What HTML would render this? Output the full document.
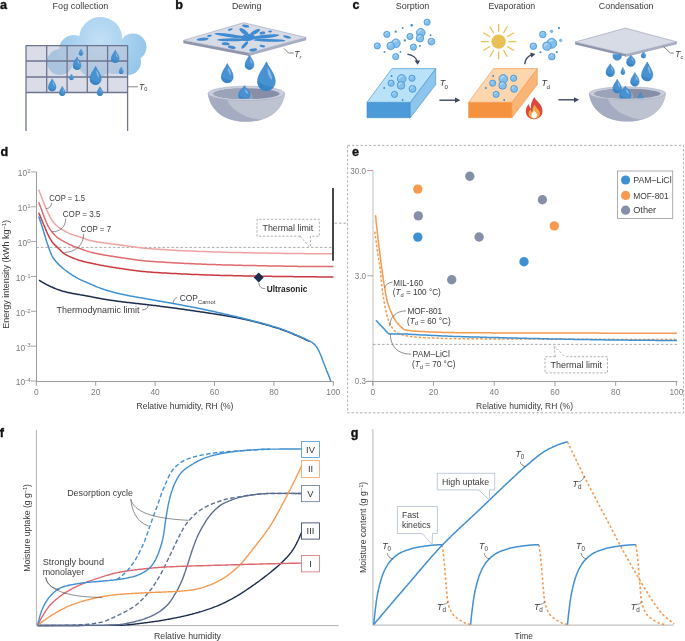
<!DOCTYPE html><html><head><meta charset="utf-8"><style>html,body{margin:0;padding:0;background:#fff;width:685px;height:641px;overflow:hidden}svg{display:block;will-change:transform}text{font-family:"Liberation Sans", sans-serif}</style></head><body>
<svg width="685" height="641" viewBox="0 0 685 641">
<defs><radialGradient id="cloudg" gradientUnits="userSpaceOnUse" cx="100" cy="40" r="50"><stop offset="0" stop-color="#c3e0f5"/><stop offset="1" stop-color="#92c5ea"/></radialGradient></defs>
<rect width="685" height="641" fill="#fff"/>
<text x="0" y="9.3" font-size="12.6" fill="#111" text-anchor="start" font-weight="bold" stroke="#111" stroke-width="0.35">a</text>
<text x="52.6" y="9.2" font-size="8.8" fill="#3a3a3a" text-anchor="start" font-weight="normal" textLength="55.7" lengthAdjust="spacingAndGlyphs">Fog collection</text>
<text x="175.3" y="9.3" font-size="12.6" fill="#111" text-anchor="start" font-weight="bold" stroke="#111" stroke-width="0.35">b</text>
<text x="232" y="9.2" font-size="8.8" fill="#3a3a3a" text-anchor="start" font-weight="normal" textLength="29.4" lengthAdjust="spacingAndGlyphs">Dewing</text>
<text x="352.4" y="8.9" font-size="12.6" fill="#111" text-anchor="start" font-weight="bold" stroke="#111" stroke-width="0.35">c</text>
<text x="395.7" y="9.2" font-size="8.8" fill="#3a3a3a" text-anchor="start" font-weight="normal" textLength="33.6" lengthAdjust="spacingAndGlyphs">Sorption</text>
<text x="488.4" y="9.2" font-size="8.8" fill="#3a3a3a" text-anchor="start" font-weight="normal" textLength="46.8" lengthAdjust="spacingAndGlyphs">Evaporation</text>
<text x="598.8" y="9.2" font-size="8.8" fill="#3a3a3a" text-anchor="start" font-weight="normal" textLength="54.7" lengthAdjust="spacingAndGlyphs">Condensation</text>
<clipPath id="cloudclip"><circle cx="100.7" cy="38.5" r="21.5"/><circle cx="74" cy="50" r="15"/><circle cx="60" cy="62" r="13"/><circle cx="133" cy="47" r="13.5"/><circle cx="128" cy="62" r="13"/><circle cx="95" cy="60" r="18"/><circle cx="115" cy="58" r="16"/></clipPath><rect x="40" y="10" width="115" height="75" fill="url(#cloudg)" clip-path="url(#cloudclip)"/>
<rect x="26" y="45.6" width="101.6" height="46.9" fill="rgb(189,195,213)" opacity="0.56"/>
<g stroke="#6d7591" stroke-width="1.3" fill="none"><line x1="26" y1="45.6" x2="26" y2="131"/><line x1="46.7" y1="45.6" x2="46.7" y2="92.5"/><line x1="67.1" y1="45.6" x2="67.1" y2="92.5"/><line x1="87.3" y1="45.6" x2="87.3" y2="92.5"/><line x1="107.6" y1="45.6" x2="107.6" y2="92.5"/><line x1="127.6" y1="45.6" x2="127.6" y2="131"/><line x1="26" y1="45.6" x2="127.6" y2="45.6"/><line x1="26" y1="61" x2="127.6" y2="61"/><line x1="26" y1="77" x2="127.6" y2="77"/><line x1="26" y1="92.5" x2="127.6" y2="92.5"/></g>
<path d="M81.00,48.90 C81.63,50.35 83.10,51.51 83.10,53.40 A2.10,2.10 0 0 1 78.90,53.40 C78.90,51.51 80.37,50.35 81.00,48.90Z" fill="#4892d2" stroke="#3a80c3" stroke-width="0.25"/><path d="M78.94,53.19 A2.06,2.06 0 0 0 82.72,54.60 Q80.47,54.55 78.94,53.19Z" fill="#3a85c8"/><path d="M81.25,50.22 C81.94,51.08 82.47,52.24 82.26,52.98 C81.63,52.35 81.21,51.54 81.25,50.22Z" fill="#9cc6ea" opacity="0.8"/>
<path d="M115.20,50.20 C116.39,52.93 119.15,55.09 119.15,58.65 A3.95,3.95 0 0 1 111.25,58.65 C111.25,55.09 114.02,52.93 115.20,50.20Z" fill="#4892d2" stroke="#3a80c3" stroke-width="0.47"/><path d="M111.33,58.25 A3.87,3.87 0 0 0 118.44,60.92 Q114.21,60.82 111.33,58.25Z" fill="#3a85c8"/><path d="M115.67,52.68 C116.98,54.29 117.97,56.48 117.57,57.86 C116.39,56.67 115.59,55.16 115.67,52.68Z" fill="#9cc6ea" opacity="0.8"/>
<path d="M77.00,57.00 C78.19,59.77 80.95,62.09 80.95,65.65 A3.95,3.95 0 0 1 73.05,65.65 C73.05,62.09 75.81,59.77 77.00,57.00Z" fill="#4892d2" stroke="#3a80c3" stroke-width="0.47"/><path d="M73.13,65.25 A3.87,3.87 0 0 0 80.24,67.92 Q76.01,67.82 73.13,65.25Z" fill="#3a85c8"/><path d="M77.47,59.52 C78.78,61.16 79.77,63.48 79.37,64.86 C78.19,63.67 77.39,62.04 77.47,59.52Z" fill="#9cc6ea" opacity="0.8"/>
<path d="M121.20,67.00 C121.86,68.52 123.40,69.72 123.40,71.70 A2.20,2.20 0 0 1 119.00,71.70 C119.00,69.72 120.54,68.52 121.20,67.00Z" fill="#4892d2" stroke="#3a80c3" stroke-width="0.26"/><path d="M119.04,71.48 A2.16,2.16 0 0 0 123.00,72.96 Q120.65,72.91 119.04,71.48Z" fill="#3a85c8"/><path d="M121.46,68.38 C122.19,69.28 122.74,70.49 122.52,71.26 C121.86,70.60 121.42,69.76 121.46,68.38Z" fill="#9cc6ea" opacity="0.8"/>
<path d="M95.60,66.30 C97.28,70.35 101.20,74.06 101.20,79.10 A5.60,5.60 0 0 1 90.00,79.10 C90.00,74.06 93.92,70.35 95.60,66.30Z" fill="#4892d2" stroke="#3a80c3" stroke-width="0.60"/><path d="M90.11,78.54 A5.49,5.49 0 0 0 100.19,82.31 Q94.20,82.18 90.11,78.54Z" fill="#3a85c8"/><path d="M96.27,69.98 C98.12,72.37 99.52,76.02 98.96,77.98 C97.28,76.30 96.16,73.66 96.27,69.98Z" fill="#9cc6ea" opacity="0.8"/>
<path d="M71.50,74.00 C72.13,75.32 73.60,76.01 73.60,77.90 A2.10,2.10 0 0 1 69.40,77.90 C69.40,76.01 70.87,75.32 71.50,74.00Z" fill="#4892d2" stroke="#3a80c3" stroke-width="0.25"/><path d="M69.44,77.69 A2.06,2.06 0 0 0 73.22,79.10 Q70.97,79.06 69.44,77.69Z" fill="#3a85c8"/><path d="M71.75,75.20 C72.44,75.98 72.97,76.75 72.76,77.48 C72.13,76.85 71.71,76.40 71.75,75.20Z" fill="#9cc6ea" opacity="0.8"/>
<path d="M52.20,78.80 C53.34,81.48 56.00,83.78 56.00,87.20 A3.80,3.80 0 0 1 48.40,87.20 C48.40,83.78 51.06,81.48 52.20,78.80Z" fill="#4892d2" stroke="#3a80c3" stroke-width="0.46"/><path d="M48.48,86.82 A3.72,3.72 0 0 0 55.31,89.38 Q51.25,89.29 48.48,86.82Z" fill="#3a85c8"/><path d="M52.66,81.24 C53.91,82.83 54.86,85.11 54.48,86.44 C53.34,85.30 52.58,83.68 52.66,81.24Z" fill="#9cc6ea" opacity="0.8"/>
<path d="M62.30,86.20 C63.18,88.31 65.25,90.19 65.25,92.85 A2.95,2.95 0 0 1 59.35,92.85 C59.35,90.19 61.41,88.31 62.30,86.20Z" fill="#4892d2" stroke="#3a80c3" stroke-width="0.35"/><path d="M59.41,92.55 A2.89,2.89 0 0 0 64.72,94.54 Q61.56,94.47 59.41,92.55Z" fill="#3a85c8"/><path d="M62.65,88.12 C63.63,89.37 64.36,91.23 64.07,92.26 C63.18,91.38 62.59,90.04 62.65,88.12Z" fill="#9cc6ea" opacity="0.8"/>
<path d="M100.00,86.60 C100.89,88.62 102.95,90.19 102.95,92.85 A2.95,2.95 0 0 1 97.05,92.85 C97.05,90.19 99.11,88.62 100.00,86.60Z" fill="#4892d2" stroke="#3a80c3" stroke-width="0.35"/><path d="M97.11,92.55 A2.89,2.89 0 0 0 102.42,94.54 Q99.26,94.47 97.11,92.55Z" fill="#3a85c8"/><path d="M100.35,88.44 C101.33,89.64 102.06,91.23 101.77,92.26 C100.89,91.38 100.30,90.28 100.35,88.44Z" fill="#9cc6ea" opacity="0.8"/>
<line x1="127.6" y1="86.8" x2="138" y2="86.8" stroke="#555" stroke-width="0.7"/>
<text x="139" y="89.6" font-size="8.4" fill="#3a3a3a" text-anchor="start" font-weight="normal" font-style="italic">T</text>
<text x="144.2" y="91.3" font-size="5.6" fill="#3a3a3a" text-anchor="start" font-weight="normal">0</text>
<polygon points="183.4,40.4 249.3,53.1 249.3,55.9 183.4,43.199999999999996" fill="#8e95ac"/><polygon points="249.3,53.1 306.2,37.5 306.2,40.3 249.3,55.9" fill="#a9afc3"/><polygon points="183.4,40.4 243.6,22.7 306.2,37.5 249.3,53.1" fill="#d7dbe6" stroke="#979eb4" stroke-width="0.6" stroke-linejoin="round"/>
<g fill="#3f8ad0"><ellipse cx="229.90" cy="35.55" rx="15.83" ry="1.60" transform="rotate(7.4 229.90 35.55)"/><ellipse cx="244.05" cy="31.85" rx="5.71" ry="2.10" transform="rotate(37.2 244.05 31.85)"/><ellipse cx="255.15" cy="32.05" rx="5.57" ry="1.80" transform="rotate(-27.3 255.15 32.05)"/><ellipse cx="264.75" cy="36.55" rx="14.63" ry="1.80" transform="rotate(-6.1 264.75 36.55)"/><ellipse cx="269.30" cy="40.30" rx="16.10" ry="1.40" transform="rotate(1.4 269.30 40.30)"/><ellipse cx="232.15" cy="39.75" rx="14.95" ry="1.60" transform="rotate(-0.6 232.15 39.75)"/><ellipse cx="244.80" cy="44.95" rx="4.64" ry="1.60" transform="rotate(131.9 244.80 44.95)"/></g>
<g fill="#3f8ad0"><ellipse cx="245.6" cy="26.1" rx="3.5" ry="1.3" transform="rotate(10 245.6 26.1)"/><ellipse cx="230.3" cy="29.5" rx="2.5" ry="1.0" transform="rotate(-15 230.3 29.5)"/><ellipse cx="231.8" cy="47.3" rx="4" ry="1.5" transform="rotate(10 231.8 47.3)"/><ellipse cx="202.7" cy="39.2" rx="6" ry="1.5" transform="rotate(-5 202.7 39.2)"/><ellipse cx="209.6" cy="35.8" rx="2.5" ry="1" transform="rotate(-10 209.6 35.8)"/><ellipse cx="262.4" cy="33" rx="3" ry="1.5" transform="rotate(-10 262.4 33)"/><ellipse cx="270.1" cy="31.5" rx="2" ry="1" transform="rotate(0 270.1 31.5)"/><ellipse cx="287" cy="36.9" rx="4" ry="1.3" transform="rotate(15 287 36.9)"/><ellipse cx="253.2" cy="49.9" rx="4" ry="1.5" transform="rotate(-10 253.2 49.9)"/><ellipse cx="262.4" cy="46.1" rx="3" ry="1.2" transform="rotate(10 262.4 46.1)"/><ellipse cx="225.7" cy="43.8" rx="4" ry="1.5" transform="rotate(5 225.7 43.8)"/><ellipse cx="248" cy="37.5" rx="7" ry="3.5" transform="rotate(-5 248 37.5)"/></g>
<polyline points="284,48.4 288.5,53 293.6,53" fill="none" stroke="#555" stroke-width="0.7"/>
<text x="294.3" y="56.8" font-size="8.4" fill="#3a3a3a" text-anchor="start" font-weight="normal" font-style="italic">T</text>
<text x="299.6" y="58.6" font-size="5.6" fill="#3a3a3a" text-anchor="start" font-weight="normal" font-style="italic">r</text>
<clipPath id="bowlclip1"><path d="M208.10000000000002,93.4 C210.10000000000002,110.884 225.335,121.6 246.4,121.6 C267.46500000000003,121.6 282.7,110.884 284.7,93.4 Z"/></clipPath><path d="M208.10000000000002,93.4 C210.10000000000002,110.884 225.335,121.6 246.4,121.6 C267.46500000000003,121.6 282.7,110.884 284.7,93.4 Z" fill="#bec3d2" stroke="#a9afc2" stroke-width="0.5"/><path d="M205.10000000000002,91.4 L225.335,93.4 C227.25,108.91 244.485,119.1 267.46500000000003,120.6 L267.46500000000003,124.6 L205.10000000000002,124.6 Z" fill="#a5acc1" clip-path="url(#bowlclip1)"/><ellipse cx="246.4" cy="93.4" rx="38.3" ry="7.2" fill="#c9cedb" stroke="#a0a7bb" stroke-width="0.5"/><ellipse cx="246.4" cy="93.7" rx="33.2" ry="5.4" fill="#878ea7"/><path d="M213.2,93.7 A33.2,5.4 0 0 1 244.74,88.3 C250.38400000000001,91.24000000000001 253.04000000000002,95.02000000000001 252.376,98.992 A33.2,5.4 0 0 1 213.2,93.7 Z" fill="#9ca3b9"/>
<path d="M227.30,63.50 C229.07,67.75 233.20,71.59 233.20,76.90 A5.90,5.90 0 0 1 221.40,76.90 C221.40,71.59 225.53,67.75 227.30,63.50Z" fill="#4892d2" stroke="#3a80c3" stroke-width="0.60"/><path d="M221.52,76.31 A5.78,5.78 0 0 0 232.13,80.28 Q225.83,80.14 221.52,76.31Z" fill="#3a85c8"/><path d="M228.01,67.36 C229.96,69.87 231.43,73.65 230.84,75.72 C229.07,73.95 227.89,71.22 228.01,67.36Z" fill="#9cc6ea" opacity="0.8"/>
<path d="M249.50,55.00 C250.84,58.17 253.95,60.95 253.95,64.95 A4.45,4.45 0 0 1 245.05,64.95 C245.05,60.95 248.16,58.17 249.50,55.00Z" fill="#4892d2" stroke="#3a80c3" stroke-width="0.53"/><path d="M245.14,64.51 A4.36,4.36 0 0 0 253.15,67.50 Q248.39,67.40 245.14,64.51Z" fill="#3a85c8"/><path d="M250.03,57.88 C251.50,59.75 252.62,62.50 252.17,64.06 C250.84,62.73 249.94,60.76 250.03,57.88Z" fill="#9cc6ea" opacity="0.8"/>
<path d="M266.40,61.80 C269.05,68.16 275.25,73.89 275.25,81.85 A8.85,8.85 0 0 1 257.55,81.85 C257.55,73.89 263.75,68.16 266.40,61.80Z" fill="#4892d2" stroke="#3a80c3" stroke-width="0.60"/><path d="M257.73,80.97 A8.67,8.67 0 0 0 273.65,86.93 Q264.19,86.72 257.73,80.97Z" fill="#3a85c8"/><path d="M267.46,67.58 C270.38,71.34 272.59,76.98 271.71,80.08 C269.05,77.43 267.28,73.36 267.46,67.58Z" fill="#9cc6ea" opacity="0.8"/>
<clipPath id="bclip1"><rect x="200" y="80" width="90" height="18.6"/></clipPath>
<g clip-path="url(#bclip1)"><path d="M244.40,85.70 C246.12,89.07 250.15,90.08 250.15,95.25 A5.75,5.75 0 0 1 238.65,95.25 C238.65,90.08 242.68,89.07 244.40,85.70Z" fill="#4892d2" stroke="#3a80c3" stroke-width="0.60"/><path d="M238.77,94.67 A5.63,5.63 0 0 0 249.11,98.55 Q242.96,98.41 238.77,94.67Z" fill="#3a85c8"/><path d="M245.09,88.76 C246.99,90.75 248.43,92.09 247.85,94.10 C246.12,92.38 244.97,91.82 245.09,88.76Z" fill="#9cc6ea" opacity="0.8"/></g>
<circle cx="427.1" cy="22.2" r="3.1" fill="#84c0ec" stroke="#3d8dd0" stroke-width="0.75"/><path d="M425.39500000000004,21.89 A1.8599999999999999,1.8599999999999999 0 0 1 427.41,20.34" stroke="#b9dcf5" stroke-width="0.93" fill="none" stroke-linecap="round"/><circle cx="386.8" cy="34.4" r="3.1" fill="#84c0ec" stroke="#3d8dd0" stroke-width="0.75"/><path d="M385.095,34.089999999999996 A1.8599999999999999,1.8599999999999999 0 0 1 387.11,32.54" stroke="#b9dcf5" stroke-width="0.93" fill="none" stroke-linecap="round"/><circle cx="395.7" cy="31.7" r="1.15" fill="#3d8dd0"/><circle cx="402.7" cy="27.9" r="0.9500000000000001" fill="#3d8dd0"/><circle cx="411.7" cy="25.3" r="1.25" fill="#3d8dd0"/><circle cx="420.8" cy="32.7" r="4.3" fill="#84c0ec" stroke="#3d8dd0" stroke-width="0.75"/><path d="M418.435,32.27 A2.5799999999999996,2.5799999999999996 0 0 1 421.23,30.120000000000005" stroke="#b9dcf5" stroke-width="1.29" fill="none" stroke-linecap="round"/><circle cx="419.9" cy="38.2" r="3.8" fill="#84c0ec" stroke="#3d8dd0" stroke-width="0.75"/><path d="M417.81,37.82 A2.28,2.28 0 0 1 420.28,35.92" stroke="#b9dcf5" stroke-width="1.14" fill="none" stroke-linecap="round"/><circle cx="410" cy="36.5" r="3.1" fill="#84c0ec" stroke="#3d8dd0" stroke-width="0.75"/><path d="M408.295,36.19 A1.8599999999999999,1.8599999999999999 0 0 1 410.31,34.64" stroke="#b9dcf5" stroke-width="0.93" fill="none" stroke-linecap="round"/><circle cx="404.8" cy="40.4" r="1.15" fill="#3d8dd0"/><circle cx="430.6" cy="35.3" r="0.9500000000000001" fill="#3d8dd0"/><circle cx="431.4" cy="41.6" r="3.4" fill="#84c0ec" stroke="#3d8dd0" stroke-width="0.75"/><path d="M429.53,41.26 A2.04,2.04 0 0 1 431.73999999999995,39.56" stroke="#b9dcf5" stroke-width="1.02" fill="none" stroke-linecap="round"/><circle cx="395.9" cy="43.3" r="4.3" fill="#84c0ec" stroke="#3d8dd0" stroke-width="0.75"/><path d="M393.53499999999997,42.87 A2.5799999999999996,2.5799999999999996 0 0 1 396.33,40.72" stroke="#b9dcf5" stroke-width="1.29" fill="none" stroke-linecap="round"/><circle cx="390.7" cy="45.9" r="3.8" fill="#84c0ec" stroke="#3d8dd0" stroke-width="0.75"/><path d="M388.61,45.519999999999996 A2.28,2.28 0 0 1 391.08,43.62" stroke="#b9dcf5" stroke-width="1.14" fill="none" stroke-linecap="round"/><circle cx="377.3" cy="45.9" r="3.1" fill="#84c0ec" stroke="#3d8dd0" stroke-width="0.75"/><path d="M375.595,45.589999999999996 A1.8599999999999999,1.8599999999999999 0 0 1 377.61,44.04" stroke="#b9dcf5" stroke-width="0.93" fill="none" stroke-linecap="round"/><circle cx="413.4" cy="47.1" r="3.1" fill="#84c0ec" stroke="#3d8dd0" stroke-width="0.75"/><path d="M411.695,46.79 A1.8599999999999999,1.8599999999999999 0 0 1 413.71,45.24" stroke="#b9dcf5" stroke-width="0.93" fill="none" stroke-linecap="round"/><circle cx="419.8" cy="45.9" r="0.9500000000000001" fill="#3d8dd0"/><circle cx="384.5" cy="51.9" r="0.9500000000000001" fill="#3d8dd0"/><circle cx="400.5" cy="51.9" r="0.9500000000000001" fill="#3d8dd0"/><circle cx="395.7" cy="56.6" r="3.1" fill="#84c0ec" stroke="#3d8dd0" stroke-width="0.75"/><path d="M393.995,56.29 A1.8599999999999999,1.8599999999999999 0 0 1 396.01,54.74" stroke="#b9dcf5" stroke-width="0.93" fill="none" stroke-linecap="round"/>
<polygon points="367,102.3 410.3,102.3 410.3,117.7 367,117.7" fill="#4c9ad7" stroke="#3d8dd0" stroke-width="0.6"/><polygon points="410.3,102.3 435.7,68.6 435.7,84.6 410.3,117.7" fill="#8dc5ec" stroke="#3d8dd0" stroke-width="0.6" stroke-linejoin="round"/><polygon points="391.9,68.6 435.7,68.6 410.3,102.3 367,102.3" fill="#b9e1f8" stroke="#3d8dd0" stroke-width="0.6" stroke-linejoin="round"/>
<circle cx="391.6" cy="76" r="0.9500000000000001" fill="#3d8dd0"/><circle cx="401.7" cy="78.9" r="4.3" fill="#84c0ec" stroke="#3d8dd0" stroke-width="0.75"/><path d="M399.335,78.47 A2.5799999999999996,2.5799999999999996 0 0 1 402.13,76.32000000000001" stroke="#b9dcf5" stroke-width="1.29" fill="none" stroke-linecap="round"/><circle cx="412" cy="78.2" r="3.1" fill="#84c0ec" stroke="#3d8dd0" stroke-width="0.75"/><path d="M410.295,77.89 A1.8599999999999999,1.8599999999999999 0 0 1 412.31,76.34" stroke="#b9dcf5" stroke-width="0.93" fill="none" stroke-linecap="round"/><circle cx="391.1" cy="83.2" r="3.1" fill="#84c0ec" stroke="#3d8dd0" stroke-width="0.75"/><path d="M389.39500000000004,82.89 A1.8599999999999999,1.8599999999999999 0 0 1 391.41,81.34" stroke="#b9dcf5" stroke-width="0.93" fill="none" stroke-linecap="round"/><circle cx="401" cy="85.4" r="3.8" fill="#84c0ec" stroke="#3d8dd0" stroke-width="0.75"/><path d="M398.91,85.02000000000001 A2.28,2.28 0 0 1 401.38,83.12" stroke="#b9dcf5" stroke-width="1.14" fill="none" stroke-linecap="round"/><circle cx="384.2" cy="88" r="0.9500000000000001" fill="#3d8dd0"/><circle cx="412.5" cy="88.9" r="3.4" fill="#84c0ec" stroke="#3d8dd0" stroke-width="0.75"/><path d="M410.63,88.56 A2.04,2.04 0 0 1 412.84,86.86" stroke="#b9dcf5" stroke-width="1.02" fill="none" stroke-linecap="round"/><circle cx="394.5" cy="94.4" r="3.1" fill="#84c0ec" stroke="#3d8dd0" stroke-width="0.75"/><path d="M392.795,94.09 A1.8599999999999999,1.8599999999999999 0 0 1 394.81,92.54" stroke="#b9dcf5" stroke-width="0.93" fill="none" stroke-linecap="round"/><circle cx="402.6" cy="100" r="0.9500000000000001" fill="#3d8dd0"/>
<polygon points="468.6,102.3 511.9,102.3 511.9,117.7 468.6,117.7" fill="#f5923f" stroke="#f39341" stroke-width="0.6"/><polygon points="511.9,102.3 537.3,68.6 537.3,84.6 511.9,117.7" fill="#f9b577" stroke="#f39341" stroke-width="0.6" stroke-linejoin="round"/><polygon points="493.5,68.6 537.3,68.6 511.9,102.3 468.6,102.3" fill="#fdd6ad" stroke="#f39341" stroke-width="0.6" stroke-linejoin="round"/>
<circle cx="493.20000000000005" cy="76" r="0.9500000000000001" fill="#3d8dd0"/><circle cx="503.29999999999995" cy="78.9" r="4.3" fill="#84c0ec" stroke="#3d8dd0" stroke-width="0.75"/><path d="M500.93499999999995,78.47 A2.5799999999999996,2.5799999999999996 0 0 1 503.72999999999996,76.32000000000001" stroke="#b9dcf5" stroke-width="1.29" fill="none" stroke-linecap="round"/><circle cx="513.6" cy="78.2" r="3.1" fill="#84c0ec" stroke="#3d8dd0" stroke-width="0.75"/><path d="M511.89500000000004,77.89 A1.8599999999999999,1.8599999999999999 0 0 1 513.91,76.34" stroke="#b9dcf5" stroke-width="0.93" fill="none" stroke-linecap="round"/><circle cx="492.70000000000005" cy="83.2" r="3.1" fill="#84c0ec" stroke="#3d8dd0" stroke-width="0.75"/><path d="M490.99500000000006,82.89 A1.8599999999999999,1.8599999999999999 0 0 1 493.01000000000005,81.34" stroke="#b9dcf5" stroke-width="0.93" fill="none" stroke-linecap="round"/><circle cx="502.6" cy="85.4" r="3.8" fill="#84c0ec" stroke="#3d8dd0" stroke-width="0.75"/><path d="M500.51000000000005,85.02000000000001 A2.28,2.28 0 0 1 502.98,83.12" stroke="#b9dcf5" stroke-width="1.14" fill="none" stroke-linecap="round"/><circle cx="485.79999999999995" cy="88" r="0.9500000000000001" fill="#3d8dd0"/><circle cx="514.1" cy="88.9" r="3.4" fill="#84c0ec" stroke="#3d8dd0" stroke-width="0.75"/><path d="M512.23,88.56 A2.04,2.04 0 0 1 514.44,86.86" stroke="#b9dcf5" stroke-width="1.02" fill="none" stroke-linecap="round"/><circle cx="496.1" cy="94.4" r="3.1" fill="#84c0ec" stroke="#3d8dd0" stroke-width="0.75"/><path d="M494.39500000000004,94.09 A1.8599999999999999,1.8599999999999999 0 0 1 496.41,92.54" stroke="#b9dcf5" stroke-width="0.93" fill="none" stroke-linecap="round"/><circle cx="504.20000000000005" cy="100" r="0.9500000000000001" fill="#3d8dd0"/>
<path d="M407.4,54.2 Q415.5,55.5 417.2,61.5" fill="none" stroke="#3b4763" stroke-width="1.3"/>
<polygon points="414.5,60.6 420.2,60.4 417.6,64.8" fill="#3b4763"/>
<path d="M524.7,64.3 Q525.5,57 531.5,54.9" fill="none" stroke="#3b4763" stroke-width="1.3"/>
<polygon points="530.2,52.4 535.5,53.9 531.4,57.6" fill="#3b4763"/>
<line x1="439.4" y1="100.2" x2="456" y2="100.2" stroke="#3b4763" stroke-width="1.4"/><polygon points="455,97.6 460.4,100.2 455,102.8" fill="#3b4763"/>
<line x1="558.4" y1="99.8" x2="575" y2="99.8" stroke="#3b4763" stroke-width="1.4"/><polygon points="574,97.2 579.2,99.8 574,102.4" fill="#3b4763"/>
<text x="439.8" y="86.4" font-size="9" fill="#3a3a3a" text-anchor="start" font-weight="normal" font-style="italic">T</text>
<text x="444.6" y="89.4" font-size="6.2" fill="#3a3a3a" text-anchor="start" font-weight="normal">0</text>
<text x="541.6" y="86.4" font-size="9" fill="#3a3a3a" text-anchor="start" font-weight="normal" font-style="italic">T</text>
<text x="546.5" y="89.4" font-size="6.2" fill="#3a3a3a" text-anchor="start" font-weight="normal">d</text>
<g stroke="#e8c056" stroke-width="1.3" stroke-linecap="round"><line x1="508.90" y1="41.60" x2="515.80" y2="41.60"/><line x1="507.52" y1="46.75" x2="513.50" y2="50.20"/><line x1="503.75" y1="50.52" x2="507.20" y2="56.50"/><line x1="498.60" y1="51.90" x2="498.60" y2="58.80"/><line x1="493.45" y1="50.52" x2="490.00" y2="56.50"/><line x1="489.68" y1="46.75" x2="483.70" y2="50.20"/><line x1="488.30" y1="41.60" x2="481.40" y2="41.60"/><line x1="489.68" y1="36.45" x2="483.70" y2="33.00"/><line x1="493.45" y1="32.68" x2="490.00" y2="26.70"/><line x1="498.60" y1="31.30" x2="498.60" y2="24.40"/><line x1="503.75" y1="32.68" x2="507.20" y2="26.70"/><line x1="507.52" y1="36.45" x2="513.50" y2="33.00"/></g><circle cx="498.6" cy="41.6" r="7.2" fill="#e8c056"/>
<circle cx="542.8" cy="34.5" r="3.3" fill="#84c0ec" stroke="#3d8dd0" stroke-width="0.75"/><path d="M540.9849999999999,34.17 A1.9799999999999998,1.9799999999999998 0 0 1 543.13,32.52" stroke="#b9dcf5" stroke-width="0.99" fill="none" stroke-linecap="round"/><circle cx="551.5" cy="31.4" r="1.2" fill="#84c0ec" stroke="#3d8dd0" stroke-width="0.6"/><circle cx="558.9" cy="28.1" r="1.05" fill="#3d8dd0"/><circle cx="560.6" cy="40.4" r="1.2" fill="#84c0ec" stroke="#3d8dd0" stroke-width="0.6"/><circle cx="551.8" cy="43.3" r="4.9" fill="#84c0ec" stroke="#3d8dd0" stroke-width="0.75"/><path d="M549.1049999999999,42.809999999999995 A2.94,2.94 0 0 1 552.29,40.36" stroke="#b9dcf5" stroke-width="1.47" fill="none" stroke-linecap="round"/><circle cx="546.9" cy="46.2" r="4.1" fill="#84c0ec" stroke="#3d8dd0" stroke-width="0.75"/><path d="M544.645,45.790000000000006 A2.4599999999999995,2.4599999999999995 0 0 1 547.31,43.74" stroke="#b9dcf5" stroke-width="1.23" fill="none" stroke-linecap="round"/><circle cx="533.4" cy="46.2" r="3.3" fill="#84c0ec" stroke="#3d8dd0" stroke-width="0.75"/><path d="M531.5849999999999,45.870000000000005 A1.9799999999999998,1.9799999999999998 0 0 1 533.73,44.220000000000006" stroke="#b9dcf5" stroke-width="0.99" fill="none" stroke-linecap="round"/><circle cx="540.4" cy="52.3" r="1.05" fill="#3d8dd0"/><circle cx="556.8" cy="52" r="1.05" fill="#3d8dd0"/><circle cx="551.8" cy="56.7" r="3.3" fill="#84c0ec" stroke="#3d8dd0" stroke-width="0.75"/><path d="M549.9849999999999,56.370000000000005 A1.9799999999999998,1.9799999999999998 0 0 1 552.13,54.720000000000006" stroke="#b9dcf5" stroke-width="0.99" fill="none" stroke-linecap="round"/>
<path d="M534.2,97 C536,101 542.5,104 542.5,111 C542.5,116 538.5,119.2 534.2,119.2 C529.5,119.2 525.8,116 525.8,111.5 C525.8,107.5 527.5,105.5 529,104 C529.2,106.5 530,108 531,108.5 C530.5,103.5 532.5,100 534.2,97 Z" fill="#d9493c"/>
<path d="M534.5,104.5 C536,108 540,110 540,113.5 C540,116.5 537.5,118.5 534.2,118.5 C531,118.5 528.5,116.5 528.5,113.5 C528.5,111.5 529.5,110.5 530.5,109.5 C531,111 531.5,112 532.5,112 C532,109 533.5,106.5 534.5,104.5 Z" fill="#f6a748"/>
<path d="M534.2,110.5 C535.5,112 537,113.5 537,115.5 C537,117.2 535.8,118.3 534.2,118.3 C532.6,118.3 531.4,117.2 531.4,115.5 C531.4,113.5 533,112 534.2,110.5 Z" fill="#fff"/>
<polygon points="575.1,42 626.6,54.3 626.6,56.8 575.1,44.5" fill="#8e95ac"/><polygon points="626.6,54.3 676.8,41.8 676.8,44.3 626.6,56.8" fill="#a9afc3"/><polygon points="575.1,42 625.3,28.1 676.8,41.8 626.6,54.3" fill="#d7dbe6" stroke="#979eb4" stroke-width="0.6" stroke-linejoin="round"/>
<polyline points="663.5,46.6 670.4,53.1 673.8,53.1" fill="none" stroke="#555" stroke-width="0.7"/>
<text x="675.3" y="57.2" font-size="8.4" fill="#3a3a3a" text-anchor="start" font-weight="normal" font-style="italic">T</text>
<text x="680.4" y="59" font-size="5.6" fill="#3a3a3a" text-anchor="start" font-weight="normal">c</text>
<clipPath id="bowlclip2"><path d="M589.1999999999999,93.4 C591.1999999999999,110.69800000000001 606.39,121.3 627.4,121.3 C648.41,121.3 663.6,110.69800000000001 665.6,93.4 Z"/></clipPath><path d="M589.1999999999999,93.4 C591.1999999999999,110.69800000000001 606.39,121.3 627.4,121.3 C648.41,121.3 663.6,110.69800000000001 665.6,93.4 Z" fill="#bec3d2" stroke="#a9afc2" stroke-width="0.5"/><path d="M586.1999999999999,91.4 L606.39,93.4 C608.3,108.745 625.49,118.8 648.41,120.3 L648.41,124.3 L586.1999999999999,124.3 Z" fill="#a5acc1" clip-path="url(#bowlclip2)"/><ellipse cx="627.4" cy="93.4" rx="38.2" ry="6.6" fill="#c9cedb" stroke="#a0a7bb" stroke-width="0.5"/><ellipse cx="627.4" cy="93.7" rx="33.2" ry="5.0" fill="#878ea7"/><path d="M594.1999999999999,93.7 A33.2,5.0 0 0 1 625.74,88.7 C631.384,91.4 634.04,94.9 633.376,98.60000000000001 A33.2,5.0 0 0 1 594.1999999999999,93.7 Z" fill="#9ca3b9"/>
<clipPath id="cclip0"><rect x="600" y="54.3" width="60" height="20"/></clipPath>
<g clip-path="url(#cclip0)"><path d="M617.20,48.00 C618.49,50.71 621.50,52.13 621.50,56.00 A4.30,4.30 0 0 1 612.90,56.00 C612.90,52.13 615.91,50.71 617.20,48.00Z" fill="#4892d2" stroke="#3a80c3" stroke-width="0.52"/></g>
<path d="M630.90,55.20 C632.19,57.64 635.20,58.13 635.20,62.00 A4.30,4.30 0 0 1 626.60,62.00 C626.60,58.13 629.61,57.64 630.90,55.20Z" fill="#4892d2" stroke="#3a80c3" stroke-width="0.52"/><path d="M626.69,61.57 A4.21,4.21 0 0 0 634.42,64.47 Q629.82,64.36 626.69,61.57Z" fill="#3a85c8"/><path d="M631.42,57.42 C632.83,58.86 633.91,59.63 633.48,61.14 C632.19,59.85 631.33,59.64 631.42,57.42Z" fill="#9cc6ea" opacity="0.8"/>
<path d="M643.50,51.80 C644.22,53.19 645.90,53.54 645.90,55.70 A2.40,2.40 0 0 1 641.10,55.70 C641.10,53.54 642.78,53.19 643.50,51.80Z" fill="#4892d2" stroke="#3a80c3" stroke-width="0.29"/><path d="M641.15,55.46 A2.35,2.35 0 0 0 645.47,57.08 Q642.90,57.02 641.15,55.46Z" fill="#3a85c8"/><path d="M643.79,53.06 C644.58,53.88 645.18,54.38 644.94,55.22 C644.22,54.50 643.74,54.32 643.79,53.06Z" fill="#9cc6ea" opacity="0.8"/>
<path d="M610.30,63.80 C611.59,66.62 614.60,68.43 614.60,72.30 A4.30,4.30 0 0 1 606.00,72.30 C606.00,68.43 609.01,66.62 610.30,63.80Z" fill="#4892d2" stroke="#3a80c3" stroke-width="0.52"/><path d="M606.09,71.87 A4.21,4.21 0 0 0 613.82,74.77 Q609.22,74.66 606.09,71.87Z" fill="#3a85c8"/><path d="M610.82,66.36 C612.23,68.02 613.31,69.94 612.88,71.44 C611.59,70.15 610.73,68.92 610.82,66.36Z" fill="#9cc6ea" opacity="0.8"/>
<path d="M622.90,67.20 C623.54,68.83 625.05,70.51 625.05,72.45 A2.15,2.15 0 0 1 620.75,72.45 C620.75,70.51 622.25,68.83 622.90,67.20Z" fill="#4892d2" stroke="#3a80c3" stroke-width="0.26"/><path d="M620.79,72.23 A2.11,2.11 0 0 0 624.66,73.68 Q622.36,73.63 620.79,72.23Z" fill="#3a85c8"/><path d="M623.16,68.68 C623.87,69.64 624.40,71.27 624.19,72.02 C623.54,71.37 623.12,70.16 623.16,68.68Z" fill="#9cc6ea" opacity="0.8"/>
<path d="M647.20,62.00 C648.88,66.16 652.80,70.26 652.80,75.30 A5.60,5.60 0 0 1 641.60,75.30 C641.60,70.26 645.52,66.16 647.20,62.00Z" fill="#4892d2" stroke="#3a80c3" stroke-width="0.60"/><path d="M641.71,74.74 A5.49,5.49 0 0 0 651.79,78.51 Q645.80,78.38 641.71,74.74Z" fill="#3a85c8"/><path d="M647.87,65.78 C649.72,68.24 651.12,72.22 650.56,74.18 C648.88,72.50 647.76,69.56 647.87,65.78Z" fill="#9cc6ea" opacity="0.8"/>
<path d="M634.90,72.40 C636.19,75.41 639.20,77.93 639.20,81.80 A4.30,4.30 0 0 1 630.60,81.80 C630.60,77.93 633.61,75.41 634.90,72.40Z" fill="#4892d2" stroke="#3a80c3" stroke-width="0.52"/><path d="M630.69,81.37 A4.21,4.21 0 0 0 638.42,84.27 Q633.82,84.16 630.69,81.37Z" fill="#3a85c8"/><path d="M635.42,75.14 C636.83,76.92 637.91,79.44 637.48,80.94 C636.19,79.65 635.33,77.88 635.42,75.14Z" fill="#9cc6ea" opacity="0.8"/>
<path d="M617.20,79.20 C618.49,82.24 621.50,84.83 621.50,88.70 A4.30,4.30 0 0 1 612.90,88.70 C612.90,84.83 615.91,82.24 617.20,79.20Z" fill="#4892d2" stroke="#3a80c3" stroke-width="0.52"/><path d="M612.99,88.27 A4.21,4.21 0 0 0 620.72,91.17 Q616.12,91.06 612.99,88.27Z" fill="#3a85c8"/><path d="M617.72,81.96 C619.13,83.75 620.21,86.34 619.78,87.84 C618.49,86.55 617.63,84.72 617.72,81.96Z" fill="#9cc6ea" opacity="0.8"/>
<clipPath id="cclip1"><rect x="600" y="80" width="60" height="18.3"/></clipPath>
<g clip-path="url(#cclip1)"><path d="M625.30,86.10 C626.98,89.38 630.90,90.36 630.90,95.40 A5.60,5.60 0 0 1 619.70,95.40 C619.70,90.36 623.62,89.38 625.30,86.10Z" fill="#4892d2" stroke="#3a80c3" stroke-width="0.60"/><path d="M619.81,94.84 A5.49,5.49 0 0 0 629.89,98.61 Q623.90,98.48 619.81,94.84Z" fill="#3a85c8"/><path d="M625.97,89.08 C627.82,91.02 629.22,92.32 628.66,94.28 C626.98,92.60 625.86,92.06 625.97,89.08Z" fill="#9cc6ea" opacity="0.8"/><path d="M640.40,92.50 C641.24,94.48 643.20,96.18 643.20,98.70 A2.80,2.80 0 0 1 637.60,98.70 C637.60,96.18 639.56,94.48 640.40,92.50Z" fill="#4892d2" stroke="#3a80c3" stroke-width="0.34"/></g>
<text x="0.6" y="156.2" font-size="12.6" fill="#111" text-anchor="start" font-weight="bold" stroke="#111" stroke-width="0.35">d</text>
<line x1="36.5" y1="171.9" x2="36.5" y2="381.5" stroke="#9c9c9c" stroke-width="1"/>
<line x1="36.5" y1="381.5" x2="333.5" y2="381.5" stroke="#9c9c9c" stroke-width="1"/>
<line x1="31" y1="171.90" x2="36.4" y2="171.90" stroke="#9c9c9c" stroke-width="0.9"/>
<text x="30.6" y="176.30" font-size="8.4" fill="#7c7c7c" text-anchor="end">10<tspan font-size="6.2" dy="-3.2">2</tspan></text>
<line x1="31" y1="206.75" x2="36.4" y2="206.75" stroke="#9c9c9c" stroke-width="0.9"/>
<text x="30.6" y="211.15" font-size="8.4" fill="#7c7c7c" text-anchor="end">10<tspan font-size="6.2" dy="-3.2">1</tspan></text>
<line x1="31" y1="241.60" x2="36.4" y2="241.60" stroke="#9c9c9c" stroke-width="0.9"/>
<text x="30.6" y="246.00" font-size="8.4" fill="#7c7c7c" text-anchor="end">10<tspan font-size="6.2" dy="-3.2">0</tspan></text>
<line x1="31" y1="276.45" x2="36.4" y2="276.45" stroke="#9c9c9c" stroke-width="0.9"/>
<text x="30.6" y="280.85" font-size="8.4" fill="#7c7c7c" text-anchor="end">10<tspan font-size="6.2" dy="-3.2">-1</tspan></text>
<line x1="31" y1="311.30" x2="36.4" y2="311.30" stroke="#9c9c9c" stroke-width="0.9"/>
<text x="30.6" y="315.70" font-size="8.4" fill="#7c7c7c" text-anchor="end">10<tspan font-size="6.2" dy="-3.2">-2</tspan></text>
<line x1="31" y1="346.15" x2="36.4" y2="346.15" stroke="#9c9c9c" stroke-width="0.9"/>
<text x="30.6" y="350.55" font-size="8.4" fill="#7c7c7c" text-anchor="end">10<tspan font-size="6.2" dy="-3.2">-3</tspan></text>
<line x1="31" y1="381.00" x2="36.4" y2="381.00" stroke="#9c9c9c" stroke-width="0.9"/>
<text x="30.6" y="385.40" font-size="8.4" fill="#7c7c7c" text-anchor="end">10<tspan font-size="6.2" dy="-3.2">-4</tspan></text>
<line x1="36.30" y1="381.5" x2="36.30" y2="385.8" stroke="#9c9c9c" stroke-width="1"/>
<text x="36.30" y="394.6" font-size="8.4" fill="#7c7c7c" text-anchor="middle" font-weight="normal">0</text>
<line x1="95.70" y1="381.5" x2="95.70" y2="385.8" stroke="#9c9c9c" stroke-width="1"/>
<text x="95.70" y="394.6" font-size="8.4" fill="#7c7c7c" text-anchor="middle" font-weight="normal">20</text>
<line x1="155.10" y1="381.5" x2="155.10" y2="385.8" stroke="#9c9c9c" stroke-width="1"/>
<text x="155.10" y="394.6" font-size="8.4" fill="#7c7c7c" text-anchor="middle" font-weight="normal">40</text>
<line x1="214.50" y1="381.5" x2="214.50" y2="385.8" stroke="#9c9c9c" stroke-width="1"/>
<text x="214.50" y="394.6" font-size="8.4" fill="#7c7c7c" text-anchor="middle" font-weight="normal">60</text>
<line x1="273.90" y1="381.5" x2="273.90" y2="385.8" stroke="#9c9c9c" stroke-width="1"/>
<text x="273.90" y="394.6" font-size="8.4" fill="#7c7c7c" text-anchor="middle" font-weight="normal">80</text>
<line x1="333.30" y1="381.5" x2="333.30" y2="385.8" stroke="#9c9c9c" stroke-width="1"/>
<text x="333.30" y="394.6" font-size="8.4" fill="#7c7c7c" text-anchor="middle" font-weight="normal">100</text>
<text x="136.5" y="409.2" font-size="8.6" fill="#3a3a3a" text-anchor="start" font-weight="normal" textLength="96.9" lengthAdjust="spacingAndGlyphs">Relative humidity, RH (%)</text>
<text transform="translate(8.8,274.3) rotate(-90)" font-size="8.6" fill="#3a3a3a" text-anchor="middle" textLength="108.8" lengthAdjust="spacingAndGlyphs">Energy intensity (kWh kg<tspan font-size="5.6" dy="-3">−1</tspan><tspan dy="3">)</tspan></text>
<line x1="36.4" y1="247.4" x2="333" y2="247.4" stroke="#8c8c8c" stroke-width="0.7" stroke-dasharray="2.6,1.9"/>
<path d="M38.7,189.6 L39.0,190.3 L39.2,191.0 L39.5,191.7 L39.7,192.3 L40.0,193.0 L40.3,193.7 L40.6,194.5 L40.8,195.2 L41.1,195.9 L41.4,196.7 L41.7,197.4 L42.0,198.2 L42.3,198.9 L42.6,199.7 L42.9,200.4 L43.1,201.2 L43.4,201.9 L43.7,202.7 L44.0,203.4 L44.3,204.2 L44.6,204.9 L44.9,205.6 L45.2,206.4 L45.5,207.1 L45.8,207.9 L46.1,208.6 L46.5,209.3 L46.8,210.1 L47.1,210.8 L47.4,211.5 L47.8,212.3 L48.1,213.0 L48.4,213.7 L48.8,214.4 L49.1,215.2 L49.5,215.9 L49.8,216.6 L50.2,217.3 L50.6,218.0 L51.0,218.7 L51.4,219.4 L51.8,220.0 L52.3,220.7 L52.7,221.3 L53.2,222.0 L53.7,222.6 L54.2,223.2 L54.8,223.8 L55.3,224.4 L55.9,224.9 L56.5,225.5 L57.1,226.0 L57.7,226.5 L58.3,227.0 L59.0,227.5 L59.6,228.0 L60.3,228.4 L60.9,228.9 L61.6,229.3 L62.3,229.7 L63.0,230.1 L63.7,230.5 L64.4,230.9 L65.1,231.3 L65.8,231.7 L66.5,232.1 L67.2,232.4 L67.9,232.8 L68.6,233.1 L69.4,233.4 L70.1,233.7 L70.9,234.0 L71.6,234.3 L72.4,234.6 L73.1,234.9 L73.9,235.1 L74.6,235.4 L75.4,235.6 L76.2,235.8 L76.9,236.1 L77.7,236.3 L78.5,236.5 L79.2,236.8 L80.0,237.0 L80.7,237.2 L81.5,237.5 L82.3,237.7 L83.0,238.0 L83.8,238.3 L84.5,238.6 L85.3,238.9 L86.0,239.2 L86.7,239.5 L87.5,239.7 L88.3,240.0 L89.0,240.2 L89.8,240.4 L90.6,240.6 L91.3,240.8 L92.1,241.0 L92.9,241.1 L93.7,241.3 L94.5,241.4 L95.3,241.6 L96.1,241.7 L96.8,241.8 L97.6,242.0 L98.4,242.1 L99.2,242.2 L100.0,242.3 L100.8,242.5 L101.6,242.6 L102.4,242.7 L103.2,242.8 L104.0,242.9 L104.8,243.0 L105.6,243.1 L106.3,243.2 L107.1,243.3 L107.9,243.4 L108.7,243.5 L109.5,243.6 L110.3,243.7 L111.1,243.8 L111.9,243.9 L112.7,244.0 L113.5,244.1 L114.3,244.2 L115.1,244.3 L115.9,244.4 L116.7,244.5 L117.5,244.6 L118.3,244.7 L119.1,244.8 L119.8,244.9 L120.6,245.0 L121.4,245.1 L122.2,245.2 L123.0,245.3 L123.8,245.4 L124.6,245.5 L125.4,245.7 L126.2,245.8 L127.0,245.9 L127.8,246.0 L128.6,246.1 L129.4,246.2 L130.1,246.4 L130.9,246.5 L131.7,246.6 L132.5,246.7 L133.3,246.8 L134.1,246.9 L134.9,247.0 L135.7,247.1 L136.5,247.2 L137.3,247.4 L138.1,247.5 L138.9,247.6 L139.7,247.7 L140.4,247.8 L141.2,247.9 L142.0,247.9 L142.8,248.0 L143.6,248.1 L144.4,248.2 L145.2,248.3 L146.0,248.4 L146.8,248.4 L147.6,248.5 L148.4,248.6 L149.2,248.6 L150.0,248.7 L150.8,248.8 L151.6,248.8 L152.4,248.9 L153.2,248.9 L154.0,249.0 L154.8,249.0 L155.6,249.1 L156.4,249.1 L157.2,249.2 L158.0,249.2 L158.8,249.3 L159.6,249.3 L160.4,249.4 L161.2,249.4 L162.0,249.5 L162.8,249.5 L163.6,249.6 L164.4,249.6 L165.2,249.7 L166.0,249.7 L166.8,249.8 L167.6,249.8 L168.4,249.9 L169.2,249.9 L170.0,250.0 L170.8,250.0 L171.6,250.1 L172.4,250.1 L173.2,250.2 L174.0,250.2 L174.8,250.2 L175.6,250.3 L176.3,250.3 L177.1,250.4 L177.9,250.4 L178.7,250.5 L179.5,250.5 L180.3,250.5 L181.1,250.6 L181.9,250.6 L182.7,250.7 L183.5,250.7 L184.3,250.7 L185.1,250.8 L185.9,250.8 L186.7,250.8 L187.5,250.9 L188.3,250.9 L189.1,251.0 L189.9,251.0 L190.7,251.0 L191.5,251.1 L192.3,251.1 L193.1,251.1 L193.9,251.2 L194.7,251.2 L195.5,251.2 L196.3,251.3 L197.1,251.3 L197.9,251.3 L198.7,251.4 L199.5,251.4 L200.3,251.4 L201.1,251.5 L201.9,251.5 L202.7,251.5 L203.5,251.6 L204.3,251.6 L205.1,251.6 L205.9,251.6 L206.7,251.7 L207.5,251.7 L208.3,251.7 L209.1,251.8 L209.9,251.8 L210.7,251.8 L211.5,251.8 L212.3,251.9 L213.1,251.9 L213.9,251.9 L214.7,251.9 L215.5,252.0 L216.3,252.0 L217.1,252.0 L217.9,252.0 L218.7,252.1 L219.5,252.1 L220.3,252.1 L221.1,252.1 L221.9,252.2 L222.7,252.2 L223.5,252.2 L224.3,252.2 L225.1,252.3 L225.9,252.3 L226.7,252.3 L227.5,252.3 L228.3,252.3 L229.1,252.4 L229.9,252.4 L230.7,252.4 L231.5,252.4 L232.3,252.4 L233.1,252.5 L233.9,252.5 L234.7,252.5 L235.5,252.5 L236.3,252.5 L237.1,252.5 L237.9,252.6 L238.7,252.6 L239.5,252.6 L240.3,252.6 L241.1,252.6 L241.9,252.6 L242.7,252.7 L243.5,252.7 L244.3,252.7 L245.1,252.7 L245.9,252.7 L246.7,252.7 L247.5,252.7 L248.3,252.8 L249.1,252.8 L249.9,252.8 L250.7,252.8 L251.5,252.8 L252.3,252.8 L253.1,252.9 L253.9,252.9 L254.7,252.9 L255.5,252.9 L256.3,252.9 L257.1,252.9 L257.9,252.9 L258.7,253.0 L259.5,253.0 L260.3,253.0 L261.1,253.0 L261.9,253.0 L262.7,253.0 L263.5,253.1 L264.3,253.1 L265.1,253.1 L265.9,253.1 L266.7,253.1 L267.5,253.1 L268.3,253.1 L269.1,253.2 L269.9,253.2 L270.7,253.2 L271.5,253.2 L272.3,253.2 L273.1,253.2 L273.9,253.2 L274.7,253.2 L275.5,253.3 L276.3,253.3 L277.1,253.3 L277.9,253.3 L278.7,253.3 L279.5,253.3 L280.3,253.3 L281.1,253.3 L281.9,253.4 L282.7,253.4 L283.5,253.4 L284.3,253.4 L285.1,253.4 L285.9,253.4 L286.7,253.4 L287.5,253.4 L288.3,253.5 L289.1,253.5 L289.9,253.5 L290.7,253.5 L291.5,253.5 L292.3,253.5 L293.1,253.5 L293.9,253.5 L294.7,253.5 L295.5,253.5 L296.3,253.6 L297.1,253.6 L297.9,253.6 L298.7,253.6 L299.5,253.6 L300.3,253.6 L301.1,253.6 L301.9,253.6 L302.7,253.6 L303.5,253.6 L304.3,253.6 L305.1,253.7 L305.9,253.7 L306.7,253.7 L307.5,253.7 L308.3,253.7 L309.1,253.7 L309.9,253.7 L310.7,253.7 L311.5,253.7 L312.3,253.7 L313.1,253.7 L313.9,253.7 L314.7,253.7 L315.5,253.7 L316.3,253.7 L317.1,253.7 L317.9,253.8 L318.7,253.8 L319.5,253.8 L320.3,253.8 L321.1,253.8 L321.9,253.8 L322.7,253.8 L323.5,253.8 L324.3,253.8 L325.1,253.8 L325.9,253.8 L326.7,253.8 L327.5,253.8 L328.3,253.8 L329.2,253.8 L330.0,253.8 L330.9,253.8 L331.8,253.8 L332.6,253.8 L333.5,253.8" fill="none" stroke="#f0a2a2" stroke-width="1.5"/>
<path d="M38.7,202.4 L39.0,203.1 L39.3,203.8 L39.5,204.4 L39.8,205.1 L40.1,205.8 L40.3,206.5 L40.6,207.2 L40.9,208.0 L41.2,208.7 L41.5,209.5 L41.8,210.2 L42.0,211.0 L42.3,211.7 L42.6,212.5 L42.9,213.2 L43.1,214.0 L43.4,214.8 L43.7,215.5 L43.9,216.3 L44.2,217.0 L44.5,217.8 L44.8,218.5 L45.1,219.3 L45.4,220.0 L45.7,220.7 L46.0,221.5 L46.3,222.2 L46.6,223.0 L46.9,223.7 L47.3,224.4 L47.6,225.1 L48.0,225.8 L48.4,226.6 L48.8,227.2 L49.2,227.9 L49.6,228.6 L50.1,229.3 L50.5,229.9 L51.0,230.6 L51.4,231.2 L51.9,231.9 L52.4,232.5 L52.9,233.1 L53.5,233.7 L54.0,234.3 L54.6,234.9 L55.1,235.5 L55.7,236.0 L56.3,236.5 L56.9,237.1 L57.5,237.6 L58.2,238.0 L58.8,238.5 L59.5,238.9 L60.2,239.4 L60.9,239.8 L61.6,240.2 L62.3,240.6 L63.0,240.9 L63.7,241.3 L64.4,241.7 L65.1,242.1 L65.8,242.5 L66.5,242.8 L67.2,243.2 L67.9,243.6 L68.6,243.9 L69.3,244.3 L70.1,244.7 L70.8,245.0 L71.5,245.3 L72.3,245.6 L73.0,246.0 L73.7,246.3 L74.5,246.6 L75.2,246.8 L76.0,247.1 L76.7,247.4 L77.5,247.7 L78.2,247.9 L79.0,248.2 L79.8,248.5 L80.5,248.7 L81.3,249.0 L82.0,249.3 L82.8,249.5 L83.5,249.8 L84.3,250.1 L85.0,250.4 L85.8,250.6 L86.5,250.9 L87.3,251.2 L88.1,251.4 L88.8,251.6 L89.6,251.9 L90.4,252.1 L91.1,252.3 L91.9,252.5 L92.7,252.7 L93.5,252.8 L94.3,253.0 L95.0,253.2 L95.8,253.4 L96.6,253.5 L97.4,253.7 L98.2,253.9 L99.0,254.0 L99.8,254.2 L100.5,254.3 L101.3,254.5 L102.1,254.6 L102.9,254.8 L103.7,254.9 L104.5,255.0 L105.3,255.2 L106.1,255.3 L106.8,255.5 L107.6,255.6 L108.4,255.7 L109.2,255.8 L110.0,256.0 L110.8,256.1 L111.6,256.2 L112.4,256.3 L113.2,256.5 L114.0,256.6 L114.8,256.7 L115.6,256.8 L116.3,257.0 L117.1,257.1 L117.9,257.2 L118.7,257.3 L119.5,257.4 L120.3,257.5 L121.1,257.7 L121.9,257.8 L122.7,257.9 L123.5,258.0 L124.3,258.1 L125.1,258.3 L125.9,258.4 L126.6,258.5 L127.4,258.6 L128.2,258.7 L129.0,258.8 L129.8,259.0 L130.6,259.1 L131.4,259.2 L132.2,259.3 L133.0,259.4 L133.8,259.5 L134.6,259.6 L135.4,259.7 L136.2,259.8 L137.0,259.9 L137.8,260.1 L138.6,260.2 L139.3,260.2 L140.1,260.3 L140.9,260.4 L141.7,260.5 L142.5,260.6 L143.3,260.7 L144.1,260.8 L144.9,260.9 L145.7,260.9 L146.5,261.0 L147.3,261.1 L148.1,261.2 L148.9,261.2 L149.7,261.3 L150.5,261.3 L151.3,261.4 L152.1,261.4 L152.9,261.5 L153.7,261.6 L154.5,261.6 L155.3,261.7 L156.1,261.7 L156.9,261.8 L157.7,261.8 L158.5,261.9 L159.3,261.9 L160.1,262.0 L160.9,262.0 L161.7,262.1 L162.5,262.1 L163.3,262.2 L164.1,262.2 L164.9,262.3 L165.7,262.3 L166.5,262.4 L167.3,262.4 L168.1,262.5 L168.9,262.5 L169.7,262.6 L170.5,262.6 L171.3,262.7 L172.1,262.7 L172.9,262.8 L173.7,262.8 L174.5,262.9 L175.3,262.9 L176.1,262.9 L176.9,263.0 L177.7,263.0 L178.5,263.1 L179.3,263.1 L180.1,263.2 L180.9,263.2 L181.7,263.2 L182.5,263.3 L183.3,263.3 L184.1,263.4 L184.9,263.4 L185.7,263.4 L186.5,263.5 L187.3,263.5 L188.1,263.6 L188.9,263.6 L189.7,263.6 L190.5,263.7 L191.3,263.7 L192.1,263.7 L192.9,263.8 L193.7,263.8 L194.5,263.8 L195.3,263.9 L196.1,263.9 L196.9,263.9 L197.7,264.0 L198.5,264.0 L199.3,264.0 L200.1,264.1 L200.9,264.1 L201.7,264.1 L202.5,264.2 L203.3,264.2 L204.1,264.2 L204.9,264.3 L205.7,264.3 L206.5,264.3 L207.3,264.4 L208.1,264.4 L208.9,264.4 L209.7,264.4 L210.5,264.5 L211.3,264.5 L212.1,264.5 L212.9,264.6 L213.7,264.6 L214.5,264.6 L215.3,264.6 L216.1,264.7 L216.9,264.7 L217.7,264.7 L218.5,264.7 L219.3,264.8 L220.1,264.8 L220.9,264.8 L221.7,264.8 L222.5,264.9 L223.3,264.9 L224.1,264.9 L224.9,264.9 L225.7,265.0 L226.5,265.0 L227.3,265.0 L228.1,265.0 L228.9,265.0 L229.7,265.1 L230.5,265.1 L231.3,265.1 L232.1,265.1 L233.0,265.1 L233.8,265.2 L234.6,265.2 L235.4,265.2 L236.2,265.2 L237.0,265.2 L237.8,265.3 L238.6,265.3 L239.4,265.3 L240.2,265.3 L241.0,265.3 L241.8,265.3 L242.6,265.4 L243.4,265.4 L244.2,265.4 L245.0,265.4 L245.8,265.4 L246.6,265.4 L247.4,265.5 L248.2,265.5 L249.0,265.5 L249.8,265.5 L250.6,265.5 L251.4,265.5 L252.2,265.6 L253.0,265.6 L253.8,265.6 L254.6,265.6 L255.4,265.6 L256.2,265.6 L257.0,265.7 L257.8,265.7 L258.6,265.7 L259.4,265.7 L260.2,265.7 L261.0,265.7 L261.8,265.8 L262.6,265.8 L263.4,265.8 L264.2,265.8 L265.0,265.8 L265.8,265.8 L266.6,265.8 L267.4,265.9 L268.2,265.9 L269.0,265.9 L269.8,265.9 L270.6,265.9 L271.4,265.9 L272.2,266.0 L273.0,266.0 L273.8,266.0 L274.6,266.0 L275.4,266.0 L276.2,266.0 L277.0,266.0 L277.8,266.1 L278.6,266.1 L279.4,266.1 L280.2,266.1 L281.0,266.1 L281.8,266.1 L282.6,266.1 L283.4,266.1 L284.2,266.2 L285.0,266.2 L285.8,266.2 L286.6,266.2 L287.4,266.2 L288.2,266.2 L289.0,266.2 L289.8,266.2 L290.6,266.3 L291.4,266.3 L292.2,266.3 L293.0,266.3 L293.8,266.3 L294.6,266.3 L295.4,266.3 L296.2,266.3 L297.0,266.3 L297.8,266.4 L298.6,266.4 L299.4,266.4 L300.2,266.4 L301.0,266.4 L301.8,266.4 L302.7,266.4 L303.5,266.4 L304.3,266.4 L305.1,266.4 L305.9,266.4 L306.7,266.5 L307.5,266.5 L308.3,266.5 L309.1,266.5 L309.9,266.5 L310.7,266.5 L311.5,266.5 L312.3,266.5 L313.1,266.5 L313.9,266.5 L314.7,266.5 L315.5,266.5 L316.3,266.5 L317.1,266.5 L317.9,266.5 L318.7,266.6 L319.5,266.6 L320.3,266.6 L321.1,266.6 L321.9,266.6 L322.7,266.6 L323.5,266.6 L324.3,266.6 L325.1,266.6 L325.9,266.6 L326.7,266.6 L327.5,266.6 L328.3,266.6 L329.2,266.6 L330.0,266.6 L330.9,266.6 L331.8,266.6 L332.6,266.6 L333.5,266.6" fill="none" stroke="#e06a6c" stroke-width="1.5"/>
<path d="M38.7,212.8 L39.0,213.5 L39.3,214.2 L39.6,214.8 L39.9,215.5 L40.2,216.2 L40.4,216.8 L40.8,217.6 L41.1,218.3 L41.4,219.0 L41.7,219.8 L42.0,220.5 L42.3,221.3 L42.6,222.0 L42.9,222.7 L43.2,223.5 L43.5,224.2 L43.8,225.0 L44.2,225.7 L44.5,226.4 L44.8,227.2 L45.1,227.9 L45.4,228.7 L45.7,229.4 L46.0,230.1 L46.3,230.9 L46.6,231.6 L47.0,232.3 L47.3,233.1 L47.6,233.8 L48.0,234.5 L48.3,235.2 L48.7,235.9 L49.0,236.7 L49.4,237.4 L49.8,238.1 L50.2,238.8 L50.6,239.5 L51.0,240.2 L51.4,240.8 L51.9,241.5 L52.3,242.1 L52.8,242.8 L53.3,243.4 L53.9,244.0 L54.4,244.5 L55.0,245.1 L55.6,245.6 L56.2,246.2 L56.8,246.7 L57.3,247.3 L57.9,247.8 L58.5,248.4 L59.1,249.0 L59.6,249.5 L60.2,250.1 L60.7,250.7 L61.3,251.2 L61.9,251.8 L62.5,252.3 L63.1,252.8 L63.7,253.3 L64.4,253.7 L65.1,254.2 L65.8,254.6 L66.5,255.0 L67.2,255.4 L67.9,255.7 L68.6,256.1 L69.3,256.4 L70.0,256.8 L70.8,257.1 L71.5,257.4 L72.2,257.7 L73.0,258.0 L73.7,258.3 L74.5,258.6 L75.2,258.9 L76.0,259.1 L76.7,259.4 L77.5,259.7 L78.3,259.9 L79.0,260.2 L79.8,260.4 L80.5,260.6 L81.3,260.8 L82.1,261.1 L82.9,261.3 L83.6,261.5 L84.4,261.7 L85.2,261.9 L86.0,262.1 L86.7,262.3 L87.5,262.4 L88.3,262.6 L89.1,262.8 L89.9,263.0 L90.6,263.1 L91.4,263.3 L92.2,263.5 L93.0,263.6 L93.8,263.8 L94.5,264.0 L95.3,264.1 L96.1,264.3 L96.9,264.4 L97.7,264.6 L98.5,264.8 L99.3,264.9 L100.0,265.1 L100.8,265.2 L101.6,265.4 L102.4,265.5 L103.2,265.6 L104.0,265.8 L104.8,265.9 L105.6,266.1 L106.3,266.2 L107.1,266.3 L107.9,266.5 L108.7,266.6 L109.5,266.8 L110.3,266.9 L111.1,267.0 L111.9,267.1 L112.7,267.3 L113.4,267.4 L114.2,267.5 L115.0,267.6 L115.8,267.8 L116.6,267.9 L117.4,268.0 L118.2,268.1 L119.0,268.2 L119.8,268.4 L120.6,268.5 L121.4,268.6 L122.1,268.7 L122.9,268.8 L123.7,268.9 L124.5,269.1 L125.3,269.2 L126.1,269.3 L126.9,269.4 L127.7,269.5 L128.5,269.6 L129.3,269.8 L130.1,269.9 L130.9,270.0 L131.7,270.1 L132.4,270.2 L133.2,270.3 L134.0,270.4 L134.8,270.5 L135.6,270.6 L136.4,270.7 L137.2,270.8 L138.0,270.9 L138.8,271.0 L139.6,271.1 L140.4,271.2 L141.2,271.3 L142.0,271.4 L142.8,271.5 L143.6,271.5 L144.4,271.6 L145.2,271.7 L146.0,271.8 L146.8,271.8 L147.5,271.9 L148.3,272.0 L149.1,272.0 L149.9,272.1 L150.7,272.1 L151.5,272.2 L152.3,272.3 L153.1,272.3 L153.9,272.4 L154.7,272.4 L155.5,272.5 L156.3,272.5 L157.1,272.6 L157.9,272.6 L158.7,272.7 L159.5,272.7 L160.3,272.8 L161.1,272.8 L161.9,272.9 L162.7,272.9 L163.5,272.9 L164.3,273.0 L165.1,273.0 L165.9,273.1 L166.7,273.1 L167.5,273.2 L168.3,273.2 L169.1,273.3 L169.9,273.3 L170.7,273.4 L171.5,273.4 L172.3,273.4 L173.1,273.5 L173.9,273.5 L174.7,273.6 L175.5,273.6 L176.3,273.6 L177.1,273.7 L177.9,273.7 L178.7,273.8 L179.5,273.8 L180.3,273.8 L181.1,273.9 L181.9,273.9 L182.7,274.0 L183.5,274.0 L184.3,274.0 L185.1,274.1 L185.9,274.1 L186.7,274.1 L187.5,274.2 L188.3,274.2 L189.1,274.3 L189.9,274.3 L190.7,274.3 L191.5,274.4 L192.3,274.4 L193.1,274.4 L193.9,274.5 L194.7,274.5 L195.5,274.5 L196.3,274.6 L197.1,274.6 L197.9,274.6 L198.7,274.6 L199.5,274.7 L200.3,274.7 L201.1,274.7 L201.9,274.8 L202.7,274.8 L203.5,274.8 L204.3,274.9 L205.1,274.9 L205.9,274.9 L206.7,274.9 L207.5,275.0 L208.3,275.0 L209.1,275.0 L209.9,275.0 L210.7,275.1 L211.5,275.1 L212.3,275.1 L213.1,275.1 L213.9,275.2 L214.7,275.2 L215.5,275.2 L216.3,275.2 L217.1,275.3 L217.9,275.3 L218.7,275.3 L219.5,275.3 L220.3,275.4 L221.1,275.4 L221.9,275.4 L222.7,275.4 L223.5,275.4 L224.3,275.5 L225.1,275.5 L225.9,275.5 L226.7,275.5 L227.5,275.5 L228.3,275.6 L229.1,275.6 L229.9,275.6 L230.7,275.6 L231.5,275.6 L232.3,275.6 L233.1,275.7 L233.9,275.7 L234.7,275.7 L235.5,275.7 L236.3,275.7 L237.1,275.7 L237.9,275.8 L238.7,275.8 L239.5,275.8 L240.3,275.8 L241.1,275.8 L241.9,275.8 L242.7,275.8 L243.5,275.9 L244.3,275.9 L245.1,275.9 L245.9,275.9 L246.7,275.9 L247.5,275.9 L248.3,276.0 L249.1,276.0 L249.9,276.0 L250.7,276.0 L251.5,276.0 L252.3,276.0 L253.1,276.0 L253.9,276.1 L254.7,276.1 L255.5,276.1 L256.3,276.1 L257.1,276.1 L257.9,276.1 L258.7,276.1 L259.5,276.1 L260.3,276.2 L261.1,276.2 L261.9,276.2 L262.7,276.2 L263.5,276.2 L264.3,276.2 L265.1,276.2 L265.9,276.3 L266.7,276.3 L267.5,276.3 L268.3,276.3 L269.1,276.3 L269.9,276.3 L270.7,276.3 L271.5,276.3 L272.3,276.4 L273.1,276.4 L273.9,276.4 L274.7,276.4 L275.5,276.4 L276.3,276.4 L277.1,276.4 L277.9,276.4 L278.7,276.5 L279.5,276.5 L280.3,276.5 L281.1,276.5 L281.9,276.5 L282.7,276.5 L283.5,276.5 L284.3,276.5 L285.1,276.5 L285.9,276.6 L286.7,276.6 L287.5,276.6 L288.3,276.6 L289.1,276.6 L289.9,276.6 L290.7,276.6 L291.5,276.6 L292.3,276.6 L293.1,276.6 L293.9,276.7 L294.7,276.7 L295.5,276.7 L296.3,276.7 L297.1,276.7 L297.9,276.7 L298.7,276.7 L299.5,276.7 L300.3,276.7 L301.1,276.7 L301.9,276.7 L302.7,276.7 L303.5,276.8 L304.3,276.8 L305.1,276.8 L305.9,276.8 L306.7,276.8 L307.5,276.8 L308.3,276.8 L309.1,276.8 L309.9,276.8 L310.7,276.8 L311.5,276.8 L312.3,276.8 L313.1,276.8 L313.9,276.8 L314.7,276.8 L315.5,276.8 L316.3,276.8 L317.1,276.9 L317.9,276.9 L318.7,276.9 L319.5,276.9 L320.3,276.9 L321.1,276.9 L321.9,276.9 L322.7,276.9 L323.5,276.9 L324.3,276.9 L325.1,276.9 L325.9,276.9 L326.7,276.9 L327.5,276.9 L328.3,276.9 L329.2,276.9 L330.0,276.9 L330.9,276.9 L331.8,276.9 L332.6,276.9 L333.5,276.9" fill="none" stroke="#c9383e" stroke-width="1.5"/>
<path d="M39.1,280.2 L39.8,280.7 L40.5,281.1 L41.2,281.5 L41.8,281.9 L42.5,282.3 L43.2,282.7 L43.9,283.1 L44.6,283.5 L45.3,283.9 L46.0,284.2 L46.7,284.6 L47.4,285.0 L48.1,285.3 L48.9,285.7 L49.6,286.0 L50.3,286.4 L51.0,286.7 L51.8,287.0 L52.5,287.3 L53.3,287.7 L54.0,288.0 L54.7,288.3 L55.5,288.6 L56.2,288.9 L57.0,289.2 L57.7,289.4 L58.5,289.7 L59.2,290.0 L60.0,290.2 L60.7,290.5 L61.5,290.7 L62.3,291.0 L63.0,291.2 L63.8,291.4 L64.6,291.6 L65.4,291.8 L66.1,292.0 L66.9,292.2 L67.7,292.4 L68.5,292.5 L69.3,292.7 L70.0,292.9 L70.8,293.0 L71.6,293.2 L72.4,293.4 L73.2,293.5 L74.0,293.7 L74.8,293.8 L75.6,293.9 L76.3,294.1 L77.1,294.2 L77.9,294.4 L78.7,294.5 L79.5,294.6 L80.3,294.8 L81.1,294.9 L81.9,295.0 L82.7,295.2 L83.4,295.3 L84.2,295.5 L85.0,295.6 L85.8,295.7 L86.6,295.9 L87.4,296.0 L88.2,296.2 L89.0,296.3 L89.7,296.5 L90.5,296.6 L91.3,296.8 L92.1,296.9 L92.9,297.1 L93.7,297.2 L94.5,297.4 L95.2,297.6 L96.0,297.7 L96.8,297.9 L97.6,298.0 L98.4,298.2 L99.2,298.3 L100.0,298.5 L100.8,298.6 L101.5,298.8 L102.3,298.9 L103.1,299.0 L103.9,299.2 L104.7,299.3 L105.5,299.4 L106.3,299.6 L107.1,299.7 L107.9,299.8 L108.7,299.9 L109.4,300.0 L110.2,300.2 L111.0,300.3 L111.8,300.4 L112.6,300.5 L113.4,300.6 L114.2,300.7 L115.0,300.8 L115.8,300.9 L116.6,301.0 L117.4,301.2 L118.2,301.3 L119.0,301.4 L119.8,301.5 L120.6,301.6 L121.4,301.7 L122.1,301.8 L122.9,301.9 L123.7,302.0 L124.5,302.1 L125.3,302.2 L126.1,302.3 L126.9,302.4 L127.7,302.5 L128.5,302.6 L129.3,302.6 L130.1,302.7 L130.9,302.8 L131.7,302.9 L132.5,303.0 L133.3,303.1 L134.1,303.2 L134.9,303.3 L135.7,303.4 L136.5,303.5 L137.3,303.5 L138.1,303.6 L138.9,303.7 L139.7,303.8 L140.5,303.9 L141.2,304.0 L142.0,304.1 L142.8,304.2 L143.6,304.3 L144.4,304.3 L145.2,304.4 L146.0,304.5 L146.8,304.6 L147.6,304.7 L148.4,304.8 L149.2,304.9 L150.0,305.0 L150.8,305.1 L151.6,305.2 L152.4,305.3 L153.2,305.4 L154.0,305.5 L154.8,305.6 L155.6,305.6 L156.4,305.7 L157.2,305.8 L158.0,305.9 L158.7,306.0 L159.5,306.1 L160.3,306.3 L161.1,306.4 L161.9,306.5 L162.7,306.6 L163.5,306.7 L164.3,306.8 L165.1,306.9 L165.9,307.0 L166.7,307.1 L167.5,307.2 L168.3,307.3 L169.1,307.4 L169.9,307.5 L170.7,307.6 L171.5,307.7 L172.3,307.8 L173.0,307.9 L173.8,308.0 L174.6,308.1 L175.4,308.2 L176.2,308.3 L177.0,308.5 L177.8,308.6 L178.6,308.7 L179.4,308.8 L180.2,308.9 L181.0,309.0 L181.8,309.1 L182.6,309.2 L183.4,309.3 L184.2,309.5 L184.9,309.6 L185.7,309.7 L186.5,309.8 L187.3,309.9 L188.1,310.0 L188.9,310.1 L189.7,310.2 L190.5,310.4 L191.3,310.5 L192.1,310.6 L192.9,310.7 L193.7,310.8 L194.5,310.9 L195.3,311.1 L196.0,311.2 L196.8,311.3 L197.6,311.4 L198.4,311.5 L199.2,311.6 L200.0,311.8 L200.8,311.9 L201.6,312.0 L202.4,312.1 L203.2,312.2 L204.0,312.3 L204.8,312.5 L205.6,312.6 L206.4,312.7 L207.1,312.8 L207.9,312.9 L208.7,313.0 L209.5,313.2 L210.3,313.3 L211.1,313.4 L211.9,313.5 L212.7,313.6 L213.5,313.8 L214.3,313.9 L215.1,314.0 L215.9,314.1 L216.6,314.2 L217.4,314.4 L218.2,314.5 L219.0,314.6 L219.8,314.7 L220.6,314.9 L221.4,315.0 L222.2,315.1 L223.0,315.3 L223.8,315.4 L224.6,315.5 L225.3,315.6 L226.1,315.8 L226.9,315.9 L227.7,316.0 L228.5,316.2 L229.3,316.3 L230.1,316.5 L230.9,316.6 L231.7,316.7 L232.5,316.9 L233.2,317.0 L234.0,317.2 L234.8,317.3 L235.6,317.5 L236.4,317.6 L237.2,317.8 L238.0,317.9 L238.8,318.1 L239.5,318.2 L240.3,318.4 L241.1,318.5 L241.9,318.7 L242.7,318.9 L243.5,319.0 L244.2,319.2 L245.0,319.4 L245.8,319.5 L246.6,319.7 L247.4,319.9 L248.1,320.1 L248.9,320.3 L249.7,320.5 L250.5,320.7 L251.3,320.8 L252.0,321.0 L252.8,321.2 L253.6,321.4 L254.4,321.6 L255.1,321.8 L255.9,322.0 L256.7,322.2 L257.5,322.4 L258.2,322.6 L259.0,322.8 L259.8,323.0 L260.6,323.2 L261.3,323.4 L262.1,323.7 L262.9,323.9 L263.7,324.1 L264.4,324.3 L265.2,324.5 L266.0,324.7 L266.8,324.9 L267.5,325.1 L268.3,325.4 L269.1,325.6 L269.8,325.8 L270.6,326.0 L271.4,326.3 L272.1,326.5 L272.9,326.7 L273.7,326.9 L274.4,327.2 L275.2,327.4 L276.0,327.7 L276.7,327.9 L277.5,328.1 L278.3,328.4 L279.0,328.6 L279.8,328.9 L280.5,329.2 L281.3,329.4 L282.1,329.7 L282.8,329.9 L283.6,330.2 L284.3,330.5 L285.1,330.8 L285.8,331.0 L286.6,331.3 L287.3,331.6 L288.1,331.9 L288.8,332.2 L289.5,332.5 L290.3,332.8 L291.0,333.1 L291.8,333.4 L292.5,333.7 L293.2,334.0 L294.0,334.4 L294.7,334.7 L295.5,335.0 L296.2,335.3 L296.9,335.6 L297.7,335.9 L298.4,336.3 L299.1,336.6 L299.9,336.9 L300.6,337.2 L301.3,337.6 L302.1,337.9 L302.8,338.2 L303.5,338.6 L304.2,338.9 L305.0,339.2 L305.7,339.6 L306.4,339.9 L307.1,340.2 L307.8,340.6 L308.5,340.9 L309.3,341.3" fill="none" stroke="#1d2c4c" stroke-width="1.5"/>
<path d="M38.7,216.6 L39.0,217.4 L39.3,218.2 L39.5,218.9 L39.8,219.6 L40.0,220.4 L40.3,221.1 L40.5,221.9 L40.8,222.7 L41.1,223.4 L41.3,224.2 L41.6,224.9 L41.8,225.7 L42.1,226.5 L42.3,227.2 L42.6,228.0 L42.8,228.7 L43.0,229.5 L43.3,230.3 L43.5,231.0 L43.7,231.8 L44.0,232.6 L44.2,233.3 L44.4,234.1 L44.6,234.9 L44.9,235.6 L45.1,236.4 L45.3,237.2 L45.6,237.9 L45.8,238.7 L46.0,239.5 L46.3,240.2 L46.5,241.0 L46.7,241.8 L47.0,242.5 L47.2,243.3 L47.5,244.0 L47.8,244.8 L48.0,245.6 L48.3,246.3 L48.6,247.1 L48.8,247.8 L49.1,248.6 L49.4,249.3 L49.6,250.1 L49.9,250.8 L50.2,251.6 L50.5,252.3 L50.7,253.1 L51.1,253.8 L51.4,254.5 L51.7,255.3 L52.1,256.0 L52.5,256.7 L52.9,257.4 L53.3,258.0 L53.8,258.7 L54.2,259.3 L54.7,260.0 L55.2,260.6 L55.7,261.2 L56.2,261.8 L56.8,262.4 L57.3,263.0 L57.9,263.6 L58.4,264.2 L59.0,264.7 L59.6,265.3 L60.2,265.8 L60.7,266.4 L61.3,266.9 L62.0,267.4 L62.6,268.0 L63.2,268.5 L63.8,269.0 L64.4,269.5 L65.0,270.0 L65.7,270.5 L66.3,270.9 L67.0,271.4 L67.6,271.9 L68.3,272.4 L68.9,272.8 L69.6,273.3 L70.2,273.7 L70.9,274.2 L71.6,274.6 L72.2,275.1 L72.9,275.5 L73.6,275.9 L74.3,276.3 L75.0,276.7 L75.6,277.2 L76.3,277.6 L77.0,277.9 L77.7,278.3 L78.5,278.7 L79.2,279.1 L79.9,279.4 L80.6,279.8 L81.3,280.1 L82.1,280.4 L82.8,280.8 L83.5,281.1 L84.3,281.4 L85.0,281.7 L85.7,282.0 L86.5,282.3 L87.2,282.7 L87.9,283.0 L88.7,283.3 L89.4,283.6 L90.1,283.9 L90.9,284.3 L91.6,284.6 L92.3,284.9 L93.1,285.2 L93.8,285.5 L94.5,285.8 L95.3,286.2 L96.0,286.5 L96.8,286.8 L97.5,287.1 L98.3,287.4 L99.0,287.6 L99.8,287.9 L100.5,288.2 L101.3,288.5 L102.0,288.7 L102.8,289.0 L103.5,289.2 L104.3,289.5 L105.1,289.7 L105.8,290.0 L106.6,290.2 L107.4,290.4 L108.1,290.7 L108.9,290.9 L109.7,291.1 L110.4,291.3 L111.2,291.5 L112.0,291.8 L112.7,292.0 L113.5,292.2 L114.3,292.4 L115.1,292.6 L115.8,292.8 L116.6,293.0 L117.4,293.2 L118.2,293.4 L118.9,293.6 L119.7,293.8 L120.5,293.9 L121.3,294.1 L122.1,294.3 L122.8,294.5 L123.6,294.6 L124.4,294.8 L125.2,295.0 L126.0,295.1 L126.8,295.3 L127.6,295.5 L128.3,295.6 L129.1,295.8 L129.9,295.9 L130.7,296.1 L131.5,296.2 L132.3,296.3 L133.1,296.5 L133.8,296.6 L134.6,296.8 L135.4,296.9 L136.2,297.0 L137.0,297.2 L137.8,297.3 L138.6,297.4 L139.4,297.6 L140.2,297.7 L141.0,297.8 L141.7,298.0 L142.5,298.1 L143.3,298.2 L144.1,298.4 L144.9,298.5 L145.7,298.6 L146.5,298.8 L147.3,298.9 L148.1,299.1 L148.8,299.2 L149.6,299.3 L150.4,299.5 L151.2,299.6 L152.0,299.8 L152.8,299.9 L153.6,300.0 L154.4,300.2 L155.2,300.3 L155.9,300.5 L156.7,300.6 L157.5,300.7 L158.3,300.9 L159.1,301.0 L159.9,301.2 L160.7,301.3 L161.5,301.4 L162.2,301.6 L163.0,301.7 L163.8,301.9 L164.6,302.0 L165.4,302.1 L166.2,302.3 L167.0,302.4 L167.8,302.6 L168.6,302.7 L169.3,302.8 L170.1,303.0 L170.9,303.1 L171.7,303.3 L172.5,303.4 L173.3,303.5 L174.1,303.7 L174.9,303.8 L175.6,304.0 L176.4,304.1 L177.2,304.3 L178.0,304.4 L178.8,304.5 L179.6,304.7 L180.4,304.8 L181.2,305.0 L182.0,305.1 L182.7,305.3 L183.5,305.4 L184.3,305.6 L185.1,305.7 L185.9,305.9 L186.7,306.0 L187.5,306.2 L188.2,306.3 L189.0,306.5 L189.8,306.6 L190.6,306.8 L191.4,306.9 L192.2,307.1 L193.0,307.2 L193.8,307.4 L194.5,307.5 L195.3,307.7 L196.1,307.8 L196.9,308.0 L197.7,308.2 L198.5,308.3 L199.2,308.5 L200.0,308.6 L200.8,308.8 L201.6,309.0 L202.4,309.1 L203.2,309.3 L203.9,309.5 L204.7,309.6 L205.5,309.8 L206.3,310.0 L207.1,310.1 L207.9,310.3 L208.6,310.5 L209.4,310.6 L210.2,310.8 L211.0,311.0 L211.8,311.1 L212.6,311.3 L213.3,311.5 L214.1,311.6 L214.9,311.8 L215.7,312.0 L216.5,312.2 L217.3,312.3 L218.0,312.5 L218.8,312.7 L219.6,312.9 L220.4,313.0 L221.2,313.2 L221.9,313.4 L222.7,313.6 L223.5,313.7 L224.3,313.9 L225.1,314.1 L225.8,314.3 L226.6,314.5 L227.4,314.6 L228.2,314.8 L229.0,315.0 L229.7,315.2 L230.5,315.4 L231.3,315.5 L232.1,315.7 L232.9,315.9 L233.6,316.1 L234.4,316.3 L235.2,316.5 L236.0,316.6 L236.8,316.8 L237.5,317.0 L238.3,317.2 L239.1,317.4 L239.9,317.6 L240.7,317.8 L241.4,317.9 L242.2,318.1 L243.0,318.3 L243.8,318.5 L244.5,318.7 L245.3,318.9 L246.1,319.1 L246.9,319.3 L247.7,319.5 L248.4,319.7 L249.2,319.9 L250.0,320.1 L250.8,320.3 L251.5,320.5 L252.3,320.7 L253.1,320.9 L253.9,321.1 L254.6,321.3 L255.4,321.5 L256.2,321.7 L257.0,321.9 L257.7,322.1 L258.5,322.3 L259.3,322.5 L260.1,322.7 L260.8,322.9 L261.6,323.1 L262.4,323.3 L263.1,323.5 L263.9,323.8 L264.7,324.0 L265.5,324.2 L266.2,324.4 L267.0,324.6 L267.8,324.8 L268.5,325.1 L269.3,325.3 L270.1,325.5 L270.9,325.7 L271.6,325.9 L272.4,326.2 L273.2,326.4 L273.9,326.6 L274.7,326.9 L275.5,327.1 L276.2,327.3 L277.0,327.6 L277.7,327.8 L278.5,328.1 L279.3,328.3 L280.0,328.6 L280.8,328.8 L281.5,329.1 L282.3,329.4 L283.1,329.6 L283.8,329.9 L284.6,330.2 L285.3,330.5 L286.0,330.8 L286.8,331.1 L287.5,331.4 L288.3,331.7 L289.0,332.0 L289.8,332.3 L290.5,332.6 L291.2,332.9 L292.0,333.2 L292.7,333.5 L293.4,333.8 L294.2,334.1 L294.9,334.5 L295.7,334.8 L296.4,335.1 L297.1,335.4 L297.9,335.7 L298.6,336.0 L299.4,336.3 L300.1,336.6 L300.8,336.9 L301.6,337.2 L302.3,337.6 L303.0,337.9 L303.8,338.2 L304.5,338.5 L305.2,338.9 L305.9,339.2 L306.7,339.6 L307.4,339.9 L308.1,340.3 L308.8,340.7 L309.5,341.0 L310.2,341.4 L310.9,341.8 L311.6,342.2 L312.3,342.7 L312.9,343.1 L313.5,343.6 L314.1,344.1 L314.7,344.7 L315.3,345.2 L315.8,345.9 L316.3,346.5 L316.7,347.1 L317.1,347.8 L317.6,348.5 L317.9,349.2 L318.3,349.9 L318.7,350.6 L319.1,351.3 L319.4,352.0 L319.7,352.8 L320.1,353.5 L320.4,354.2 L320.7,355.0 L321.0,355.7 L321.3,356.4 L321.6,357.2 L321.9,357.9 L322.2,358.7 L322.4,359.4 L322.7,360.2 L323.0,360.9 L323.3,361.7 L323.6,362.4 L323.8,363.2 L324.1,363.9 L324.4,364.7 L324.7,365.4 L325.0,366.2 L325.3,366.9 L325.6,367.7 L325.9,368.4 L326.2,369.2 L326.4,369.9 L326.7,370.7 L327.0,371.4 L327.3,372.1 L327.6,372.9 L327.9,373.6 L328.2,374.4 L328.5,375.1 L328.8,375.9 L329.1,376.6 L329.4,377.4 L329.6,378.1 L329.9,378.8 L330.2,379.6 L330.5,380.3 L330.8,381.1" fill="none" stroke="#3f90d2" stroke-width="1.5"/>
<line x1="333" y1="188.1" x2="333" y2="260.7" stroke="#333" stroke-width="1.8"/>
<line x1="334.5" y1="223.2" x2="348" y2="223.2" stroke="#8c8c8c" stroke-width="0.7" stroke-dasharray="2.6,1.9"/>
<path d="M300.2,236.2 L257,236.2 L257,219.3 L319.4,219.3 L319.4,236.2 L310.4,236.2 L310.4,246.8 M300.2,236.2 L309.3,246.8" fill="none" stroke="#8c8c8c" stroke-width="0.7" stroke-dasharray="2.2,1.7"/>
<text x="262.5" y="231" font-size="8.6" fill="#3a3a3a" text-anchor="start" font-weight="normal" textLength="50.7" lengthAdjust="spacingAndGlyphs">Thermal limit</text>
<polygon points="258.7,272.5 263.7,277.5 258.7,282.5 253.7,277.5" fill="#1d2c4c"/>
<path d="M258.9,283 C259.3,287 261.5,288.6 265.2,288.6" fill="none" stroke="#444" stroke-width="0.6"/>
<text x="266.8" y="292.2" font-size="8.6" fill="#222" text-anchor="start" font-weight="bold" textLength="40.5" lengthAdjust="spacingAndGlyphs">Ultrasonic</text>
<text x="49.3" y="201.4" font-size="8.4" fill="#3a3a3a" text-anchor="start" font-weight="normal" textLength="35.8" lengthAdjust="spacingAndGlyphs">COP = 1.5</text>
<text x="62.8" y="217" font-size="8.4" fill="#3a3a3a" text-anchor="start" font-weight="normal" textLength="37.7" lengthAdjust="spacingAndGlyphs">COP = 3.5</text>
<text x="80.7" y="232" font-size="8.4" fill="#3a3a3a" text-anchor="start" font-weight="normal" textLength="30.4" lengthAdjust="spacingAndGlyphs">COP = 7</text>
<path d="M51.6,202.8 C51.5,206 49.5,208.6 46.1,208.6" fill="none" stroke="#444" stroke-width="0.6"/>
<path d="M65.6,218.5 C66,227 60,231.8 51.6,231.8" fill="none" stroke="#444" stroke-width="0.6"/>
<path d="M83.6,233.9 C84,245 75,252.4 64.4,252.4" fill="none" stroke="#444" stroke-width="0.6"/>
<text x="179.8" y="301" font-size="8.4" fill="#3a3a3a">COP<tspan font-size="5.8" dy="3">Carnot</tspan></text>
<path d="M177.3,297.4 C174.5,298.2 173.2,300.5 173.1,303.6" fill="none" stroke="#444" stroke-width="0.6"/>
<text x="56.6" y="312.7" font-size="8.4" fill="#3a3a3a" text-anchor="start" font-weight="normal" textLength="82.9" lengthAdjust="spacingAndGlyphs">Thermodynamic limit</text>
<path d="M142,309.9 C146,309.9 148,308 148.2,305" fill="none" stroke="#444" stroke-width="0.6"/>
<rect x="347.6" y="145.4" width="336" height="267.4" fill="none" stroke="#8c8c8c" stroke-width="0.7" stroke-dasharray="2.4,1.9"/>
<text x="352.1" y="155.9" font-size="12.6" fill="#111" text-anchor="start" font-weight="bold" stroke="#111" stroke-width="0.35">e</text>
<line x1="373" y1="170.5" x2="373" y2="386" stroke="#cfcfcf" stroke-width="1.3"/>
<line x1="366" y1="381.5" x2="677.5" y2="381.5" stroke="#9c9c9c" stroke-width="1"/>
<line x1="367.3" y1="170.5" x2="373" y2="170.5" stroke="#d08888" stroke-width="0.9"/>
<line x1="367.3" y1="275.8" x2="373" y2="275.8" stroke="#9c9c9c" stroke-width="0.9"/>
<line x1="367.3" y1="381.3" x2="373" y2="381.3" stroke="#9c9c9c" stroke-width="0.9"/>
<text x="366" y="173.5" font-size="8.4" fill="#7c7c7c" text-anchor="end" font-weight="normal" textLength="15.8" lengthAdjust="spacingAndGlyphs">30.0</text>
<text x="366" y="278.8" font-size="8.4" fill="#7c7c7c" text-anchor="end" font-weight="normal" textLength="11.2" lengthAdjust="spacingAndGlyphs">3.0</text>
<text x="366" y="384.3" font-size="8.4" fill="#7c7c7c" text-anchor="end" font-weight="normal" textLength="11.2" lengthAdjust="spacingAndGlyphs">0.3</text>
<line x1="372.80" y1="381.5" x2="372.80" y2="385.8" stroke="#9c9c9c" stroke-width="1"/>
<text x="372.80" y="394.6" font-size="8.4" fill="#7c7c7c" text-anchor="middle" font-weight="normal">0</text>
<line x1="433.52" y1="381.5" x2="433.52" y2="385.8" stroke="#9c9c9c" stroke-width="1"/>
<text x="433.52" y="394.6" font-size="8.4" fill="#7c7c7c" text-anchor="middle" font-weight="normal">20</text>
<line x1="494.24" y1="381.5" x2="494.24" y2="385.8" stroke="#9c9c9c" stroke-width="1"/>
<text x="494.24" y="394.6" font-size="8.4" fill="#7c7c7c" text-anchor="middle" font-weight="normal">40</text>
<line x1="554.96" y1="381.5" x2="554.96" y2="385.8" stroke="#9c9c9c" stroke-width="1"/>
<text x="554.96" y="394.6" font-size="8.4" fill="#7c7c7c" text-anchor="middle" font-weight="normal">60</text>
<line x1="615.68" y1="381.5" x2="615.68" y2="385.8" stroke="#9c9c9c" stroke-width="1"/>
<text x="615.68" y="394.6" font-size="8.4" fill="#7c7c7c" text-anchor="middle" font-weight="normal">80</text>
<line x1="676.40" y1="381.5" x2="676.40" y2="385.8" stroke="#9c9c9c" stroke-width="1"/>
<text x="676.40" y="394.6" font-size="8.4" fill="#7c7c7c" text-anchor="middle" font-weight="normal">100</text>
<text x="476" y="409.2" font-size="8.6" fill="#3a3a3a" text-anchor="start" font-weight="normal" textLength="97" lengthAdjust="spacingAndGlyphs">Relative humidity, RH (%)</text>
<line x1="373" y1="344.4" x2="677.5" y2="344.4" stroke="#8c8c8c" stroke-width="0.7" stroke-dasharray="2.6,1.9"/>
<path d="M555.4,356.7 L545,356.7 L545,372.9 L607.5,372.9 L607.5,356.7 L564.8,356.7 M555.4,356.7 L554,345.5 L564.8,356.7" fill="none" stroke="#8c8c8c" stroke-width="0.7" stroke-dasharray="2.2,1.7"/>
<text x="550.5" y="367.6" font-size="8.6" fill="#3a3a3a" text-anchor="start" font-weight="normal" textLength="51.5" lengthAdjust="spacingAndGlyphs">Thermal limit</text>
<path d="M374.8,231.6 L374.9,232.2 L374.9,232.8 L375.0,233.6 L375.1,234.4 L375.2,235.2 L375.3,236.0 L375.4,236.8 L375.5,237.6 L375.6,238.4 L375.8,239.1 L375.9,239.9 L376.0,240.7 L376.1,241.5 L376.2,242.3 L376.3,243.1 L376.4,243.9 L376.5,244.7 L376.6,245.5 L376.7,246.3 L376.8,247.1 L376.9,247.9 L377.0,248.7 L377.1,249.5 L377.3,250.3 L377.4,251.0 L377.5,251.8 L377.6,252.6 L377.7,253.4 L377.8,254.2 L378.0,255.0 L378.1,255.8 L378.2,256.6 L378.3,257.4 L378.5,258.2 L378.6,258.9 L378.7,259.7 L378.9,260.5 L379.0,261.3 L379.1,262.1 L379.3,262.9 L379.4,263.7 L379.5,264.5 L379.6,265.3 L379.8,266.1 L379.9,266.9 L380.0,267.6 L380.1,268.4 L380.2,269.2 L380.3,270.0 L380.4,270.8 L380.5,271.6 L380.6,272.4 L380.7,273.2 L380.7,274.0 L380.8,274.8 L380.9,275.6 L381.0,276.4 L381.0,277.2 L381.1,278.0 L381.2,278.8 L381.2,279.6 L381.3,280.4 L381.4,281.2 L381.5,282.0 L381.5,282.8 L381.6,283.6 L381.7,284.4 L381.8,285.2 L381.9,286.0 L381.9,286.8 L382.0,287.5 L382.1,288.3 L382.2,289.1 L382.3,289.9 L382.4,290.7 L382.6,291.5 L382.7,292.3 L382.8,293.1 L382.9,293.9 L383.0,294.7 L383.1,295.5 L383.2,296.3 L383.3,297.1 L383.5,297.9 L383.6,298.6 L383.7,299.4 L383.8,300.2 L384.0,301.0 L384.1,301.8 L384.3,302.6 L384.4,303.4 L384.6,304.2 L384.7,305.0 L384.9,305.7 L385.0,306.5 L385.2,307.3 L385.3,308.1 L385.5,308.9 L385.7,309.7 L385.8,310.4 L386.0,311.2 L386.2,312.0 L386.4,312.8 L386.5,313.6 L386.7,314.3 L386.9,315.1 L387.1,315.9 L387.3,316.7 L387.5,317.4 L387.7,318.2 L388.0,319.0 L388.2,319.7 L388.5,320.5 L388.8,321.2 L389.1,322.0 L389.4,322.7 L389.8,323.4 L390.1,324.1 L390.5,324.9 L390.9,325.6 L391.3,326.3 L391.7,327.0 L392.1,327.6 L392.5,328.3 L393.0,329.0 L393.5,329.6 L394.0,330.2 L394.5,330.8 L395.1,331.3 L395.8,331.8 L396.5,332.2 L397.2,332.6 L397.9,333.0 L398.6,333.3 L399.3,333.7 L400.1,334.0 L400.8,334.3 L401.5,334.5 L402.3,334.8 L403.1,335.0 L403.8,335.3 L404.6,335.5 L405.4,335.7 L406.2,335.8 L407.0,336.0 L407.7,336.1 L408.5,336.2 L409.3,336.3 L410.1,336.4 L410.9,336.5 L411.7,336.6 L412.5,336.7 L413.3,336.8 L414.1,336.9 L414.9,337.0 L415.7,337.1 L416.5,337.1 L417.3,337.2 L418.1,337.3 L418.9,337.3 L419.7,337.4 L420.5,337.5 L421.3,337.5 L422.1,337.6 L422.9,337.6 L423.7,337.7 L424.5,337.7 L425.3,337.7 L426.1,337.8 L426.9,337.8 L427.7,337.8 L428.5,337.9 L429.3,337.9 L430.1,337.9 L430.9,338.0 L431.7,338.0 L432.5,338.0 L433.3,338.1 L434.1,338.1 L434.9,338.1 L435.7,338.2 L436.5,338.2 L437.3,338.2 L438.1,338.2 L438.9,338.3 L439.7,338.3 L440.5,338.3 L441.3,338.3 L442.1,338.4 L442.9,338.4 L443.7,338.4 L444.5,338.4 L445.3,338.5 L446.1,338.5 L446.9,338.5 L447.7,338.5 L448.5,338.5 L449.3,338.5 L450.1,338.6 L450.9,338.6 L451.7,338.6 L452.5,338.6 L453.3,338.6 L454.1,338.6 L454.9,338.6 L455.7,338.7 L456.5,338.7 L457.3,338.7 L458.1,338.7 L458.9,338.7 L459.7,338.7 L460.5,338.7 L461.3,338.7 L462.1,338.7 L462.9,338.7 L463.7,338.7 L464.5,338.7 L465.3,338.7 L466.1,338.7 L466.9,338.7 L467.7,338.8 L468.5,338.8 L469.3,338.8 L470.1,338.8 L470.9,338.8 L471.7,338.8 L472.5,338.8 L473.3,338.8 L474.1,338.8 L474.9,338.8 L475.7,338.8 L476.5,338.8 L477.3,338.8 L478.1,338.8 L478.9,338.8 L479.7,338.8 L480.5,338.8 L481.3,338.8 L482.1,338.8 L482.9,338.9 L483.7,338.9 L484.5,338.9 L485.3,338.9 L486.1,338.9 L486.9,338.9 L487.7,338.9 L488.5,338.9 L489.3,338.9 L490.1,338.9 L490.9,338.9 L491.7,338.9 L492.5,338.9 L493.3,338.9 L494.1,338.9 L494.9,338.9 L495.7,338.9 L496.5,338.9 L497.3,338.9 L498.1,338.9 L498.9,338.9 L499.7,339.0 L500.5,339.0 L501.3,339.0 L502.1,339.0 L502.9,339.0 L503.7,339.0 L504.5,339.0 L505.3,339.0 L506.1,339.0 L506.9,339.0 L507.7,339.0 L508.5,339.0 L509.3,339.0 L510.1,339.0 L510.9,339.0 L511.7,339.0 L512.5,339.0 L513.3,339.0 L514.1,339.0 L514.9,339.0 L515.7,339.0 L516.5,339.0 L517.3,339.0 L518.1,339.0 L518.9,339.0 L519.7,339.1 L520.5,339.1 L521.3,339.1 L522.1,339.1 L522.9,339.1 L523.7,339.1 L524.5,339.1 L525.3,339.1 L526.1,339.1 L526.9,339.1 L527.7,339.1 L528.5,339.1 L529.3,339.1 L530.1,339.1 L530.9,339.1 L531.7,339.1 L532.5,339.1 L533.3,339.1 L534.1,339.1 L534.9,339.1 L535.7,339.1 L536.5,339.1 L537.3,339.1 L538.1,339.1 L538.9,339.1 L539.7,339.1 L540.5,339.1 L541.3,339.1 L542.1,339.2 L542.9,339.2 L543.7,339.2 L544.5,339.2 L545.3,339.2 L546.1,339.2 L546.9,339.2 L547.7,339.2 L548.5,339.2 L549.3,339.2 L550.1,339.2 L550.9,339.2 L551.7,339.2 L552.5,339.2 L553.3,339.2 L554.1,339.2 L554.9,339.2 L555.7,339.2 L556.5,339.2 L557.3,339.2 L558.1,339.2 L558.9,339.2 L559.7,339.2 L560.5,339.2 L561.3,339.2 L562.1,339.2 L562.9,339.2 L563.7,339.2 L564.5,339.2 L565.3,339.2 L566.1,339.2 L566.9,339.2 L567.7,339.2 L568.5,339.2 L569.3,339.2 L570.1,339.2 L570.9,339.3 L571.7,339.3 L572.5,339.3 L573.3,339.3 L574.1,339.3 L574.9,339.3 L575.7,339.3 L576.5,339.3 L577.3,339.3 L578.1,339.3 L578.9,339.3 L579.7,339.3 L580.5,339.3 L581.3,339.3 L582.1,339.3 L582.9,339.3 L583.7,339.3 L584.5,339.3 L585.3,339.3 L586.1,339.3 L586.9,339.3 L587.7,339.3 L588.5,339.3 L589.4,339.3 L590.2,339.3 L591.0,339.3 L591.8,339.3 L592.6,339.3 L593.4,339.3 L594.2,339.3 L595.0,339.3 L595.8,339.3 L596.6,339.3 L597.4,339.3 L598.2,339.3 L599.0,339.3 L599.8,339.3 L600.6,339.3 L601.4,339.3 L602.2,339.3 L603.0,339.3 L603.8,339.3 L604.6,339.3 L605.4,339.3 L606.2,339.3 L607.0,339.3 L607.8,339.3 L608.6,339.3 L609.4,339.3 L610.2,339.3 L611.0,339.3 L611.8,339.3 L612.6,339.3 L613.4,339.3 L614.2,339.4 L615.0,339.4 L615.8,339.4 L616.6,339.4 L617.4,339.4 L618.2,339.4 L619.0,339.4 L619.8,339.4 L620.6,339.4 L621.4,339.4 L622.2,339.4 L623.0,339.4 L623.8,339.4 L624.6,339.4 L625.4,339.4 L626.2,339.4 L627.0,339.4 L627.8,339.4 L628.6,339.4 L629.4,339.4 L630.2,339.4 L631.0,339.4 L631.8,339.4 L632.6,339.4 L633.4,339.4 L634.2,339.4 L635.0,339.4 L635.8,339.4 L636.6,339.4 L637.4,339.4 L638.2,339.4 L639.0,339.4 L639.8,339.4 L640.6,339.4 L641.4,339.4 L642.2,339.4 L643.0,339.4 L643.8,339.4 L644.6,339.4 L645.4,339.4 L646.2,339.4 L647.0,339.4 L647.8,339.4 L648.6,339.4 L649.4,339.4 L650.2,339.4 L651.0,339.4 L651.8,339.4 L652.6,339.4 L653.4,339.4 L654.2,339.4 L655.0,339.4 L655.8,339.4 L656.6,339.4 L657.4,339.4 L658.2,339.4 L659.0,339.4 L659.8,339.4 L660.6,339.4 L661.4,339.4 L662.2,339.4 L663.0,339.4 L663.8,339.4 L664.6,339.4 L665.4,339.4 L666.2,339.4 L667.0,339.4 L667.8,339.4 L668.6,339.4 L669.4,339.4 L670.2,339.4 L671.0,339.4 L671.8,339.4 L672.6,339.4 L673.4,339.4 L674.2,339.4 L675.0,339.4 L676.0,339.4 L677.0,339.4" fill="none" stroke="#f59b50" stroke-width="1.5" stroke-dasharray="2.6,1.8"/>
<path d="M375.5,215.2 L375.6,215.8 L375.6,216.4 L375.7,217.2 L375.8,218.0 L375.9,218.8 L376.0,219.6 L376.0,220.4 L376.1,221.2 L376.2,222.0 L376.3,222.8 L376.4,223.6 L376.5,224.4 L376.5,225.2 L376.6,226.0 L376.7,226.8 L376.8,227.6 L376.9,228.3 L377.0,229.1 L377.1,229.9 L377.2,230.7 L377.2,231.5 L377.3,232.3 L377.4,233.1 L377.5,233.9 L377.6,234.7 L377.7,235.5 L377.8,236.3 L377.9,237.1 L378.0,237.9 L378.0,238.7 L378.1,239.5 L378.2,240.3 L378.3,241.1 L378.4,241.9 L378.5,242.7 L378.6,243.5 L378.7,244.3 L378.8,245.1 L378.9,245.9 L379.0,246.7 L379.1,247.5 L379.2,248.3 L379.3,249.0 L379.4,249.8 L379.5,250.6 L379.6,251.4 L379.7,252.2 L379.8,253.0 L379.9,253.8 L380.0,254.6 L380.1,255.4 L380.2,256.2 L380.3,257.0 L380.4,257.8 L380.5,258.6 L380.6,259.4 L380.7,260.2 L380.8,261.0 L380.9,261.8 L381.0,262.6 L381.1,263.4 L381.2,264.1 L381.3,264.9 L381.4,265.7 L381.5,266.5 L381.6,267.3 L381.7,268.1 L381.8,268.9 L382.0,269.7 L382.1,270.5 L382.2,271.3 L382.3,272.1 L382.4,272.9 L382.5,273.7 L382.6,274.5 L382.7,275.3 L382.9,276.1 L383.0,276.8 L383.1,277.6 L383.2,278.4 L383.3,279.2 L383.5,280.0 L383.6,280.8 L383.7,281.6 L383.8,282.4 L383.9,283.2 L384.1,284.0 L384.2,284.8 L384.3,285.6 L384.5,286.3 L384.6,287.1 L384.7,287.9 L384.9,288.7 L385.0,289.5 L385.1,290.3 L385.3,291.1 L385.4,291.9 L385.5,292.7 L385.7,293.5 L385.8,294.2 L386.0,295.0 L386.1,295.8 L386.3,296.6 L386.4,297.4 L386.6,298.2 L386.7,299.0 L386.9,299.7 L387.1,300.5 L387.3,301.3 L387.5,302.1 L387.7,302.8 L388.0,303.6 L388.2,304.4 L388.4,305.1 L388.7,305.9 L389.0,306.7 L389.2,307.4 L389.5,308.2 L389.8,308.9 L390.1,309.7 L390.4,310.4 L390.7,311.1 L391.0,311.9 L391.4,312.6 L391.7,313.3 L392.0,314.0 L392.4,314.8 L392.7,315.5 L393.1,316.2 L393.5,316.9 L393.8,317.6 L394.2,318.3 L394.6,319.0 L395.0,319.7 L395.4,320.4 L395.9,321.1 L396.3,321.7 L396.8,322.4 L397.3,323.0 L397.9,323.6 L398.4,324.2 L398.9,324.8 L399.5,325.4 L400.0,326.0 L400.6,326.5 L401.2,327.1 L401.8,327.6 L402.4,328.1 L403.0,328.6 L403.7,329.1 L404.4,329.5 L405.1,329.8 L405.9,330.0 L406.6,330.2 L407.4,330.3 L408.2,330.4 L409.0,330.5 L409.8,330.6 L410.6,330.7 L411.4,330.8 L412.2,330.9 L413.0,331.0 L413.8,331.0 L414.6,331.1 L415.4,331.2 L416.2,331.2 L417.0,331.3 L417.8,331.3 L418.6,331.4 L419.4,331.4 L420.2,331.4 L421.0,331.5 L421.8,331.5 L422.6,331.6 L423.4,331.6 L424.2,331.6 L425.0,331.7 L425.8,331.7 L426.6,331.7 L427.4,331.8 L428.2,331.8 L429.0,331.9 L429.8,331.9 L430.6,331.9 L431.4,332.0 L432.2,332.0 L433.0,332.0 L433.8,332.1 L434.6,332.1 L435.4,332.1 L436.2,332.2 L437.0,332.2 L437.8,332.2 L438.6,332.2 L439.4,332.3 L440.2,332.3 L441.0,332.3 L441.8,332.3 L442.6,332.4 L443.4,332.4 L444.2,332.4 L445.0,332.4 L445.8,332.5 L446.6,332.5 L447.4,332.5 L448.2,332.5 L449.0,332.5 L449.8,332.6 L450.6,332.6 L451.4,332.6 L452.2,332.6 L453.0,332.6 L453.8,332.6 L454.6,332.6 L455.4,332.7 L456.2,332.7 L457.0,332.7 L457.8,332.7 L458.6,332.7 L459.4,332.7 L460.2,332.7 L461.0,332.7 L461.8,332.7 L462.6,332.7 L463.4,332.7 L464.2,332.7 L465.0,332.7 L465.8,332.7 L466.7,332.7 L467.5,332.7 L468.3,332.7 L469.1,332.7 L469.9,332.8 L470.7,332.8 L471.5,332.8 L472.3,332.8 L473.1,332.8 L473.9,332.8 L474.7,332.8 L475.5,332.8 L476.3,332.8 L477.1,332.8 L477.9,332.8 L478.7,332.8 L479.5,332.8 L480.3,332.8 L481.1,332.8 L481.9,332.8 L482.7,332.8 L483.5,332.8 L484.3,332.8 L485.1,332.8 L485.9,332.8 L486.7,332.8 L487.5,332.8 L488.3,332.8 L489.1,332.8 L489.9,332.8 L490.7,332.8 L491.5,332.9 L492.3,332.9 L493.1,332.9 L493.9,332.9 L494.7,332.9 L495.5,332.9 L496.3,332.9 L497.1,332.9 L497.9,332.9 L498.7,332.9 L499.5,332.9 L500.3,332.9 L501.1,332.9 L501.9,332.9 L502.7,332.9 L503.5,332.9 L504.3,332.9 L505.1,332.9 L505.9,332.9 L506.7,332.9 L507.5,332.9 L508.3,332.9 L509.1,332.9 L509.9,332.9 L510.7,332.9 L511.5,332.9 L512.3,332.9 L513.1,332.9 L513.9,332.9 L514.7,332.9 L515.5,332.9 L516.3,332.9 L517.1,333.0 L517.9,333.0 L518.7,333.0 L519.5,333.0 L520.3,333.0 L521.1,333.0 L521.9,333.0 L522.7,333.0 L523.5,333.0 L524.3,333.0 L525.1,333.0 L525.9,333.0 L526.8,333.0 L527.6,333.0 L528.4,333.0 L529.2,333.0 L530.0,333.0 L530.8,333.0 L531.6,333.0 L532.4,333.0 L533.2,333.0 L534.0,333.0 L534.8,333.0 L535.6,333.0 L536.4,333.0 L537.2,333.0 L538.0,333.0 L538.8,333.0 L539.6,333.0 L540.4,333.0 L541.2,333.0 L542.0,333.0 L542.8,333.0 L543.6,333.0 L544.4,333.0 L545.2,333.0 L546.0,333.0 L546.8,333.0 L547.6,333.0 L548.4,333.0 L549.2,333.1 L550.0,333.1 L550.8,333.1 L551.6,333.1 L552.4,333.1 L553.2,333.1 L554.0,333.1 L554.8,333.1 L555.6,333.1 L556.4,333.1 L557.2,333.1 L558.0,333.1 L558.8,333.1 L559.6,333.1 L560.4,333.1 L561.2,333.1 L562.0,333.1 L562.8,333.1 L563.6,333.1 L564.4,333.1 L565.2,333.1 L566.0,333.1 L566.8,333.1 L567.6,333.1 L568.4,333.1 L569.2,333.1 L570.0,333.1 L570.8,333.1 L571.6,333.1 L572.4,333.1 L573.2,333.1 L574.0,333.1 L574.8,333.1 L575.6,333.1 L576.4,333.1 L577.2,333.1 L578.0,333.1 L578.8,333.1 L579.6,333.1 L580.4,333.1 L581.2,333.1 L582.0,333.1 L582.8,333.1 L583.6,333.1 L584.4,333.1 L585.2,333.1 L586.0,333.1 L586.9,333.1 L587.7,333.1 L588.5,333.1 L589.3,333.1 L590.1,333.1 L590.9,333.1 L591.7,333.1 L592.5,333.1 L593.3,333.1 L594.1,333.1 L594.9,333.1 L595.7,333.1 L596.5,333.1 L597.3,333.1 L598.1,333.1 L598.9,333.1 L599.7,333.2 L600.5,333.2 L601.3,333.2 L602.1,333.2 L602.9,333.2 L603.7,333.2 L604.5,333.2 L605.3,333.2 L606.1,333.2 L606.9,333.2 L607.7,333.2 L608.5,333.2 L609.3,333.2 L610.1,333.2 L610.9,333.2 L611.7,333.2 L612.5,333.2 L613.3,333.2 L614.1,333.2 L614.9,333.2 L615.7,333.2 L616.5,333.2 L617.3,333.2 L618.1,333.2 L618.9,333.2 L619.7,333.2 L620.5,333.2 L621.3,333.2 L622.1,333.2 L622.9,333.2 L623.7,333.2 L624.5,333.2 L625.3,333.2 L626.1,333.2 L626.9,333.2 L627.7,333.2 L628.5,333.2 L629.3,333.2 L630.1,333.2 L630.9,333.2 L631.7,333.2 L632.5,333.2 L633.3,333.2 L634.1,333.2 L634.9,333.2 L635.7,333.2 L636.5,333.2 L637.3,333.2 L638.1,333.2 L638.9,333.2 L639.7,333.2 L640.5,333.2 L641.3,333.2 L642.1,333.2 L642.9,333.2 L643.7,333.2 L644.5,333.2 L645.3,333.2 L646.1,333.2 L647.0,333.2 L647.8,333.2 L648.6,333.2 L649.4,333.2 L650.2,333.2 L651.0,333.2 L651.8,333.2 L652.6,333.2 L653.4,333.2 L654.2,333.2 L655.0,333.2 L655.8,333.2 L656.6,333.2 L657.4,333.2 L658.2,333.2 L659.0,333.2 L659.8,333.2 L660.6,333.2 L661.4,333.2 L662.2,333.2 L663.0,333.2 L663.8,333.2 L664.6,333.2 L665.4,333.2 L666.2,333.2 L667.0,333.2 L667.8,333.2 L668.6,333.2 L669.4,333.2 L670.2,333.2 L671.0,333.2 L671.8,333.2 L672.6,333.2 L673.4,333.2 L674.2,333.2 L675.0,333.2 L676.0,333.2 L677.0,333.2" fill="none" stroke="#f59b50" stroke-width="1.5"/>
<path d="M376.0,320.2 L376.4,320.7 L376.8,321.1 L377.3,321.7 L377.9,322.3 L378.4,322.9 L378.9,323.5 L379.5,324.1 L380.0,324.7 L380.6,325.2 L381.1,325.8 L381.7,326.4 L382.3,327.0 L382.8,327.5 L383.4,328.1 L384.0,328.7 L384.5,329.3 L385.0,329.9 L385.5,330.5 L386.1,331.1 L386.6,331.7 L387.1,332.3 L387.7,332.8 L388.3,333.3 L389.0,333.7 L389.8,333.9 L390.6,333.9 L391.4,333.9 L392.2,333.9 L393.0,333.9 L393.8,333.9 L394.6,333.9 L395.4,333.9 L396.2,333.9 L397.0,333.9 L397.8,333.9 L398.6,333.9 L399.4,333.9 L400.2,333.9 L401.0,333.9 L401.8,333.9 L402.6,333.9 L403.4,334.0 L404.2,334.0 L405.0,334.0 L405.8,334.1 L406.6,334.1 L407.4,334.1 L408.2,334.2 L409.0,334.2 L409.8,334.2 L410.6,334.3 L411.4,334.3 L412.2,334.4 L413.0,334.4 L413.8,334.5 L414.6,334.5 L415.4,334.6 L416.2,334.6 L417.0,334.7 L417.8,334.7 L418.6,334.8 L419.4,334.8 L420.2,334.8 L421.0,334.9 L421.8,334.9 L422.6,335.0 L423.4,335.0 L424.2,335.0 L425.0,335.1 L425.8,335.1 L426.6,335.1 L427.4,335.2 L428.2,335.2 L429.0,335.3 L429.8,335.3 L430.6,335.3 L431.4,335.4 L432.2,335.4 L433.0,335.5 L433.8,335.5 L434.6,335.5 L435.4,335.6 L436.2,335.6 L437.0,335.6 L437.8,335.7 L438.6,335.7 L439.4,335.8 L440.2,335.8 L441.0,335.8 L441.8,335.9 L442.6,335.9 L443.4,336.0 L444.2,336.0 L445.0,336.0 L445.8,336.1 L446.6,336.1 L447.4,336.1 L448.2,336.2 L449.0,336.2 L449.8,336.2 L450.6,336.3 L451.4,336.3 L452.2,336.3 L453.0,336.4 L453.8,336.4 L454.6,336.4 L455.4,336.5 L456.3,336.5 L457.1,336.5 L457.9,336.5 L458.7,336.6 L459.5,336.6 L460.3,336.6 L461.1,336.6 L461.9,336.7 L462.7,336.7 L463.5,336.7 L464.3,336.7 L465.1,336.7 L465.9,336.8 L466.7,336.8 L467.5,336.8 L468.3,336.8 L469.1,336.9 L469.9,336.9 L470.7,336.9 L471.5,336.9 L472.3,336.9 L473.1,337.0 L473.9,337.0 L474.7,337.0 L475.5,337.0 L476.3,337.0 L477.1,337.1 L477.9,337.1 L478.7,337.1 L479.5,337.1 L480.3,337.2 L481.1,337.2 L481.9,337.2 L482.7,337.2 L483.5,337.2 L484.3,337.3 L485.1,337.3 L485.9,337.3 L486.7,337.3 L487.5,337.4 L488.3,337.4 L489.1,337.4 L489.9,337.4 L490.7,337.4 L491.5,337.5 L492.3,337.5 L493.1,337.5 L493.9,337.5 L494.7,337.5 L495.5,337.6 L496.3,337.6 L497.1,337.6 L497.9,337.6 L498.7,337.6 L499.5,337.7 L500.3,337.7 L501.1,337.7 L501.9,337.7 L502.7,337.8 L503.5,337.8 L504.3,337.8 L505.1,337.8 L505.9,337.8 L506.7,337.9 L507.5,337.9 L508.3,337.9 L509.1,337.9 L509.9,337.9 L510.7,338.0 L511.5,338.0 L512.3,338.0 L513.1,338.0 L513.9,338.0 L514.7,338.1 L515.5,338.1 L516.3,338.1 L517.1,338.1 L517.9,338.1 L518.7,338.2 L519.5,338.2 L520.3,338.2 L521.1,338.2 L521.9,338.2 L522.7,338.3 L523.5,338.3 L524.3,338.3 L525.1,338.3 L525.9,338.3 L526.8,338.3 L527.6,338.4 L528.4,338.4 L529.2,338.4 L530.0,338.4 L530.8,338.4 L531.6,338.5 L532.4,338.5 L533.2,338.5 L534.0,338.5 L534.8,338.5 L535.6,338.6 L536.4,338.6 L537.2,338.6 L538.0,338.6 L538.8,338.6 L539.6,338.6 L540.4,338.7 L541.2,338.7 L542.0,338.7 L542.8,338.7 L543.6,338.7 L544.4,338.8 L545.2,338.8 L546.0,338.8 L546.8,338.8 L547.6,338.8 L548.4,338.8 L549.2,338.9 L550.0,338.9 L550.8,338.9 L551.6,338.9 L552.4,338.9 L553.2,338.9 L554.0,339.0 L554.8,339.0 L555.6,339.0 L556.4,339.0 L557.2,339.0 L558.0,339.0 L558.8,339.1 L559.6,339.1 L560.4,339.1 L561.2,339.1 L562.0,339.1 L562.8,339.1 L563.6,339.2 L564.4,339.2 L565.2,339.2 L566.0,339.2 L566.8,339.2 L567.6,339.2 L568.4,339.3 L569.2,339.3 L570.0,339.3 L570.8,339.3 L571.6,339.3 L572.4,339.3 L573.2,339.3 L574.0,339.4 L574.8,339.4 L575.6,339.4 L576.4,339.4 L577.2,339.4 L578.0,339.4 L578.8,339.4 L579.6,339.5 L580.4,339.5 L581.2,339.5 L582.0,339.5 L582.8,339.5 L583.6,339.5 L584.4,339.5 L585.2,339.6 L586.0,339.6 L586.8,339.6 L587.6,339.6 L588.4,339.6 L589.2,339.6 L590.0,339.6 L590.9,339.7 L591.7,339.7 L592.5,339.7 L593.3,339.7 L594.1,339.7 L594.9,339.7 L595.7,339.7 L596.5,339.7 L597.3,339.8 L598.1,339.8 L598.9,339.8 L599.7,339.8 L600.5,339.8 L601.3,339.8 L602.1,339.8 L602.9,339.8 L603.7,339.8 L604.5,339.9 L605.3,339.9 L606.1,339.9 L606.9,339.9 L607.7,339.9 L608.5,339.9 L609.3,339.9 L610.1,339.9 L610.9,339.9 L611.7,340.0 L612.5,340.0 L613.3,340.0 L614.1,340.0 L614.9,340.0 L615.7,340.0 L616.5,340.0 L617.3,340.0 L618.1,340.0 L618.9,340.0 L619.7,340.1 L620.5,340.1 L621.3,340.1 L622.1,340.1 L622.9,340.1 L623.7,340.1 L624.5,340.1 L625.3,340.1 L626.1,340.1 L626.9,340.1 L627.7,340.1 L628.5,340.2 L629.3,340.2 L630.1,340.2 L630.9,340.2 L631.7,340.2 L632.5,340.2 L633.3,340.2 L634.1,340.2 L634.9,340.2 L635.7,340.2 L636.5,340.2 L637.3,340.2 L638.1,340.2 L638.9,340.2 L639.7,340.3 L640.5,340.3 L641.3,340.3 L642.1,340.3 L642.9,340.3 L643.7,340.3 L644.5,340.3 L645.3,340.3 L646.1,340.3 L646.9,340.3 L647.7,340.3 L648.5,340.3 L649.4,340.3 L650.2,340.3 L651.0,340.3 L651.8,340.3 L652.6,340.3 L653.4,340.3 L654.2,340.3 L655.0,340.3 L655.8,340.4 L656.6,340.4 L657.4,340.4 L658.2,340.4 L659.0,340.4 L659.8,340.4 L660.6,340.4 L661.4,340.4 L662.2,340.4 L663.0,340.4 L663.8,340.4 L664.6,340.4 L665.4,340.4 L666.2,340.4 L667.0,340.4 L667.8,340.4 L668.6,340.4 L669.4,340.4 L670.2,340.4 L671.0,340.4 L671.8,340.4 L672.6,340.4 L673.4,340.4 L674.2,340.4 L675.0,340.4 L676.0,340.4 L677.0,340.4" fill="none" stroke="#3f90d2" stroke-width="1.5"/>
<circle cx="417.8" cy="189.1" r="4.7" fill="#f59b50"/>
<circle cx="469.8" cy="176.2" r="4.7" fill="#8590a8"/>
<circle cx="418.3" cy="215.9" r="4.7" fill="#8590a8"/>
<circle cx="417.8" cy="237.1" r="4.7" fill="#3f90d2"/>
<circle cx="479.1" cy="237" r="4.7" fill="#8590a8"/>
<circle cx="542.4" cy="199.8" r="4.7" fill="#8590a8"/>
<circle cx="554.3" cy="225.9" r="4.7" fill="#f59b50"/>
<circle cx="524" cy="261.8" r="4.7" fill="#3f90d2"/>
<circle cx="451.7" cy="279.7" r="4.7" fill="#8590a8"/>
<rect x="617.5" y="171" width="55.3" height="47.3" fill="#fff" stroke="#777" stroke-width="0.6"/>
<circle cx="625.6" cy="180" r="4.6" fill="#3f90d2"/>
<text x="633.2" y="183.1" font-size="8.4" fill="#3a3a3a" text-anchor="start" font-weight="normal" textLength="38.5" lengthAdjust="spacingAndGlyphs">PAM–LiCl</text>
<circle cx="625.6" cy="195.4" r="4.6" fill="#f59b50"/>
<text x="633.2" y="198.5" font-size="8.4" fill="#3a3a3a" text-anchor="start" font-weight="normal" textLength="35.5" lengthAdjust="spacingAndGlyphs">MOF-801</text>
<circle cx="625.6" cy="210.2" r="4.6" fill="#8590a8"/>
<text x="633.2" y="213.29999999999998" font-size="8.4" fill="#3a3a3a" text-anchor="start" font-weight="normal" textLength="23" lengthAdjust="spacingAndGlyphs">Other</text>
<text x="393.2" y="285.8" font-size="8.4" fill="#3a3a3a" text-anchor="start" font-weight="normal" textLength="29.7" lengthAdjust="spacingAndGlyphs">MIL-160</text>
<text x="392.8" y="295.4" font-size="8.4" fill="#3a3a3a" textLength="48" lengthAdjust="spacingAndGlyphs">(<tspan font-style="italic">T</tspan><tspan font-size="5.8" dy="1.8">d</tspan><tspan dy="-1.8"> = 100 °C)</tspan></text>
<text x="407.4" y="313.8" font-size="8.4" fill="#3a3a3a" text-anchor="start" font-weight="normal" textLength="34.7" lengthAdjust="spacingAndGlyphs">MOF-801</text>
<text x="406.9" y="323.6" font-size="8.4" fill="#3a3a3a" textLength="43.8" lengthAdjust="spacingAndGlyphs">(<tspan font-style="italic">T</tspan><tspan font-size="5.8" dy="1.8">d</tspan><tspan dy="-1.8"> = 60 °C)</tspan></text>
<text x="412.6" y="357.3" font-size="8.4" fill="#3a3a3a" text-anchor="start" font-weight="normal" textLength="37.3" lengthAdjust="spacingAndGlyphs">PAM–LiCl</text>
<text x="412.1" y="367" font-size="8.4" fill="#3a3a3a" textLength="43.4" lengthAdjust="spacingAndGlyphs">(<tspan font-style="italic">T</tspan><tspan font-size="5.8" dy="1.8">d</tspan><tspan dy="-1.8"> = 70 °C)</tspan></text>
<path d="M392.6,282 C389,282.5 385.5,284.5 384.6,287.8" fill="none" stroke="#444" stroke-width="0.6"/>
<path d="M406,310.9 C396,310.9 390,317 389.8,326" fill="none" stroke="#444" stroke-width="0.6"/>
<path d="M411.2,354.2 C397,354.2 390.5,346 390.3,333.9" fill="none" stroke="#444" stroke-width="0.6"/>
<text x="-0.3" y="436.6" font-size="12.6" fill="#111" text-anchor="start" font-weight="bold" stroke="#111" stroke-width="0.35">f</text>
<line x1="36.4" y1="429.8" x2="36.4" y2="625.6" stroke="#b3b3b3" stroke-width="1"/>
<line x1="36.4" y1="625.6" x2="338.7" y2="625.6" stroke="#b3b3b3" stroke-width="1"/>
<text transform="translate(30.2,527.9) rotate(-90)" font-size="8.6" fill="#3a3a3a" text-anchor="middle" textLength="87.8" lengthAdjust="spacingAndGlyphs">Moisture uptake (g g<tspan font-size="5.6" dy="-3">−1</tspan><tspan dy="3">)</tspan></text>
<text x="153.9" y="639.1" font-size="8.6" fill="#3a3a3a" text-anchor="start" font-weight="normal" textLength="67.1" lengthAdjust="spacingAndGlyphs">Relative humidity</text>
<path d="M37.5,625.5 L38.3,625.5 L38.9,625.5 L39.6,625.5 L40.3,625.5 L41.1,625.5 L41.9,625.5 L42.7,625.5 L43.5,625.5 L44.3,625.5 L45.1,625.5 L45.9,625.5 L46.7,625.5 L47.5,625.5 L48.3,625.5 L49.1,625.5 L49.9,625.5 L50.7,625.5 L51.5,625.5 L52.3,625.5 L53.1,625.5 L53.9,625.5 L54.7,625.5 L55.5,625.5 L56.3,625.5 L57.1,625.5 L57.9,625.5 L58.7,625.5 L59.5,625.5 L60.3,625.5 L61.2,625.5 L62.0,625.5 L62.8,625.5 L63.6,625.5 L64.4,625.5 L65.2,625.5 L66.0,625.5 L66.8,625.5 L67.6,625.5 L68.4,625.5 L69.2,625.5 L70.0,625.5 L70.8,625.5 L71.6,625.5 L72.4,625.5 L73.2,625.5 L74.0,625.5 L74.8,625.5 L75.6,625.5 L76.4,625.5 L77.2,625.5 L78.0,625.5 L78.8,625.5 L79.6,625.5 L80.4,625.4 L81.2,625.4 L82.0,625.4 L82.8,625.4 L83.6,625.4 L84.4,625.4 L85.2,625.4 L86.0,625.4 L86.8,625.4 L87.6,625.4 L88.4,625.4 L89.2,625.4 L90.0,625.4 L90.8,625.4 L91.6,625.4 L92.4,625.4 L93.2,625.4 L94.0,625.4 L94.8,625.4 L95.6,625.4 L96.4,625.4 L97.2,625.4 L98.0,625.4 L98.8,625.4 L99.6,625.4 L100.4,625.4 L101.2,625.4 L102.0,625.4 L102.8,625.4 L103.6,625.4 L104.4,625.4 L105.2,625.4 L106.0,625.4 L106.8,625.4 L107.7,625.4 L108.5,625.3 L109.3,625.3 L110.1,625.3 L110.9,625.3 L111.7,625.3 L112.5,625.3 L113.3,625.3 L114.1,625.3 L114.9,625.3 L115.7,625.3 L116.5,625.3 L117.3,625.3 L118.1,625.3 L118.9,625.3 L119.7,625.3 L120.5,625.2 L121.3,625.2 L122.1,625.2 L122.9,625.1 L123.7,625.1 L124.5,625.1 L125.3,625.0 L126.1,624.9 L126.9,624.9 L127.7,624.8 L128.5,624.8 L129.3,624.7 L130.1,624.6 L130.9,624.5 L131.7,624.5 L132.5,624.4 L133.3,624.3 L134.1,624.2 L134.9,624.1 L135.7,624.0 L136.5,623.9 L137.2,623.8 L138.0,623.7 L138.8,623.6 L139.6,623.5 L140.4,623.4 L141.2,623.3 L142.0,623.2 L142.8,623.1 L143.6,623.0 L144.4,622.9 L145.2,622.8 L146.0,622.7 L146.8,622.6 L147.6,622.5 L148.4,622.4 L149.2,622.3 L150.0,622.1 L150.8,622.0 L151.6,621.9 L152.3,621.8 L153.1,621.7 L153.9,621.6 L154.7,621.5 L155.5,621.4 L156.3,621.3 L157.1,621.2 L157.9,621.1 L158.7,620.9 L159.5,620.8 L160.3,620.7 L161.1,620.5 L161.9,620.4 L162.7,620.3 L163.4,620.1 L164.2,620.0 L165.0,619.9 L165.8,619.7 L166.6,619.6 L167.4,619.4 L168.2,619.3 L169.0,619.2 L169.8,619.0 L170.5,618.9 L171.3,618.7 L172.1,618.5 L172.9,618.4 L173.7,618.2 L174.5,618.1 L175.3,617.9 L176.0,617.8 L176.8,617.6 L177.6,617.4 L178.4,617.3 L179.2,617.1 L180.0,617.0 L180.8,616.8 L181.5,616.6 L182.3,616.4 L183.1,616.3 L183.9,616.1 L184.7,615.9 L185.5,615.7 L186.2,615.5 L187.0,615.4 L187.8,615.2 L188.6,615.0 L189.3,614.8 L190.1,614.6 L190.9,614.4 L191.7,614.2 L192.4,614.0 L193.2,613.8 L194.0,613.6 L194.8,613.4 L195.5,613.1 L196.3,612.9 L197.1,612.7 L197.9,612.5 L198.6,612.3 L199.4,612.0 L200.2,611.8 L200.9,611.6 L201.7,611.3 L202.5,611.1 L203.2,610.9 L204.0,610.6 L204.8,610.4 L205.5,610.1 L206.3,609.9 L207.0,609.6 L207.8,609.4 L208.6,609.1 L209.3,608.9 L210.1,608.6 L210.8,608.3 L211.6,608.1 L212.3,607.8 L213.1,607.5 L213.8,607.2 L214.6,606.9 L215.3,606.7 L216.1,606.4 L216.8,606.1 L217.6,605.8 L218.3,605.5 L219.1,605.1 L219.8,604.8 L220.5,604.5 L221.3,604.2 L222.0,603.9 L222.7,603.5 L223.4,603.2 L224.2,602.8 L224.9,602.5 L225.6,602.1 L226.3,601.8 L227.0,601.4 L227.8,601.0 L228.5,600.7 L229.2,600.3 L229.9,599.9 L230.6,599.5 L231.3,599.1 L232.0,598.8 L232.7,598.4 L233.4,598.0 L234.1,597.6 L234.8,597.2 L235.5,596.8 L236.2,596.4 L236.9,596.0 L237.6,595.6 L238.3,595.2 L238.9,594.8 L239.6,594.4 L240.3,593.9 L241.0,593.5 L241.7,593.1 L242.3,592.6 L243.0,592.2 L243.7,591.8 L244.4,591.3 L245.0,590.9 L245.7,590.4 L246.4,590.0 L247.0,589.5 L247.7,589.1 L248.3,588.6 L249.0,588.2 L249.7,587.7 L250.3,587.3 L251.0,586.8 L251.6,586.4 L252.3,585.9 L253.0,585.4 L253.6,585.0 L254.3,584.5 L254.9,584.1 L255.6,583.6 L256.2,583.1 L256.9,582.7 L257.5,582.2 L258.2,581.7 L258.8,581.3 L259.5,580.8 L260.1,580.3 L260.8,579.8 L261.4,579.3 L262.1,578.9 L262.7,578.4 L263.3,577.9 L264.0,577.4 L264.6,576.9 L265.2,576.4 L265.9,575.9 L266.5,575.5 L267.1,575.0 L267.8,574.5 L268.4,574.0 L269.0,573.5 L269.6,573.0 L270.3,572.5 L270.9,572.0 L271.5,571.5 L272.1,570.9 L272.8,570.4 L273.4,569.9 L274.0,569.4 L274.6,568.9 L275.2,568.4 L275.8,567.9 L276.5,567.4 L277.1,566.8 L277.7,566.3 L278.3,565.8 L278.9,565.2 L279.5,564.7 L280.0,564.2 L280.6,563.6 L281.2,563.1 L281.8,562.5 L282.4,561.9 L282.9,561.4 L283.5,560.8 L284.1,560.2 L284.6,559.7 L285.2,559.1 L285.7,558.5 L286.3,557.9 L286.8,557.4 L287.4,556.8 L287.9,556.2 L288.5,555.6 L289.0,555.0 L289.5,554.3 L290.0,553.7 L290.5,553.1 L291.0,552.5 L291.5,551.8 L291.9,551.2 L292.4,550.5 L292.9,549.9 L293.3,549.2 L293.7,548.5 L294.1,547.8 L294.6,547.1 L295.0,546.4 L295.3,545.7 L295.7,545.0 L296.1,544.3 L296.5,543.6 L296.8,542.9 L297.2,542.2 L297.5,541.5 L297.9,540.7 L298.2,540.0 L298.6,539.3 L298.9,538.6 L299.2,537.8 L299.5,537.1 L299.9,536.4 L300.2,535.6 L300.5,534.8 L300.9,534.0 L301.3,533.1 L301.6,532.3" fill="none" stroke="#1d2c4c" stroke-width="1.4"/>
<path d="M37.5,625.5 L38.3,625.5 L38.9,625.5 L39.6,625.5 L40.3,625.5 L41.1,625.5 L41.9,625.5 L42.7,625.5 L43.5,625.5 L44.3,625.5 L45.1,625.5 L45.9,625.5 L46.7,625.5 L47.5,625.5 L48.3,625.5 L49.1,625.5 L49.9,625.5 L50.7,625.5 L51.5,625.5 L52.3,625.5 L53.1,625.4 L53.9,625.4 L54.7,625.4 L55.5,625.4 L56.3,625.4 L57.1,625.4 L57.9,625.4 L58.7,625.4 L59.5,625.4 L60.3,625.4 L61.1,625.4 L61.9,625.4 L62.7,625.4 L63.5,625.4 L64.3,625.3 L65.1,625.3 L65.9,625.3 L66.7,625.3 L67.5,625.3 L68.4,625.3 L69.2,625.2 L70.0,625.2 L70.8,625.2 L71.6,625.2 L72.4,625.1 L73.2,625.1 L74.0,625.1 L74.8,625.0 L75.6,625.0 L76.4,625.0 L77.2,624.9 L78.0,624.9 L78.8,624.9 L79.6,624.8 L80.4,624.8 L81.2,624.8 L82.0,624.7 L82.8,624.7 L83.6,624.6 L84.4,624.6 L85.2,624.5 L86.0,624.5 L86.8,624.4 L87.6,624.3 L88.4,624.3 L89.2,624.2 L89.9,624.1 L90.7,624.0 L91.5,623.9 L92.3,623.8 L93.1,623.7 L93.9,623.6 L94.7,623.4 L95.5,623.3 L96.3,623.2 L97.1,623.0 L97.9,622.9 L98.7,622.8 L99.4,622.6 L100.2,622.4 L101.0,622.3 L101.8,622.1 L102.6,621.9 L103.3,621.6 L104.1,621.4 L104.9,621.1 L105.6,620.9 L106.4,620.6 L107.1,620.3 L107.8,620.0 L108.6,619.7 L109.3,619.3 L110.0,619.0 L110.8,618.7 L111.5,618.3 L112.2,618.0 L113.0,617.7 L113.7,617.3 L114.4,617.0 L115.1,616.6 L115.8,616.3 L116.6,615.9 L117.3,615.6 L118.0,615.3 L118.7,614.9 L119.5,614.6 L120.2,614.2 L120.9,613.9 L121.6,613.5 L122.4,613.2 L123.1,612.8 L123.8,612.5 L124.5,612.1 L125.2,611.7 L125.9,611.4 L126.6,611.0 L127.3,610.6 L128.0,610.2 L128.7,609.8 L129.4,609.4 L130.1,609.0 L130.8,608.6 L131.5,608.2 L132.2,607.7 L132.8,607.3 L133.5,606.8 L134.2,606.4 L134.8,605.9 L135.5,605.5 L136.1,605.0 L136.7,604.5 L137.3,604.0 L138.0,603.5 L138.6,602.9 L139.2,602.4 L139.8,601.9 L140.3,601.3 L140.9,600.8 L141.5,600.2 L142.1,599.6 L142.6,599.1 L143.2,598.5 L143.7,597.9 L144.3,597.3 L144.8,596.7 L145.4,596.1 L145.9,595.5 L146.4,594.9 L146.9,594.3 L147.5,593.7 L148.0,593.1 L148.5,592.5 L149.0,591.9 L149.5,591.3 L150.0,590.6 L150.5,590.0 L151.0,589.4 L151.5,588.7 L152.0,588.1 L152.4,587.4 L152.9,586.8 L153.3,586.1 L153.8,585.5 L154.2,584.8 L154.7,584.1 L155.1,583.4 L155.5,582.8 L156.0,582.1 L156.4,581.4 L156.8,580.7 L157.2,580.1 L157.7,579.4 L158.1,578.7 L158.5,578.0 L158.9,577.3 L159.3,576.6 L159.7,575.9 L160.1,575.2 L160.5,574.5 L160.9,573.8 L161.3,573.1 L161.6,572.4 L162.0,571.7 L162.4,571.0 L162.7,570.3 L163.1,569.6 L163.4,568.8 L163.8,568.1 L164.2,567.4 L164.5,566.7 L164.9,566.0 L165.2,565.2 L165.5,564.5 L165.9,563.8 L166.2,563.1 L166.6,562.3 L166.9,561.6 L167.3,560.9 L167.6,560.2 L168.0,559.5 L168.3,558.7 L168.6,558.0 L169.0,557.3 L169.3,556.6 L169.7,555.8 L170.0,555.1 L170.4,554.4 L170.7,553.7 L171.1,553.0 L171.4,552.2 L171.8,551.5 L172.1,550.8 L172.5,550.1 L172.8,549.3 L173.2,548.6 L173.5,547.9 L173.8,547.2 L174.2,546.4 L174.5,545.7 L174.9,545.0 L175.2,544.3 L175.6,543.5 L175.9,542.8 L176.3,542.1 L176.6,541.4 L177.0,540.7 L177.3,539.9 L177.7,539.2 L178.0,538.5 L178.4,537.8 L178.7,537.1 L179.1,536.4 L179.5,535.6 L179.8,534.9 L180.2,534.2 L180.6,533.5 L180.9,532.8 L181.3,532.1 L181.7,531.4 L182.1,530.7 L182.5,530.0 L182.8,529.3 L183.2,528.6 L183.7,527.9 L184.1,527.2 L184.5,526.5 L184.9,525.9 L185.4,525.2 L185.9,524.5 L186.3,523.9 L186.8,523.3 L187.3,522.6 L187.8,522.0 L188.3,521.4 L188.8,520.8 L189.4,520.2 L189.9,519.6 L190.4,519.0 L191.0,518.4 L191.5,517.8 L192.1,517.2 L192.6,516.6 L193.2,516.1 L193.8,515.5 L194.3,514.9 L194.9,514.4 L195.5,513.9 L196.1,513.3 L196.7,512.8 L197.3,512.3 L197.9,511.8 L198.6,511.3 L199.2,510.8 L199.9,510.4 L200.5,509.9 L201.2,509.5 L201.9,509.0 L202.6,508.6 L203.2,508.2 L203.9,507.8 L204.6,507.4 L205.3,507.0 L206.0,506.6 L206.8,506.3 L207.5,505.9 L208.2,505.6 L208.9,505.2 L209.7,504.9 L210.4,504.6 L211.1,504.3 L211.9,504.0 L212.6,503.7 L213.4,503.4 L214.1,503.1 L214.9,502.8 L215.6,502.6 L216.4,502.3 L217.1,502.0 L217.9,501.8 L218.7,501.5 L219.4,501.2 L220.2,501.0 L220.9,500.7 L221.7,500.5 L222.4,500.2 L223.2,500.0 L224.0,499.7 L224.8,499.5 L225.5,499.3 L226.3,499.1 L227.1,498.9 L227.9,498.8 L228.6,498.6 L229.4,498.5 L230.2,498.3 L231.0,498.2 L231.8,498.0 L232.6,497.9 L233.4,497.8 L234.2,497.6 L235.0,497.5 L235.8,497.4 L236.5,497.3 L237.3,497.1 L238.1,497.0 L238.9,496.9 L239.7,496.7 L240.5,496.6 L241.3,496.5 L242.1,496.3 L242.9,496.2 L243.7,496.0 L244.4,495.9 L245.2,495.8 L246.0,495.6 L246.8,495.5 L247.6,495.3 L248.4,495.2 L249.2,495.1 L250.0,495.0 L250.8,494.9 L251.6,494.8 L252.4,494.7 L253.2,494.6 L254.0,494.6 L254.8,494.5 L255.6,494.4 L256.4,494.3 L257.2,494.2 L257.9,494.2 L258.7,494.1 L259.5,494.0 L260.3,494.0 L261.1,493.9 L261.9,493.8 L262.7,493.8 L263.5,493.7 L264.3,493.7 L265.1,493.6 L265.9,493.6 L266.7,493.6 L267.5,493.5 L268.3,493.5 L269.1,493.5 L269.9,493.5 L270.7,493.5 L271.5,493.5 L272.4,493.5 L273.2,493.5 L274.0,493.5 L274.8,493.5 L275.6,493.5 L276.4,493.5 L277.2,493.5 L278.0,493.5 L278.8,493.5 L279.6,493.5 L280.4,493.5 L281.2,493.5 L282.0,493.5 L282.8,493.5 L283.6,493.5 L284.4,493.5 L285.2,493.5 L286.0,493.5 L286.8,493.5 L287.6,493.5 L288.4,493.5 L289.2,493.5 L290.0,493.5 L290.8,493.5 L291.6,493.5 L292.4,493.5 L293.2,493.5 L294.0,493.5 L294.8,493.5 L295.6,493.5 L296.4,493.5 L297.2,493.5 L298.0,493.5 L298.9,493.5 L299.8,493.5 L300.7,493.5 L301.6,493.5" fill="none" stroke="#5b6e92" stroke-width="1.4" stroke-dasharray="4.4,2.4"/>
<path d="M37.5,625.5 L38.3,625.5 L38.9,625.5 L39.6,625.5 L40.3,625.5 L41.1,625.5 L41.9,625.5 L42.7,625.5 L43.5,625.5 L44.3,625.5 L45.1,625.5 L45.9,625.5 L46.7,625.5 L47.5,625.5 L48.3,625.5 L49.1,625.5 L49.9,625.5 L50.7,625.5 L51.5,625.5 L52.3,625.5 L53.1,625.5 L53.9,625.5 L54.7,625.5 L55.5,625.5 L56.3,625.5 L57.1,625.5 L57.9,625.5 L58.7,625.5 L59.5,625.5 L60.3,625.5 L61.1,625.5 L61.9,625.5 L62.7,625.5 L63.5,625.5 L64.3,625.5 L65.1,625.5 L65.9,625.5 L66.7,625.5 L67.5,625.5 L68.3,625.5 L69.1,625.5 L69.9,625.5 L70.7,625.5 L71.5,625.5 L72.3,625.5 L73.1,625.5 L73.9,625.5 L74.7,625.5 L75.5,625.5 L76.3,625.5 L77.1,625.5 L77.9,625.5 L78.7,625.5 L79.5,625.5 L80.3,625.5 L81.1,625.5 L81.9,625.5 L82.7,625.5 L83.5,625.5 L84.3,625.4 L85.1,625.4 L85.9,625.4 L86.7,625.4 L87.5,625.4 L88.3,625.4 L89.1,625.4 L90.0,625.4 L90.8,625.4 L91.6,625.4 L92.4,625.4 L93.2,625.4 L94.0,625.4 L94.8,625.4 L95.6,625.4 L96.4,625.4 L97.2,625.4 L98.0,625.4 L98.8,625.4 L99.6,625.4 L100.4,625.4 L101.2,625.4 L102.0,625.4 L102.8,625.4 L103.6,625.4 L104.4,625.3 L105.2,625.3 L106.0,625.3 L106.8,625.3 L107.6,625.3 L108.4,625.2 L109.2,625.2 L110.0,625.2 L110.8,625.1 L111.6,625.1 L112.4,625.1 L113.2,625.0 L114.0,625.0 L114.8,624.9 L115.6,624.9 L116.4,624.9 L117.2,624.8 L118.0,624.8 L118.8,624.7 L119.6,624.6 L120.4,624.5 L121.2,624.4 L121.9,624.3 L122.7,624.2 L123.5,624.1 L124.3,624.0 L125.1,623.8 L125.9,623.7 L126.7,623.5 L127.5,623.3 L128.2,623.2 L129.0,623.0 L129.8,622.8 L130.6,622.6 L131.4,622.5 L132.1,622.3 L132.9,622.1 L133.7,621.9 L134.5,621.7 L135.3,621.5 L136.0,621.3 L136.8,621.1 L137.6,620.9 L138.4,620.7 L139.1,620.5 L139.9,620.3 L140.7,620.1 L141.4,619.8 L142.2,619.6 L143.0,619.3 L143.7,619.1 L144.5,618.8 L145.2,618.5 L146.0,618.3 L146.7,618.0 L147.5,617.7 L148.2,617.4 L149.0,617.1 L149.7,616.8 L150.4,616.5 L151.2,616.2 L151.9,615.8 L152.6,615.5 L153.3,615.1 L154.1,614.8 L154.8,614.4 L155.5,614.0 L156.2,613.6 L156.9,613.2 L157.5,612.8 L158.2,612.4 L158.9,612.0 L159.6,611.5 L160.2,611.1 L160.9,610.6 L161.5,610.1 L162.2,609.6 L162.8,609.1 L163.4,608.6 L164.0,608.1 L164.6,607.6 L165.2,607.1 L165.8,606.5 L166.4,606.0 L167.0,605.4 L167.5,604.8 L168.1,604.2 L168.6,603.6 L169.1,603.0 L169.6,602.4 L170.0,601.7 L170.5,601.1 L171.0,600.4 L171.4,599.8 L171.9,599.1 L172.3,598.4 L172.7,597.8 L173.2,597.1 L173.6,596.4 L174.0,595.7 L174.4,595.0 L174.8,594.3 L175.3,593.7 L175.7,593.0 L176.1,592.3 L176.5,591.6 L176.9,590.9 L177.2,590.2 L177.6,589.5 L178.0,588.8 L178.4,588.1 L178.7,587.4 L179.1,586.6 L179.4,585.9 L179.8,585.2 L180.1,584.5 L180.5,583.7 L180.8,583.0 L181.1,582.3 L181.5,581.6 L181.8,580.8 L182.1,580.1 L182.4,579.3 L182.7,578.6 L183.0,577.9 L183.3,577.1 L183.6,576.4 L183.8,575.6 L184.1,574.9 L184.4,574.1 L184.6,573.3 L184.9,572.6 L185.2,571.8 L185.4,571.1 L185.7,570.3 L185.9,569.5 L186.2,568.8 L186.4,568.0 L186.7,567.3 L186.9,566.5 L187.2,565.7 L187.4,565.0 L187.7,564.2 L187.9,563.5 L188.2,562.7 L188.4,562.0 L188.7,561.2 L188.9,560.4 L189.2,559.7 L189.4,558.9 L189.7,558.1 L189.9,557.4 L190.1,556.6 L190.4,555.8 L190.6,555.1 L190.9,554.3 L191.1,553.6 L191.4,552.8 L191.6,552.0 L191.8,551.3 L192.1,550.5 L192.3,549.7 L192.6,549.0 L192.9,548.2 L193.1,547.5 L193.4,546.7 L193.7,546.0 L193.9,545.2 L194.2,544.5 L194.5,543.7 L194.8,543.0 L195.1,542.2 L195.4,541.5 L195.6,540.7 L195.9,540.0 L196.2,539.2 L196.6,538.5 L196.9,537.8 L197.2,537.0 L197.5,536.3 L197.8,535.6 L198.2,534.8 L198.5,534.1 L198.9,533.4 L199.2,532.7 L199.6,532.0 L200.0,531.3 L200.3,530.6 L200.7,529.9 L201.1,529.2 L201.5,528.5 L201.9,527.8 L202.3,527.1 L202.7,526.4 L203.2,525.7 L203.6,525.0 L204.0,524.3 L204.4,523.6 L204.8,523.0 L205.2,522.3 L205.6,521.6 L206.0,520.9 L206.5,520.2 L206.9,519.5 L207.3,518.9 L207.8,518.2 L208.3,517.6 L208.8,516.9 L209.2,516.3 L209.7,515.7 L210.2,515.1 L210.8,514.4 L211.3,513.8 L211.8,513.2 L212.3,512.6 L212.9,512.0 L213.4,511.5 L214.0,510.9 L214.6,510.3 L215.1,509.8 L215.7,509.2 L216.3,508.7 L216.9,508.2 L217.5,507.6 L218.1,507.1 L218.7,506.6 L219.4,506.1 L220.0,505.6 L220.7,505.1 L221.3,504.7 L222.0,504.3 L222.7,503.9 L223.4,503.5 L224.1,503.1 L224.8,502.8 L225.5,502.4 L226.3,502.1 L227.0,501.8 L227.7,501.5 L228.5,501.2 L229.2,500.9 L230.0,500.6 L230.7,500.3 L231.5,500.0 L232.2,499.7 L233.0,499.4 L233.7,499.2 L234.5,498.9 L235.2,498.6 L236.0,498.4 L236.8,498.1 L237.5,497.9 L238.3,497.6 L239.1,497.4 L239.8,497.2 L240.6,497.1 L241.4,496.9 L242.2,496.7 L243.0,496.6 L243.7,496.4 L244.5,496.2 L245.3,496.1 L246.1,495.9 L246.9,495.8 L247.7,495.7 L248.5,495.5 L249.3,495.4 L250.1,495.3 L250.8,495.2 L251.6,495.0 L252.4,494.9 L253.2,494.8 L254.0,494.7 L254.8,494.6 L255.6,494.5 L256.4,494.4 L257.2,494.3 L258.0,494.3 L258.8,494.2 L259.6,494.1 L260.4,494.0 L261.2,493.9 L262.0,493.9 L262.8,493.8 L263.6,493.7 L264.4,493.7 L265.2,493.6 L266.0,493.5 L266.8,493.5 L267.6,493.5 L268.4,493.4 L269.2,493.4 L270.0,493.4 L270.8,493.4 L271.6,493.4 L272.4,493.4 L273.2,493.4 L274.0,493.4 L274.8,493.4 L275.6,493.4 L276.4,493.4 L277.2,493.4 L278.0,493.4 L278.8,493.4 L279.6,493.4 L280.4,493.4 L281.2,493.4 L282.0,493.4 L282.8,493.4 L283.6,493.4 L284.4,493.4 L285.2,493.4 L286.0,493.4 L286.8,493.4 L287.6,493.4 L288.4,493.4 L289.2,493.4 L290.0,493.4 L290.8,493.4 L291.6,493.4 L292.4,493.4 L293.2,493.4 L294.0,493.4 L294.8,493.4 L295.6,493.5 L296.4,493.5 L297.2,493.5 L298.0,493.5 L298.9,493.5 L299.8,493.5 L300.7,493.5 L301.6,493.5" fill="none" stroke="#5b6e92" stroke-width="1.4"/>
<path d="M37.5,625.3 L38.1,624.8 L38.6,624.4 L39.2,624.0 L39.7,623.6 L40.3,623.1 L41.0,622.6 L41.6,622.1 L42.3,621.7 L42.9,621.2 L43.6,620.7 L44.2,620.2 L44.9,619.8 L45.5,619.3 L46.2,618.8 L46.8,618.4 L47.5,617.9 L48.2,617.5 L48.8,617.0 L49.5,616.6 L50.2,616.2 L50.8,615.7 L51.5,615.3 L52.2,614.9 L52.9,614.5 L53.6,614.1 L54.3,613.7 L55.0,613.3 L55.6,612.9 L56.3,612.5 L57.0,612.1 L57.7,611.7 L58.4,611.3 L59.1,610.9 L59.8,610.5 L60.5,610.1 L61.2,609.7 L61.9,609.4 L62.6,609.0 L63.4,608.6 L64.1,608.3 L64.8,607.9 L65.5,607.5 L66.2,607.2 L67.0,606.9 L67.7,606.5 L68.4,606.2 L69.2,605.9 L69.9,605.6 L70.6,605.3 L71.4,605.0 L72.1,604.7 L72.9,604.4 L73.6,604.2 L74.4,603.9 L75.1,603.6 L75.9,603.4 L76.7,603.1 L77.4,602.9 L78.2,602.6 L79.0,602.4 L79.7,602.1 L80.5,601.9 L81.2,601.7 L82.0,601.4 L82.8,601.2 L83.6,601.0 L84.3,600.8 L85.1,600.6 L85.9,600.4 L86.6,600.1 L87.4,599.9 L88.2,599.7 L89.0,599.5 L89.7,599.3 L90.5,599.1 L91.3,599.0 L92.1,598.8 L92.9,598.6 L93.6,598.4 L94.4,598.2 L95.2,598.1 L96.0,597.9 L96.8,597.7 L97.5,597.6 L98.3,597.4 L99.1,597.3 L99.9,597.1 L100.7,597.0 L101.5,596.8 L102.3,596.7 L103.1,596.5 L103.8,596.4 L104.6,596.3 L105.4,596.1 L106.2,596.0 L107.0,595.9 L107.8,595.7 L108.6,595.6 L109.4,595.5 L110.2,595.4 L111.0,595.3 L111.8,595.1 L112.5,595.0 L113.3,594.9 L114.1,594.8 L114.9,594.8 L115.7,594.7 L116.5,594.6 L117.3,594.5 L118.1,594.4 L118.9,594.4 L119.7,594.3 L120.5,594.3 L121.3,594.2 L122.1,594.1 L122.9,594.1 L123.7,594.0 L124.5,594.0 L125.3,593.9 L126.1,593.8 L126.9,593.8 L127.7,593.7 L128.5,593.7 L129.3,593.6 L130.1,593.6 L130.9,593.6 L131.7,593.5 L132.5,593.5 L133.3,593.4 L134.1,593.4 L134.9,593.3 L135.7,593.3 L136.5,593.3 L137.3,593.2 L138.1,593.2 L138.9,593.1 L139.7,593.1 L140.5,593.1 L141.3,593.0 L142.1,593.0 L142.9,592.9 L143.7,592.9 L144.5,592.9 L145.3,592.8 L146.1,592.8 L146.9,592.8 L147.7,592.7 L148.5,592.7 L149.3,592.6 L150.1,592.6 L150.9,592.6 L151.7,592.5 L152.5,592.5 L153.3,592.4 L154.1,592.4 L154.9,592.4 L155.7,592.3 L156.5,592.3 L157.3,592.3 L158.1,592.3 L158.9,592.2 L159.7,592.2 L160.5,592.2 L161.3,592.1 L162.1,592.1 L162.9,592.1 L163.7,592.0 L164.5,592.0 L165.3,592.0 L166.1,591.9 L166.9,591.9 L167.7,591.9 L168.5,591.8 L169.3,591.8 L170.1,591.8 L170.9,591.7 L171.7,591.7 L172.5,591.6 L173.3,591.6 L174.1,591.6 L174.9,591.5 L175.7,591.5 L176.5,591.4 L177.3,591.4 L178.1,591.3 L178.9,591.2 L179.7,591.2 L180.5,591.1 L181.3,591.1 L182.1,591.0 L182.9,590.9 L183.7,590.9 L184.5,590.8 L185.3,590.7 L186.1,590.6 L186.9,590.5 L187.7,590.5 L188.5,590.4 L189.2,590.3 L190.0,590.2 L190.8,590.1 L191.6,590.0 L192.4,589.9 L193.2,589.8 L194.0,589.7 L194.8,589.5 L195.6,589.4 L196.4,589.2 L197.2,589.1 L197.9,588.9 L198.7,588.7 L199.5,588.5 L200.3,588.3 L201.0,588.1 L201.8,587.8 L202.6,587.6 L203.3,587.3 L204.1,587.1 L204.8,586.8 L205.6,586.6 L206.3,586.3 L207.1,586.0 L207.9,585.7 L208.6,585.5 L209.4,585.2 L210.1,584.9 L210.8,584.6 L211.6,584.3 L212.3,584.0 L213.1,583.7 L213.8,583.3 L214.5,583.0 L215.2,582.7 L216.0,582.3 L216.7,582.0 L217.4,581.6 L218.1,581.2 L218.8,580.9 L219.5,580.5 L220.2,580.1 L220.9,579.7 L221.6,579.3 L222.3,578.9 L223.0,578.5 L223.7,578.1 L224.3,577.6 L225.0,577.2 L225.7,576.8 L226.4,576.3 L227.0,575.9 L227.7,575.4 L228.3,574.9 L229.0,574.5 L229.6,574.0 L230.2,573.5 L230.9,573.0 L231.5,572.5 L232.1,572.0 L232.7,571.5 L233.3,571.0 L233.9,570.4 L234.5,569.9 L235.1,569.4 L235.7,568.8 L236.3,568.3 L236.9,567.8 L237.5,567.2 L238.1,566.7 L238.7,566.1 L239.2,565.6 L239.8,565.0 L240.4,564.4 L240.9,563.8 L241.5,563.2 L242.0,562.7 L242.5,562.1 L243.1,561.5 L243.6,560.8 L244.1,560.2 L244.6,559.6 L245.1,559.0 L245.6,558.4 L246.1,557.8 L246.6,557.1 L247.1,556.5 L247.6,555.9 L248.1,555.3 L248.6,554.6 L249.1,554.0 L249.6,553.4 L250.1,552.7 L250.6,552.1 L251.1,551.5 L251.6,550.8 L252.1,550.2 L252.6,549.6 L253.0,548.9 L253.5,548.3 L254.0,547.7 L254.5,547.0 L255.0,546.4 L255.5,545.8 L256.0,545.2 L256.5,544.5 L257.0,543.9 L257.5,543.3 L258.0,542.6 L258.5,542.0 L259.0,541.4 L259.5,540.8 L260.0,540.1 L260.5,539.5 L261.0,538.9 L261.4,538.2 L261.9,537.6 L262.4,536.9 L262.9,536.3 L263.4,535.7 L263.9,535.0 L264.3,534.4 L264.8,533.7 L265.3,533.1 L265.7,532.4 L266.2,531.8 L266.7,531.1 L267.1,530.5 L267.6,529.8 L268.0,529.2 L268.5,528.5 L268.9,527.8 L269.4,527.2 L269.8,526.5 L270.2,525.8 L270.7,525.1 L271.1,524.5 L271.5,523.8 L271.9,523.1 L272.4,522.4 L272.8,521.7 L273.2,521.1 L273.6,520.4 L274.0,519.7 L274.4,519.0 L274.8,518.3 L275.2,517.6 L275.6,516.9 L276.0,516.2 L276.4,515.5 L276.8,514.8 L277.2,514.1 L277.6,513.4 L277.9,512.7 L278.3,512.0 L278.7,511.3 L279.1,510.6 L279.5,509.9 L279.8,509.2 L280.2,508.5 L280.6,507.8 L281.0,507.1 L281.3,506.3 L281.7,505.6 L282.1,504.9 L282.5,504.2 L282.8,503.5 L283.2,502.8 L283.6,502.1 L284.0,501.4 L284.3,500.7 L284.7,500.0 L285.1,499.3 L285.4,498.6 L285.8,497.8 L286.2,497.1 L286.6,496.4 L286.9,495.7 L287.3,495.0 L287.7,494.3 L288.0,493.6 L288.4,492.9 L288.8,492.2 L289.1,491.4 L289.5,490.7 L289.9,490.0 L290.2,489.3 L290.6,488.6 L291.0,487.9 L291.3,487.2 L291.7,486.4 L292.0,485.7 L292.4,485.0 L292.7,484.3 L293.1,483.6 L293.5,482.9 L293.8,482.1 L294.2,481.4 L294.5,480.7 L294.9,480.0 L295.2,479.3 L295.6,478.5 L295.9,477.8 L296.3,477.1 L296.6,476.4 L297.0,475.7 L297.3,474.9 L297.7,474.2 L298.0,473.5 L298.4,472.8 L298.7,472.1 L299.0,471.3 L299.4,470.6 L299.7,469.9 L300.1,469.2 L300.5,468.3 L300.8,467.5 L301.2,466.7 L301.6,465.9" fill="none" stroke="#f59b50" stroke-width="1.4"/>
<path d="M37.5,625.3 L37.8,624.6 L38.1,624.1 L38.5,623.4 L38.8,622.8 L39.2,622.1 L39.6,621.4 L39.9,620.7 L40.3,620.0 L40.7,619.3 L41.1,618.6 L41.5,617.9 L41.9,617.2 L42.3,616.5 L42.7,615.8 L43.1,615.1 L43.5,614.4 L43.9,613.8 L44.3,613.1 L44.8,612.4 L45.2,611.7 L45.6,611.1 L46.1,610.4 L46.5,609.7 L47.0,609.1 L47.5,608.4 L48.0,607.8 L48.4,607.2 L48.9,606.5 L49.5,605.9 L50.0,605.3 L50.5,604.7 L51.1,604.1 L51.6,603.5 L52.2,603.0 L52.7,602.4 L53.3,601.9 L53.9,601.3 L54.5,600.8 L55.1,600.2 L55.7,599.7 L56.3,599.2 L56.9,598.7 L57.5,598.2 L58.2,597.7 L58.8,597.2 L59.4,596.7 L60.1,596.2 L60.7,595.7 L61.4,595.3 L62.0,594.8 L62.7,594.4 L63.3,593.9 L64.0,593.5 L64.7,593.1 L65.4,592.6 L66.0,592.2 L66.7,591.8 L67.4,591.4 L68.1,591.0 L68.8,590.6 L69.5,590.2 L70.2,589.8 L70.9,589.4 L71.6,589.0 L72.3,588.6 L73.0,588.2 L73.7,587.9 L74.4,587.5 L75.1,587.2 L75.9,586.8 L76.6,586.5 L77.3,586.1 L78.0,585.8 L78.8,585.4 L79.5,585.1 L80.2,584.8 L81.0,584.5 L81.7,584.1 L82.4,583.8 L83.2,583.5 L83.9,583.2 L84.6,582.9 L85.4,582.6 L86.1,582.3 L86.9,582.0 L87.6,581.7 L88.4,581.4 L89.1,581.2 L89.9,580.9 L90.6,580.6 L91.4,580.3 L92.1,580.1 L92.9,579.8 L93.7,579.6 L94.4,579.3 L95.2,579.1 L95.9,578.8 L96.7,578.6 L97.5,578.3 L98.2,578.1 L99.0,577.8 L99.7,577.6 L100.5,577.3 L101.3,577.1 L102.0,576.9 L102.8,576.6 L103.6,576.4 L104.3,576.1 L105.1,575.9 L105.9,575.7 L106.6,575.4 L107.4,575.2 L108.2,575.0 L108.9,574.8 L109.7,574.5 L110.5,574.3 L111.2,574.1 L112.0,573.9 L112.8,573.7 L113.6,573.5 L114.3,573.3 L115.1,573.1 L115.9,572.9 L116.7,572.8 L117.5,572.6 L118.2,572.5 L119.0,572.3 L119.8,572.2 L120.6,572.0 L121.4,571.9 L122.2,571.7 L123.0,571.6 L123.8,571.5 L124.6,571.3 L125.3,571.2 L126.1,571.1 L126.9,571.0 L127.7,570.9 L128.5,570.8 L129.3,570.6 L130.1,570.5 L130.9,570.4 L131.7,570.3 L132.5,570.2 L133.3,570.1 L134.1,570.0 L134.9,569.9 L135.7,569.8 L136.5,569.7 L137.3,569.6 L138.0,569.5 L138.8,569.4 L139.6,569.3 L140.4,569.3 L141.2,569.2 L142.0,569.1 L142.8,569.0 L143.6,568.9 L144.4,568.8 L145.2,568.7 L146.0,568.6 L146.8,568.5 L147.6,568.5 L148.4,568.4 L149.2,568.3 L150.0,568.2 L150.8,568.1 L151.6,568.1 L152.4,568.0 L153.2,567.9 L154.0,567.9 L154.8,567.8 L155.6,567.7 L156.4,567.7 L157.2,567.6 L158.0,567.5 L158.8,567.5 L159.6,567.4 L160.4,567.4 L161.2,567.3 L162.0,567.3 L162.8,567.2 L163.6,567.2 L164.4,567.1 L165.2,567.1 L166.0,567.0 L166.7,567.0 L167.5,566.9 L168.3,566.9 L169.1,566.9 L169.9,566.8 L170.7,566.8 L171.5,566.7 L172.3,566.7 L173.1,566.7 L173.9,566.6 L174.7,566.6 L175.5,566.6 L176.3,566.5 L177.1,566.5 L177.9,566.5 L178.7,566.4 L179.5,566.4 L180.3,566.4 L181.1,566.3 L181.9,566.3 L182.7,566.3 L183.5,566.2 L184.3,566.2 L185.1,566.2 L185.9,566.2 L186.7,566.1 L187.5,566.1 L188.3,566.1 L189.1,566.0 L189.9,566.0 L190.7,566.0 L191.5,566.0 L192.3,565.9 L193.1,565.9 L193.9,565.9 L194.7,565.9 L195.6,565.9 L196.4,565.8 L197.2,565.8 L198.0,565.8 L198.8,565.8 L199.6,565.7 L200.4,565.7 L201.2,565.7 L202.0,565.7 L202.8,565.7 L203.6,565.6 L204.4,565.6 L205.2,565.6 L206.0,565.6 L206.8,565.6 L207.6,565.5 L208.4,565.5 L209.2,565.5 L210.0,565.5 L210.8,565.5 L211.6,565.4 L212.4,565.4 L213.2,565.4 L214.0,565.4 L214.8,565.3 L215.6,565.3 L216.4,565.3 L217.2,565.3 L218.0,565.3 L218.8,565.2 L219.6,565.2 L220.4,565.2 L221.2,565.2 L222.0,565.1 L222.8,565.1 L223.6,565.1 L224.4,565.1 L225.2,565.0 L226.0,565.0 L226.8,565.0 L227.6,565.0 L228.4,564.9 L229.2,564.9 L230.0,564.9 L230.8,564.9 L231.6,564.8 L232.4,564.8 L233.2,564.8 L234.0,564.8 L234.8,564.7 L235.6,564.7 L236.4,564.7 L237.2,564.7 L238.0,564.6 L238.8,564.6 L239.6,564.6 L240.4,564.6 L241.2,564.5 L242.0,564.5 L242.8,564.5 L243.6,564.5 L244.4,564.4 L245.2,564.4 L246.0,564.4 L246.8,564.4 L247.6,564.4 L248.4,564.3 L249.2,564.3 L250.0,564.3 L250.8,564.3 L251.6,564.3 L252.4,564.2 L253.2,564.2 L254.0,564.2 L254.8,564.2 L255.6,564.1 L256.4,564.1 L257.2,564.1 L258.0,564.1 L258.8,564.1 L259.6,564.0 L260.4,564.0 L261.2,564.0 L262.0,564.0 L262.8,564.0 L263.6,563.9 L264.4,563.9 L265.2,563.9 L266.0,563.9 L266.8,563.9 L267.6,563.8 L268.4,563.8 L269.2,563.8 L270.0,563.8 L270.8,563.8 L271.6,563.7 L272.4,563.7 L273.2,563.7 L274.0,563.7 L274.8,563.7 L275.6,563.6 L276.4,563.6 L277.2,563.6 L278.0,563.6 L278.8,563.6 L279.6,563.6 L280.4,563.5 L281.2,563.5 L282.0,563.5 L282.8,563.5 L283.6,563.5 L284.4,563.4 L285.2,563.4 L286.0,563.4 L286.8,563.4 L287.6,563.4 L288.4,563.4 L289.2,563.3 L290.0,563.3 L290.8,563.3 L291.6,563.3 L292.4,563.3 L293.2,563.3 L294.0,563.2 L294.8,563.2 L295.6,563.2 L296.4,563.2 L297.2,563.2 L298.0,563.2 L298.9,563.1 L299.8,563.1 L300.7,563.1 L301.6,563.1" fill="none" stroke="#dd666c" stroke-width="1.4"/>
<path d="M116.6,579.6 L117.3,579.2 L117.8,578.9 L118.4,578.5 L119.0,578.1 L119.6,577.6 L120.3,577.1 L120.9,576.6 L121.5,576.1 L122.1,575.6 L122.7,575.1 L123.3,574.6 L123.9,574.0 L124.5,573.5 L125.1,572.9 L125.6,572.3 L126.2,571.8 L126.8,571.2 L127.3,570.6 L127.9,570.0 L128.4,569.4 L128.9,568.8 L129.4,568.2 L129.9,567.6 L130.4,566.9 L130.9,566.3 L131.4,565.6 L131.8,565.0 L132.3,564.3 L132.8,563.7 L133.2,563.0 L133.7,562.4 L134.1,561.7 L134.5,561.0 L135.0,560.3 L135.4,559.7 L135.8,559.0 L136.2,558.3 L136.6,557.6 L137.0,556.9 L137.4,556.2 L137.8,555.5 L138.2,554.8 L138.5,554.1 L138.9,553.3 L139.3,552.6 L139.6,551.9 L140.0,551.2 L140.3,550.5 L140.7,549.7 L141.0,549.0 L141.4,548.3 L141.7,547.6 L142.0,546.8 L142.4,546.1 L142.7,545.4 L143.0,544.6 L143.3,543.9 L143.6,543.2 L144.0,542.4 L144.3,541.7 L144.6,540.9 L144.9,540.2 L145.2,539.4 L145.4,538.7 L145.7,537.9 L146.0,537.2 L146.3,536.4 L146.5,535.7 L146.8,534.9 L147.1,534.2 L147.3,533.4 L147.6,532.7 L147.9,531.9 L148.1,531.1 L148.4,530.4 L148.6,529.6 L148.9,528.9 L149.2,528.1 L149.4,527.3 L149.7,526.6 L150.0,525.8 L150.2,525.1 L150.5,524.3 L150.8,523.6 L151.1,522.8 L151.3,522.1 L151.6,521.3 L151.9,520.6 L152.2,519.8 L152.4,519.0 L152.7,518.3 L153.0,517.5 L153.3,516.8 L153.5,516.0 L153.8,515.3 L154.1,514.5 L154.4,513.8 L154.6,513.0 L154.9,512.3 L155.2,511.5 L155.5,510.8 L155.8,510.0 L156.0,509.3 L156.3,508.5 L156.6,507.7 L156.9,507.0 L157.1,506.2 L157.4,505.5 L157.7,504.7 L157.9,504.0 L158.2,503.2 L158.5,502.5 L158.7,501.7 L159.0,500.9 L159.3,500.2 L159.5,499.4 L159.8,498.7 L160.0,497.9 L160.3,497.2 L160.6,496.4 L160.8,495.6 L161.1,494.9 L161.4,494.1 L161.6,493.4 L161.9,492.6 L162.2,491.9 L162.5,491.1 L162.8,490.4 L163.1,489.6 L163.4,488.9 L163.7,488.1 L164.0,487.4 L164.3,486.6 L164.6,485.9 L164.9,485.2 L165.2,484.4 L165.5,483.7 L165.9,483.0 L166.2,482.2 L166.5,481.5 L166.8,480.8 L167.1,480.0 L167.5,479.3 L167.8,478.6 L168.1,477.8 L168.5,477.1 L168.8,476.4 L169.2,475.7 L169.6,474.9 L169.9,474.2 L170.3,473.5 L170.7,472.8 L171.1,472.2 L171.6,471.5 L172.0,470.8 L172.5,470.2 L173.0,469.6 L173.5,469.0 L174.1,468.4 L174.6,467.8 L175.2,467.2 L175.8,466.6 L176.3,466.1 L176.9,465.5 L177.5,465.0 L178.1,464.5 L178.8,464.0 L179.4,463.5 L180.0,463.0 L180.7,462.5 L181.4,462.1 L182.0,461.7 L182.7,461.3 L183.4,460.9 L184.1,460.5 L184.9,460.2 L185.6,459.8 L186.3,459.5 L187.1,459.2 L187.8,458.9 L188.6,458.7 L189.3,458.4 L190.1,458.1 L190.9,457.9 L191.6,457.6 L192.4,457.4 L193.1,457.2 L193.9,456.9 L194.7,456.7 L195.5,456.5 L196.2,456.3 L197.0,456.1 L197.8,455.9 L198.6,455.8 L199.4,455.6 L200.2,455.4 L200.9,455.2 L201.7,455.1 L202.5,454.9 L203.3,454.8 L204.1,454.6 L204.9,454.5 L205.7,454.3 L206.5,454.2 L207.2,454.0 L208.0,453.9 L208.8,453.8 L209.6,453.7 L210.4,453.5 L211.2,453.4 L212.0,453.3 L212.8,453.2 L213.6,453.1 L214.4,453.0 L215.2,452.9 L216.0,452.8 L216.8,452.7 L217.6,452.6 L218.4,452.5 L219.2,452.4 L220.0,452.3 L220.8,452.2 L221.6,452.2 L222.4,452.1 L223.2,452.0 L224.0,451.9 L224.8,451.9 L225.6,451.8 L226.4,451.7 L227.2,451.7 L228.0,451.6 L228.8,451.5 L229.6,451.5 L230.4,451.4 L231.2,451.3 L232.0,451.3 L232.8,451.2 L233.6,451.2 L234.4,451.1 L235.2,451.1 L236.0,451.0 L236.8,451.0 L237.6,450.9 L238.4,450.9 L239.2,450.8 L240.0,450.7 L240.8,450.7 L241.6,450.6 L242.4,450.6 L243.2,450.5 L244.0,450.5 L244.8,450.4 L245.6,450.4 L246.4,450.4 L247.2,450.3 L248.0,450.3 L248.8,450.2 L249.6,450.2 L250.4,450.1 L251.2,450.1 L252.0,450.0 L252.8,450.0 L253.6,449.9 L254.4,449.9 L255.2,449.9 L256.0,449.8 L256.8,449.8 L257.6,449.7 L258.4,449.7 L259.2,449.7 L260.0,449.6 L260.8,449.6 L261.6,449.5 L262.4,449.5 L263.2,449.5 L264.0,449.4 L264.8,449.4 L265.6,449.4 L266.4,449.3 L267.3,449.3 L268.2,449.3 L269.1,449.2 L270.0,449.2" fill="none" stroke="#3f90d2" stroke-width="1.4" stroke-dasharray="4.4,2.4"/>
<path d="M37.5,625.3 L37.7,624.6 L37.8,623.9 L38.0,623.3 L38.2,622.6 L38.4,621.8 L38.6,621.0 L38.8,620.2 L39.0,619.5 L39.2,618.7 L39.4,617.9 L39.6,617.2 L39.8,616.4 L40.0,615.6 L40.3,614.8 L40.5,614.1 L40.8,613.3 L41.0,612.6 L41.3,611.8 L41.5,611.0 L41.8,610.3 L42.1,609.6 L42.4,608.8 L42.8,608.1 L43.1,607.4 L43.4,606.6 L43.8,605.9 L44.2,605.2 L44.5,604.5 L44.9,603.8 L45.3,603.1 L45.7,602.4 L46.1,601.7 L46.5,601.0 L46.9,600.3 L47.4,599.7 L47.9,599.0 L48.3,598.4 L48.8,597.7 L49.3,597.1 L49.9,596.5 L50.4,595.9 L51.0,595.3 L51.5,594.8 L52.1,594.2 L52.6,593.6 L53.2,593.1 L53.8,592.5 L54.4,592.0 L55.0,591.5 L55.6,590.9 L56.2,590.4 L56.9,590.0 L57.5,589.5 L58.2,589.1 L58.9,588.6 L59.6,588.3 L60.3,587.9 L61.0,587.6 L61.8,587.3 L62.5,587.0 L63.3,586.8 L64.0,586.5 L64.8,586.3 L65.6,586.1 L66.4,585.9 L67.1,585.7 L67.9,585.5 L68.7,585.3 L69.5,585.2 L70.3,585.0 L71.1,584.9 L71.9,584.7 L72.6,584.6 L73.4,584.4 L74.2,584.3 L75.0,584.1 L75.8,584.0 L76.6,583.9 L77.4,583.7 L78.2,583.6 L79.0,583.5 L79.7,583.4 L80.5,583.2 L81.3,583.1 L82.1,583.0 L82.9,582.9 L83.7,582.8 L84.5,582.7 L85.3,582.6 L86.1,582.5 L86.9,582.5 L87.7,582.4 L88.5,582.3 L89.3,582.2 L90.1,582.2 L90.9,582.1 L91.7,582.0 L92.5,581.9 L93.3,581.9 L94.1,581.8 L94.9,581.7 L95.7,581.7 L96.5,581.6 L97.3,581.5 L98.1,581.5 L98.9,581.4 L99.7,581.3 L100.5,581.3 L101.3,581.2 L102.1,581.1 L102.9,581.0 L103.7,581.0 L104.5,580.9 L105.3,580.8 L106.1,580.8 L106.9,580.7 L107.7,580.6 L108.5,580.6 L109.3,580.5 L110.1,580.4 L110.9,580.3 L111.6,580.3 L112.4,580.2 L113.2,580.1 L114.0,580.0 L114.8,579.9 L115.6,579.8 L116.4,579.7 L117.2,579.6 L118.0,579.5 L118.8,579.4 L119.6,579.3 L120.4,579.2 L121.2,579.1 L122.0,579.0 L122.8,578.8 L123.6,578.7 L124.4,578.6 L125.1,578.4 L125.9,578.3 L126.7,578.1 L127.5,578.0 L128.3,577.8 L129.1,577.6 L129.8,577.4 L130.6,577.3 L131.4,577.1 L132.2,576.9 L133.0,576.7 L133.7,576.5 L134.5,576.2 L135.3,576.0 L136.0,575.8 L136.8,575.5 L137.5,575.2 L138.3,574.9 L139.0,574.6 L139.8,574.3 L140.5,574.0 L141.2,573.6 L141.9,573.3 L142.6,572.9 L143.3,572.5 L144.0,572.1 L144.7,571.6 L145.4,571.2 L146.0,570.8 L146.7,570.3 L147.3,569.8 L148.0,569.4 L148.6,568.8 L149.2,568.3 L149.8,567.8 L150.3,567.2 L150.9,566.6 L151.4,566.0 L151.9,565.4 L152.4,564.7 L152.9,564.1 L153.3,563.4 L153.8,562.8 L154.2,562.1 L154.6,561.4 L155.0,560.7 L155.4,560.0 L155.8,559.3 L156.1,558.6 L156.5,557.9 L156.8,557.1 L157.1,556.4 L157.4,555.6 L157.7,554.9 L158.0,554.2 L158.3,553.4 L158.6,552.7 L158.8,551.9 L159.1,551.2 L159.4,550.4 L159.7,549.6 L159.9,548.9 L160.2,548.1 L160.4,547.4 L160.7,546.6 L160.9,545.8 L161.2,545.1 L161.4,544.3 L161.6,543.5 L161.8,542.8 L162.0,542.0 L162.2,541.2 L162.4,540.4 L162.6,539.7 L162.8,538.9 L163.0,538.1 L163.1,537.3 L163.3,536.5 L163.4,535.7 L163.6,534.9 L163.7,534.2 L163.8,533.4 L163.9,532.6 L164.0,531.8 L164.1,531.0 L164.3,530.2 L164.4,529.4 L164.5,528.6 L164.6,527.8 L164.7,527.0 L164.8,526.2 L164.9,525.4 L165.0,524.6 L165.1,523.8 L165.2,523.0 L165.3,522.2 L165.4,521.5 L165.5,520.7 L165.7,519.9 L165.8,519.1 L165.9,518.3 L166.0,517.5 L166.2,516.7 L166.3,515.9 L166.4,515.1 L166.6,514.3 L166.7,513.5 L166.8,512.8 L167.0,512.0 L167.1,511.2 L167.2,510.4 L167.4,509.6 L167.5,508.8 L167.7,508.0 L167.8,507.2 L167.9,506.4 L168.1,505.7 L168.2,504.9 L168.4,504.1 L168.6,503.3 L168.7,502.5 L168.9,501.7 L169.1,500.9 L169.3,500.2 L169.5,499.4 L169.7,498.6 L169.9,497.8 L170.1,497.1 L170.3,496.3 L170.5,495.5 L170.7,494.7 L170.9,494.0 L171.2,493.2 L171.4,492.4 L171.6,491.7 L171.9,490.9 L172.1,490.2 L172.4,489.4 L172.6,488.6 L172.9,487.9 L173.2,487.1 L173.5,486.4 L173.8,485.6 L174.1,484.9 L174.4,484.2 L174.8,483.4 L175.1,482.7 L175.4,482.0 L175.8,481.3 L176.2,480.6 L176.5,479.9 L176.9,479.1 L177.3,478.4 L177.7,477.8 L178.1,477.1 L178.5,476.4 L179.0,475.7 L179.4,475.0 L179.9,474.4 L180.4,473.8 L180.9,473.1 L181.4,472.5 L181.9,472.0 L182.5,471.4 L183.1,470.8 L183.7,470.3 L184.3,469.8 L184.9,469.3 L185.5,468.8 L186.2,468.3 L186.8,467.8 L187.5,467.4 L188.1,466.9 L188.8,466.5 L189.5,466.0 L190.2,465.6 L190.9,465.2 L191.5,464.8 L192.2,464.4 L192.9,464.0 L193.6,463.5 L194.3,463.1 L195.0,462.7 L195.7,462.3 L196.4,462.0 L197.1,461.6 L197.8,461.2 L198.5,460.8 L199.2,460.5 L199.9,460.1 L200.7,459.7 L201.4,459.4 L202.1,459.1 L202.8,458.8 L203.6,458.4 L204.3,458.2 L205.1,457.9 L205.8,457.6 L206.6,457.3 L207.4,457.1 L208.1,456.8 L208.9,456.6 L209.6,456.4 L210.4,456.1 L211.2,455.9 L212.0,455.7 L212.7,455.5 L213.5,455.3 L214.3,455.1 L215.1,454.9 L215.8,454.7 L216.6,454.5 L217.4,454.3 L218.2,454.2 L219.0,454.0 L219.7,453.8 L220.5,453.7 L221.3,453.5 L222.1,453.4 L222.9,453.2 L223.7,453.1 L224.5,453.0 L225.3,452.8 L226.1,452.7 L226.8,452.6 L227.6,452.5 L228.4,452.3 L229.2,452.2 L230.0,452.1 L230.8,452.0 L231.6,451.9 L232.4,451.8 L233.2,451.7 L234.0,451.6 L234.8,451.5 L235.6,451.4 L236.4,451.3 L237.2,451.2 L238.0,451.1 L238.8,451.0 L239.6,450.9 L240.4,450.9 L241.2,450.8 L242.0,450.7 L242.8,450.7 L243.6,450.6 L244.4,450.5 L245.1,450.5 L245.9,450.4 L246.7,450.3 L247.5,450.3 L248.3,450.2 L249.1,450.1 L249.9,450.1 L250.7,450.0 L251.5,450.0 L252.3,449.9 L253.1,449.9 L253.9,449.8 L254.7,449.7 L255.5,449.7 L256.3,449.6 L257.1,449.6 L257.9,449.5 L258.7,449.5 L259.5,449.4 L260.3,449.4 L261.1,449.4 L261.9,449.3 L262.7,449.3 L263.5,449.3 L264.3,449.2 L265.1,449.2 L265.9,449.2 L266.7,449.2 L267.5,449.1 L268.3,449.1 L269.1,449.1 L269.9,449.1 L270.7,449.1 L271.6,449.1 L272.4,449.1 L273.2,449.1 L274.0,449.1 L274.8,449.1 L275.6,449.1 L276.4,449.1 L277.2,449.1 L278.0,449.1 L278.8,449.1 L279.6,449.0 L280.4,449.0 L281.2,449.0 L282.0,449.0 L282.8,449.0 L283.6,449.0 L284.4,449.0 L285.2,449.0 L286.0,449.0 L286.8,449.0 L287.6,449.0 L288.4,449.0 L289.2,449.0 L290.0,449.0 L290.8,449.0 L291.6,449.0 L292.4,449.0 L293.2,449.0 L294.0,449.0 L294.8,449.0 L295.6,449.0 L296.4,449.0 L297.2,449.0 L298.0,449.0 L298.9,449.0 L299.8,449.0 L300.7,449.0 L301.6,449.0" fill="none" stroke="#3f90d2" stroke-width="1.4"/>
<rect x="301.6" y="441.5" width="17.8" height="15.9" fill="#fff" stroke="#3f90d2" stroke-width="0.75"/>
<text x="310.5" y="452.84999999999997" font-size="9.4" fill="#333" text-anchor="middle" font-weight="normal">IV</text>
<rect x="301.6" y="460.6" width="17.8" height="16.8" fill="#fff" stroke="#f59b50" stroke-width="0.75"/>
<text x="310.5" y="472.4" font-size="9.4" fill="#333" text-anchor="middle" font-weight="normal">II</text>
<rect x="301.6" y="485.5" width="17.8" height="16.2" fill="#fff" stroke="#5b6e92" stroke-width="0.75"/>
<text x="310.5" y="497.0" font-size="9.4" fill="#333" text-anchor="middle" font-weight="normal">V</text>
<rect x="301.6" y="522.9" width="17.8" height="16.2" fill="#fff" stroke="#1d2c4c" stroke-width="0.75"/>
<text x="310.5" y="534.4" font-size="9.4" fill="#333" text-anchor="middle" font-weight="normal">III</text>
<rect x="301.6" y="555.4" width="17.8" height="16.5" fill="#fff" stroke="#dd666c" stroke-width="0.75"/>
<text x="310.5" y="567.05" font-size="9.4" fill="#333" text-anchor="middle" font-weight="normal">I</text>
<text x="67.2" y="496.3" font-size="8.6" fill="#3a3a3a" text-anchor="start" font-weight="normal" textLength="65.8" lengthAdjust="spacingAndGlyphs">Desorption cycle</text>
<path d="M130.8,499.3 C131.5,509 136,522 148.6,526 M130.8,499.3 C134,511 150,518.5 188.6,520.3" fill="none" stroke="#444" stroke-width="0.6"/>
<text x="42.7" y="564.8" font-size="8.6" fill="#3a3a3a" text-anchor="start" font-weight="normal" textLength="61.3" lengthAdjust="spacingAndGlyphs">Strongly bound</text>
<text x="42.7" y="574.5" font-size="8.6" fill="#3a3a3a" text-anchor="start" font-weight="normal" textLength="41.6" lengthAdjust="spacingAndGlyphs">monolayer</text>
<path d="M45.9,577.4 C46.5,584 52,588 59.6,589.7 M45.9,577.4 C47,591 72,597.6 102.2,597.3" fill="none" stroke="#444" stroke-width="0.6"/>
<text x="350.8" y="436.6" font-size="12.6" fill="#111" text-anchor="start" font-weight="bold" stroke="#111" stroke-width="0.35">g</text>
<line x1="372.9" y1="429" x2="372.9" y2="625.2" stroke="#b3b3b3" stroke-width="1"/>
<line x1="372.9" y1="625.1" x2="673.5" y2="625.1" stroke="#b3b3b3" stroke-width="1"/>
<text transform="translate(366.2,527.3) rotate(-90)" font-size="8.6" fill="#3a3a3a" text-anchor="middle" textLength="91.2" lengthAdjust="spacingAndGlyphs">Moisture content (g g<tspan font-size="5.6" dy="-3">−1</tspan><tspan dy="3">)</tspan></text>
<text x="514.6" y="638.6" font-size="8.6" fill="#3a3a3a" text-anchor="start" font-weight="normal" textLength="18.4" lengthAdjust="spacingAndGlyphs">Time</text>
<path d="M442.0,544.7 L442.1,545.4 L442.2,546.1 L442.4,546.8 L442.5,547.5 L442.6,548.3 L442.7,549.1 L442.8,549.9 L442.9,550.7 L443.0,551.5 L443.1,552.3 L443.2,553.1 L443.3,553.9 L443.4,554.7 L443.5,555.5 L443.6,556.3 L443.7,557.1 L443.8,557.9 L443.9,558.7 L443.9,559.5 L444.0,560.3 L444.1,561.1 L444.2,561.9 L444.3,562.7 L444.4,563.5 L444.4,564.3 L444.5,565.1 L444.6,565.9 L444.6,566.7 L444.7,567.5 L444.8,568.3 L444.8,569.1 L444.9,569.9 L444.9,570.7 L445.0,571.5 L445.1,572.3 L445.1,573.1 L445.2,574.0 L445.2,574.8 L445.3,575.6 L445.4,576.4 L445.4,577.2 L445.5,578.0 L445.6,578.8 L445.6,579.6 L445.7,580.4 L445.7,581.2 L445.8,582.0 L445.9,582.8 L446.0,583.6 L446.0,584.4 L446.1,585.2 L446.2,586.0 L446.3,586.8 L446.3,587.6 L446.4,588.4 L446.5,589.2 L446.5,590.0 L446.6,590.8 L446.7,591.6 L446.8,592.4 L446.8,593.2 L446.9,594.0 L447.0,594.8 L447.1,595.6 L447.1,596.4 L447.2,597.3 L447.3,598.1 L447.4,598.9 L447.5,599.7 L447.6,600.5 L447.7,601.3 L447.8,602.1 L448.0,602.8 L448.2,603.6 L448.4,604.4 L448.6,605.2 L448.8,605.9 L449.1,606.7 L449.4,607.5 L449.7,608.2 L450.0,609.0 L450.3,609.7 L450.6,610.5 L450.9,611.2 L451.3,611.9 L451.7,612.6 L452.2,613.3 L452.6,613.9 L453.1,614.6 L453.6,615.2 L454.2,615.8 L454.8,616.3 L455.4,616.8 L456.0,617.3 L456.6,617.8 L457.3,618.3 L457.9,618.8 L458.6,619.3 L459.2,619.7 L459.9,620.2 L460.6,620.6 L461.3,621.1 L462.0,621.5 L462.7,621.9 L463.4,622.2 L464.1,622.6 L464.9,622.9 L465.6,623.2 L466.4,623.5 L467.1,623.7 L467.9,623.9 L468.8,624.1 L469.7,624.3 L470.6,624.4 L471.5,624.4" fill="none" stroke="#f59b50" stroke-width="1.6" stroke-dasharray="2.5,2.2"/>
<path d="M538.9,544.7 L539.0,545.4 L539.1,546.1 L539.3,546.8 L539.4,547.5 L539.5,548.3 L539.6,549.1 L539.7,549.9 L539.8,550.7 L539.9,551.5 L540.0,552.3 L540.1,553.1 L540.2,553.9 L540.3,554.7 L540.4,555.5 L540.5,556.3 L540.6,557.1 L540.7,557.9 L540.8,558.7 L540.8,559.5 L540.9,560.3 L541.0,561.1 L541.1,561.9 L541.2,562.7 L541.3,563.5 L541.3,564.3 L541.4,565.1 L541.5,565.9 L541.5,566.7 L541.6,567.5 L541.7,568.3 L541.7,569.1 L541.8,569.9 L541.8,570.7 L541.9,571.5 L542.0,572.3 L542.0,573.1 L542.1,574.0 L542.1,574.8 L542.2,575.6 L542.3,576.4 L542.3,577.2 L542.4,578.0 L542.5,578.8 L542.5,579.6 L542.6,580.4 L542.6,581.2 L542.7,582.0 L542.8,582.8 L542.9,583.6 L542.9,584.4 L543.0,585.2 L543.1,586.0 L543.2,586.8 L543.2,587.6 L543.3,588.4 L543.4,589.2 L543.4,590.0 L543.5,590.8 L543.6,591.6 L543.7,592.4 L543.7,593.2 L543.8,594.0 L543.9,594.8 L544.0,595.6 L544.0,596.4 L544.1,597.3 L544.2,598.1 L544.3,598.9 L544.4,599.7 L544.5,600.5 L544.6,601.3 L544.7,602.1 L544.9,602.8 L545.1,603.6 L545.3,604.4 L545.5,605.2 L545.7,605.9 L546.0,606.7 L546.3,607.5 L546.6,608.2 L546.9,609.0 L547.2,609.7 L547.5,610.5 L547.8,611.2 L548.2,611.9 L548.6,612.6 L549.1,613.3 L549.5,613.9 L550.0,614.6 L550.5,615.2 L551.1,615.8 L551.7,616.3 L552.3,616.8 L552.9,617.3 L553.5,617.8 L554.2,618.3 L554.8,618.8 L555.5,619.3 L556.1,619.7 L556.8,620.2 L557.5,620.6 L558.2,621.1 L558.9,621.5 L559.6,621.9 L560.3,622.2 L561.0,622.6 L561.8,622.9 L562.5,623.2 L563.3,623.5 L564.0,623.7 L564.8,623.9 L565.7,624.1 L566.6,624.3 L567.5,624.4 L568.4,624.4" fill="none" stroke="#f59b50" stroke-width="1.6" stroke-dasharray="2.5,2.2"/>
<path d="M635.8,544.7 L635.9,545.4 L636.0,546.1 L636.2,546.8 L636.3,547.5 L636.4,548.3 L636.5,549.1 L636.6,549.9 L636.7,550.7 L636.8,551.5 L636.9,552.3 L637.0,553.1 L637.1,553.9 L637.2,554.7 L637.3,555.5 L637.4,556.3 L637.5,557.1 L637.6,557.9 L637.7,558.7 L637.7,559.5 L637.8,560.3 L637.9,561.1 L638.0,561.9 L638.1,562.7 L638.2,563.5 L638.2,564.3 L638.3,565.1 L638.4,565.9 L638.4,566.7 L638.5,567.5 L638.6,568.3 L638.6,569.1 L638.7,569.9 L638.7,570.7 L638.8,571.5 L638.9,572.3 L638.9,573.1 L639.0,574.0 L639.0,574.8 L639.1,575.6 L639.2,576.4 L639.2,577.2 L639.3,578.0 L639.4,578.8 L639.4,579.6 L639.5,580.4 L639.5,581.2 L639.6,582.0 L639.7,582.8 L639.8,583.6 L639.8,584.4 L639.9,585.2 L640.0,586.0 L640.1,586.8 L640.1,587.6 L640.2,588.4 L640.3,589.2 L640.3,590.0 L640.4,590.8 L640.5,591.6 L640.6,592.4 L640.6,593.2 L640.7,594.0 L640.8,594.8 L640.9,595.6 L640.9,596.4 L641.0,597.3 L641.1,598.1 L641.2,598.9 L641.3,599.7 L641.4,600.5 L641.5,601.3 L641.6,602.1 L641.8,602.8 L642.0,603.6 L642.2,604.4 L642.4,605.2 L642.6,605.9 L642.9,606.7 L643.2,607.5 L643.5,608.2 L643.8,609.0 L644.1,609.7 L644.4,610.5 L644.7,611.2 L645.1,611.9 L645.5,612.6 L646.0,613.3 L646.4,613.9 L646.9,614.6 L647.4,615.2 L648.0,615.8 L648.6,616.3 L649.2,616.8 L649.8,617.3 L650.4,617.8 L651.1,618.3 L651.7,618.8 L652.4,619.3 L653.0,619.7 L653.7,620.2 L654.4,620.6 L655.1,621.1 L655.8,621.5 L656.5,621.9 L657.2,622.2 L657.9,622.6 L658.7,622.9 L659.4,623.2 L660.2,623.5 L660.9,623.7 L661.7,623.9 L662.6,624.1 L663.5,624.3 L664.4,624.4 L665.3,624.4" fill="none" stroke="#f59b50" stroke-width="1.6" stroke-dasharray="2.5,2.2"/>
<path d="M567.5,441.8 L567.8,442.5 L568.1,443.1 L568.4,443.7 L568.7,444.3 L569.0,445.1 L569.4,445.8 L569.7,446.5 L570.1,447.2 L570.4,448.0 L570.7,448.7 L571.1,449.4 L571.4,450.1 L571.8,450.9 L572.1,451.6 L572.5,452.3 L572.8,453.0 L573.1,453.7 L573.5,454.5 L573.8,455.2 L574.2,455.9 L574.5,456.6 L574.9,457.4 L575.2,458.1 L575.6,458.8 L575.9,459.5 L576.3,460.2 L576.6,461.0 L577.0,461.7 L577.3,462.4 L577.7,463.1 L578.0,463.8 L578.4,464.6 L578.7,465.3 L579.1,466.0 L579.4,466.7 L579.8,467.4 L580.1,468.2 L580.5,468.9 L580.8,469.6 L581.2,470.3 L581.5,471.0 L581.9,471.8 L582.2,472.5 L582.6,473.2 L583.0,473.9 L583.3,474.6 L583.7,475.3 L584.0,476.1 L584.4,476.8 L584.7,477.5 L585.1,478.2 L585.5,478.9 L585.8,479.6 L586.2,480.4 L586.6,481.1 L586.9,481.8 L587.3,482.5 L587.6,483.2 L588.0,483.9 L588.4,484.6 L588.7,485.3 L589.1,486.1 L589.5,486.8 L589.8,487.5 L590.2,488.2 L590.6,488.9 L590.9,489.6 L591.3,490.3 L591.7,491.0 L592.0,491.8 L592.4,492.5 L592.8,493.2 L593.2,493.9 L593.5,494.6 L593.9,495.3 L594.3,496.0 L594.6,496.7 L595.0,497.4 L595.4,498.1 L595.8,498.9 L596.1,499.6 L596.5,500.3 L596.9,501.0 L597.2,501.7 L597.6,502.4 L598.0,503.1 L598.4,503.8 L598.7,504.5 L599.1,505.2 L599.5,505.9 L599.9,506.6 L600.2,507.4 L600.6,508.1 L601.0,508.8 L601.4,509.5 L601.7,510.2 L602.1,510.9 L602.5,511.6 L602.9,512.3 L603.2,513.0 L603.6,513.7 L604.0,514.4 L604.4,515.1 L604.7,515.8 L605.1,516.6 L605.5,517.3 L605.9,518.0 L606.2,518.7 L606.6,519.4 L607.0,520.1 L607.4,520.8 L607.7,521.5 L608.1,522.2 L608.5,522.9 L608.9,523.6 L609.2,524.3 L609.6,525.1 L610.0,525.8 L610.3,526.5 L610.7,527.2 L611.1,527.9 L611.5,528.6 L611.8,529.3 L612.2,530.0 L612.6,530.7 L612.9,531.4 L613.3,532.1 L613.7,532.9 L614.1,533.6 L614.4,534.3 L614.8,535.0 L615.2,535.7 L615.5,536.4 L615.9,537.1 L616.3,537.8 L616.6,538.5 L617.0,539.3 L617.4,540.0 L617.8,540.7 L618.1,541.4 L618.5,542.1 L618.9,542.8 L619.3,543.5 L619.6,544.2 L620.0,544.9 L620.4,545.6 L620.8,546.3 L621.1,547.0 L621.5,547.7 L621.9,548.4 L622.3,549.1 L622.7,549.8 L623.1,550.6 L623.4,551.3 L623.8,552.0 L624.2,552.7 L624.6,553.4 L625.0,554.1 L625.4,554.8 L625.7,555.5 L626.1,556.2 L626.5,556.9 L626.9,557.6 L627.3,558.3 L627.7,559.0 L628.1,559.7 L628.5,560.4 L628.8,561.1 L629.2,561.8 L629.6,562.5 L630.0,563.2 L630.4,563.9 L630.8,564.6 L631.2,565.3 L631.6,566.0 L632.0,566.7 L632.4,567.4 L632.8,568.1 L633.2,568.8 L633.6,569.4 L634.0,570.1 L634.4,570.8 L634.8,571.5 L635.2,572.2 L635.6,572.9 L636.0,573.6 L636.4,574.3 L636.8,575.0 L637.2,575.7 L637.6,576.4 L638.0,577.1 L638.4,577.8 L638.8,578.5 L639.2,579.2 L639.6,579.9 L640.0,580.5 L640.4,581.2 L640.8,581.9 L641.2,582.6 L641.6,583.3 L642.0,584.0 L642.4,584.7 L642.8,585.4 L643.2,586.1 L643.6,586.7 L644.1,587.4 L644.5,588.1 L644.9,588.8 L645.3,589.5 L645.7,590.2 L646.1,590.9 L646.6,591.5 L647.0,592.2 L647.4,592.9 L647.8,593.6 L648.3,594.3 L648.7,594.9 L649.1,595.6 L649.5,596.3 L650.0,597.0 L650.4,597.6 L650.8,598.3 L651.3,599.0 L651.7,599.6 L652.2,600.3 L652.6,601.0 L653.1,601.6 L653.5,602.3 L654.0,603.0 L654.4,603.6 L654.9,604.3 L655.3,604.9 L655.8,605.6 L656.3,606.2 L656.7,606.9 L657.2,607.5 L657.7,608.2 L658.1,608.8 L658.6,609.5 L659.1,610.1 L659.6,610.7 L660.1,611.4 L660.6,612.0 L661.1,612.6 L661.7,613.2 L662.2,613.8 L662.8,614.4 L663.3,614.9 L663.9,615.5 L664.5,616.0 L665.1,616.6 L665.7,617.1 L666.3,617.6 L666.9,618.1 L667.5,618.7 L668.1,619.2 L668.7,619.7 L669.3,620.2 L670.0,620.7 L670.6,621.2 L671.2,621.7 L671.9,622.3 L672.6,622.9 L673.3,623.4 L674.0,624.0" fill="none" stroke="#f59b50" stroke-width="1.6" stroke-dasharray="2.5,2.2"/>
<path d="M373.7,624.6 L373.8,623.8 L373.8,623.2 L373.9,622.5 L374.0,621.8 L374.1,621.0 L374.1,620.2 L374.2,619.4 L374.3,618.6 L374.4,617.8 L374.5,617.0 L374.5,616.2 L374.6,615.4 L374.7,614.6 L374.8,613.8 L374.9,613.0 L375.0,612.2 L375.1,611.4 L375.2,610.6 L375.3,609.8 L375.4,609.0 L375.5,608.2 L375.6,607.4 L375.7,606.6 L375.8,605.8 L375.9,605.0 L376.0,604.2 L376.1,603.4 L376.2,602.6 L376.3,601.8 L376.4,601.0 L376.5,600.2 L376.7,599.4 L376.8,598.6 L376.9,597.8 L377.0,597.0 L377.2,596.2 L377.3,595.5 L377.4,594.7 L377.6,593.9 L377.7,593.1 L377.9,592.3 L378.1,591.5 L378.2,590.7 L378.4,589.9 L378.6,589.1 L378.8,588.4 L379.0,587.6 L379.1,586.8 L379.3,586.0 L379.5,585.2 L379.7,584.5 L379.9,583.7 L380.1,582.9 L380.4,582.1 L380.6,581.3 L380.8,580.6 L381.0,579.8 L381.2,579.0 L381.5,578.3 L381.7,577.5 L382.0,576.7 L382.2,576.0 L382.5,575.2 L382.8,574.4 L383.1,573.7 L383.4,572.9 L383.7,572.2 L384.0,571.5 L384.3,570.7 L384.7,570.0 L385.0,569.3 L385.4,568.6 L385.8,567.9 L386.2,567.2 L386.6,566.5 L387.0,565.8 L387.4,565.1 L387.9,564.4 L388.3,563.7 L388.8,563.1 L389.2,562.4 L389.7,561.8 L390.2,561.2 L390.7,560.6 L391.3,560.0 L391.8,559.4 L392.4,558.8 L393.0,558.3 L393.6,557.7 L394.2,557.2 L394.8,556.7 L395.4,556.1 L396.1,555.7 L396.7,555.2 L397.4,554.7 L398.0,554.2 L398.7,553.8 L399.4,553.4 L400.1,553.0 L400.8,552.6 L401.5,552.3 L402.2,551.9 L403.0,551.6 L403.7,551.3 L404.5,551.0 L405.2,550.7 L406.0,550.4 L406.7,550.2 L407.5,549.9 L408.3,549.7 L409.0,549.4 L409.8,549.2 L410.6,548.9 L411.3,548.7 L412.1,548.5 L412.9,548.3 L413.7,548.1 L414.5,547.9 L415.2,547.7 L416.0,547.5 L416.8,547.4 L417.6,547.2 L418.4,547.1 L419.2,546.9 L420.0,546.8 L420.8,546.7 L421.6,546.6 L422.4,546.5 L423.2,546.4 L424.0,546.2 L424.8,546.1 L425.6,546.0 L426.4,545.9 L427.2,545.8 L428.0,545.7 L428.8,545.6 L429.6,545.5 L430.4,545.4 L431.2,545.3 L432.0,545.3 L432.8,545.2 L433.6,545.1 L434.4,545.0 L435.2,545.0 L436.0,544.9 L436.8,544.9 L437.6,544.8 L438.4,544.8 L439.3,544.7 L440.2,544.7 L441.1,544.7 L442.0,544.7" fill="none" stroke="#3f90d2" stroke-width="1.5"/>
<path d="M470.6,624.6 L470.7,623.8 L470.7,623.2 L470.8,622.5 L470.9,621.8 L471.0,621.0 L471.0,620.2 L471.1,619.4 L471.2,618.6 L471.3,617.8 L471.4,617.0 L471.4,616.2 L471.5,615.4 L471.6,614.6 L471.7,613.8 L471.8,613.0 L471.9,612.2 L472.0,611.4 L472.1,610.6 L472.2,609.8 L472.3,609.0 L472.4,608.2 L472.5,607.4 L472.6,606.6 L472.7,605.8 L472.8,605.0 L472.9,604.2 L473.0,603.4 L473.1,602.6 L473.2,601.8 L473.3,601.0 L473.4,600.2 L473.6,599.4 L473.7,598.6 L473.8,597.8 L473.9,597.0 L474.1,596.2 L474.2,595.5 L474.3,594.7 L474.5,593.9 L474.6,593.1 L474.8,592.3 L475.0,591.5 L475.1,590.7 L475.3,589.9 L475.5,589.1 L475.7,588.4 L475.9,587.6 L476.0,586.8 L476.2,586.0 L476.4,585.2 L476.6,584.5 L476.8,583.7 L477.0,582.9 L477.3,582.1 L477.5,581.3 L477.7,580.6 L477.9,579.8 L478.1,579.0 L478.4,578.3 L478.6,577.5 L478.9,576.7 L479.1,576.0 L479.4,575.2 L479.7,574.4 L480.0,573.7 L480.3,572.9 L480.6,572.2 L480.9,571.5 L481.2,570.7 L481.6,570.0 L481.9,569.3 L482.3,568.6 L482.7,567.9 L483.1,567.2 L483.5,566.5 L483.9,565.8 L484.3,565.1 L484.8,564.4 L485.2,563.7 L485.7,563.1 L486.1,562.4 L486.6,561.8 L487.1,561.2 L487.6,560.6 L488.2,560.0 L488.7,559.4 L489.3,558.8 L489.9,558.3 L490.5,557.7 L491.1,557.2 L491.7,556.7 L492.3,556.1 L493.0,555.7 L493.6,555.2 L494.3,554.7 L494.9,554.2 L495.6,553.8 L496.3,553.4 L497.0,553.0 L497.7,552.6 L498.4,552.3 L499.1,551.9 L499.9,551.6 L500.6,551.3 L501.4,551.0 L502.1,550.7 L502.9,550.4 L503.6,550.2 L504.4,549.9 L505.2,549.7 L505.9,549.4 L506.7,549.2 L507.5,548.9 L508.2,548.7 L509.0,548.5 L509.8,548.3 L510.6,548.1 L511.4,547.9 L512.1,547.7 L512.9,547.5 L513.7,547.4 L514.5,547.2 L515.3,547.1 L516.1,546.9 L516.9,546.8 L517.7,546.7 L518.5,546.6 L519.3,546.5 L520.1,546.4 L520.9,546.2 L521.7,546.1 L522.5,546.0 L523.3,545.9 L524.1,545.8 L524.9,545.7 L525.7,545.6 L526.5,545.5 L527.3,545.4 L528.1,545.3 L528.9,545.3 L529.7,545.2 L530.5,545.1 L531.3,545.0 L532.1,545.0 L532.9,544.9 L533.7,544.9 L534.5,544.8 L535.3,544.8 L536.2,544.7 L537.1,544.7 L538.0,544.7 L538.9,544.7" fill="none" stroke="#3f90d2" stroke-width="1.5"/>
<path d="M567.5,624.6 L567.6,623.8 L567.6,623.2 L567.7,622.5 L567.8,621.8 L567.9,621.0 L567.9,620.2 L568.0,619.4 L568.1,618.6 L568.2,617.8 L568.3,617.0 L568.3,616.2 L568.4,615.4 L568.5,614.6 L568.6,613.8 L568.7,613.0 L568.8,612.2 L568.9,611.4 L569.0,610.6 L569.1,609.8 L569.2,609.0 L569.3,608.2 L569.4,607.4 L569.5,606.6 L569.6,605.8 L569.7,605.0 L569.8,604.2 L569.9,603.4 L570.0,602.6 L570.1,601.8 L570.2,601.0 L570.3,600.2 L570.5,599.4 L570.6,598.6 L570.7,597.8 L570.8,597.0 L571.0,596.2 L571.1,595.5 L571.2,594.7 L571.4,593.9 L571.5,593.1 L571.7,592.3 L571.9,591.5 L572.0,590.7 L572.2,589.9 L572.4,589.1 L572.6,588.4 L572.8,587.6 L572.9,586.8 L573.1,586.0 L573.3,585.2 L573.5,584.5 L573.7,583.7 L573.9,582.9 L574.2,582.1 L574.4,581.3 L574.6,580.6 L574.8,579.8 L575.0,579.0 L575.3,578.3 L575.5,577.5 L575.8,576.7 L576.0,576.0 L576.3,575.2 L576.6,574.4 L576.9,573.7 L577.2,572.9 L577.5,572.2 L577.8,571.5 L578.1,570.7 L578.5,570.0 L578.8,569.3 L579.2,568.6 L579.6,567.9 L580.0,567.2 L580.4,566.5 L580.8,565.8 L581.2,565.1 L581.7,564.4 L582.1,563.7 L582.6,563.1 L583.0,562.4 L583.5,561.8 L584.0,561.2 L584.5,560.6 L585.1,560.0 L585.6,559.4 L586.2,558.8 L586.8,558.3 L587.4,557.7 L588.0,557.2 L588.6,556.7 L589.2,556.1 L589.9,555.7 L590.5,555.2 L591.2,554.7 L591.8,554.2 L592.5,553.8 L593.2,553.4 L593.9,553.0 L594.6,552.6 L595.3,552.3 L596.0,551.9 L596.8,551.6 L597.5,551.3 L598.3,551.0 L599.0,550.7 L599.8,550.4 L600.5,550.2 L601.3,549.9 L602.1,549.7 L602.8,549.4 L603.6,549.2 L604.4,548.9 L605.1,548.7 L605.9,548.5 L606.7,548.3 L607.5,548.1 L608.3,547.9 L609.0,547.7 L609.8,547.5 L610.6,547.4 L611.4,547.2 L612.2,547.1 L613.0,546.9 L613.8,546.8 L614.6,546.7 L615.4,546.6 L616.2,546.5 L617.0,546.4 L617.8,546.2 L618.6,546.1 L619.4,546.0 L620.2,545.9 L621.0,545.8 L621.8,545.7 L622.6,545.6 L623.4,545.5 L624.2,545.4 L625.0,545.3 L625.8,545.3 L626.6,545.2 L627.4,545.1 L628.2,545.0 L629.0,545.0 L629.8,544.9 L630.6,544.9 L631.4,544.8 L632.2,544.8 L633.1,544.7 L634.0,544.7 L634.9,544.7 L635.8,544.7" fill="none" stroke="#3f90d2" stroke-width="1.5"/>
<path d="M373.7,624.6 L374.2,624.0 L374.6,623.5 L375.1,623.0 L375.5,622.5 L376.0,621.8 L376.5,621.2 L377.1,620.6 L377.6,620.0 L378.1,619.4 L378.6,618.8 L379.1,618.2 L379.6,617.6 L380.1,617.0 L380.7,616.3 L381.2,615.7 L381.7,615.1 L382.2,614.5 L382.7,613.9 L383.2,613.3 L383.8,612.7 L384.3,612.1 L384.8,611.5 L385.3,610.9 L385.8,610.2 L386.4,609.6 L386.9,609.0 L387.4,608.4 L387.9,607.8 L388.4,607.2 L388.9,606.6 L389.5,606.0 L390.0,605.4 L390.5,604.8 L391.0,604.1 L391.5,603.5 L392.1,602.9 L392.6,602.3 L393.1,601.7 L393.6,601.1 L394.1,600.5 L394.7,599.9 L395.2,599.3 L395.7,598.7 L396.2,598.1 L396.7,597.5 L397.3,596.8 L397.8,596.2 L398.3,595.6 L398.8,595.0 L399.3,594.4 L399.9,593.8 L400.4,593.2 L400.9,592.6 L401.4,592.0 L401.9,591.4 L402.5,590.8 L403.0,590.2 L403.5,589.6 L404.0,589.0 L404.5,588.3 L405.1,587.7 L405.6,587.1 L406.1,586.5 L406.6,585.9 L407.2,585.3 L407.7,584.7 L408.2,584.1 L408.7,583.5 L409.2,582.9 L409.8,582.3 L410.3,581.7 L410.8,581.1 L411.3,580.5 L411.8,579.8 L412.4,579.2 L412.9,578.6 L413.4,578.0 L413.9,577.4 L414.4,576.8 L414.9,576.2 L415.5,575.6 L416.0,575.0 L416.5,574.4 L417.0,573.7 L417.5,573.1 L418.0,572.5 L418.6,571.9 L419.1,571.3 L419.6,570.7 L420.1,570.1 L420.6,569.5 L421.2,568.9 L421.7,568.3 L422.2,567.6 L422.7,567.0 L423.2,566.4 L423.7,565.8 L424.3,565.2 L424.8,564.6 L425.3,564.0 L425.8,563.4 L426.3,562.8 L426.9,562.2 L427.4,561.6 L427.9,561.0 L428.4,560.4 L429.0,559.8 L429.5,559.2 L430.0,558.5 L430.5,557.9 L431.1,557.3 L431.6,556.7 L432.1,556.1 L432.7,555.5 L433.2,555.0 L433.7,554.4 L434.3,553.8 L434.8,553.2 L435.3,552.6 L435.9,552.0 L436.4,551.4 L436.9,550.8 L437.5,550.2 L438.0,549.6 L438.6,549.0 L439.1,548.4 L439.7,547.9 L440.2,547.3 L440.8,546.7 L441.3,546.1 L441.9,545.5 L442.4,545.0 L443.0,544.4 L443.5,543.8 L444.1,543.2 L444.7,542.7 L445.2,542.1 L445.8,541.5 L446.3,541.0 L446.9,540.4 L447.5,539.8 L448.0,539.3 L448.6,538.7 L449.2,538.1 L449.7,537.6 L450.3,537.0 L450.9,536.5 L451.5,535.9 L452.0,535.3 L452.6,534.8 L453.2,534.2 L453.8,533.7 L454.3,533.1 L454.9,532.6 L455.5,532.0 L456.1,531.5 L456.7,530.9 L457.2,530.4 L457.8,529.8 L458.4,529.3 L459.0,528.7 L459.6,528.2 L460.2,527.6 L460.7,527.1 L461.3,526.5 L461.9,526.0 L462.5,525.5 L463.1,524.9 L463.7,524.4 L464.3,523.8 L464.8,523.3 L465.4,522.7 L466.0,522.2 L466.6,521.6 L467.2,521.1 L467.8,520.6 L468.4,520.0 L469.0,519.5 L469.5,518.9 L470.1,518.4 L470.7,517.8 L471.3,517.3 L471.9,516.7 L472.5,516.2 L473.1,515.7 L473.6,515.1 L474.2,514.6 L474.8,514.0 L475.4,513.5 L476.0,512.9 L476.6,512.4 L477.1,511.8 L477.7,511.3 L478.3,510.7 L478.9,510.2 L479.5,509.6 L480.0,509.1 L480.6,508.5 L481.2,508.0 L481.8,507.4 L482.4,506.9 L482.9,506.3 L483.5,505.8 L484.1,505.2 L484.7,504.6 L485.2,504.1 L485.8,503.5 L486.4,503.0 L487.0,502.4 L487.5,501.9 L488.1,501.3 L488.7,500.8 L489.3,500.2 L489.9,499.7 L490.4,499.1 L491.0,498.5 L491.6,498.0 L492.2,497.4 L492.7,496.9 L493.3,496.3 L493.9,495.8 L494.5,495.2 L495.0,494.7 L495.6,494.1 L496.2,493.6 L496.8,493.0 L497.4,492.4 L497.9,491.9 L498.5,491.3 L499.1,490.8 L499.7,490.2 L500.2,489.7 L500.8,489.1 L501.4,488.6 L502.0,488.0 L502.6,487.5 L503.1,486.9 L503.7,486.4 L504.3,485.8 L504.9,485.3 L505.5,484.7 L506.1,484.2 L506.6,483.6 L507.2,483.1 L507.8,482.5 L508.4,482.0 L509.0,481.5 L509.6,480.9 L510.1,480.4 L510.7,479.8 L511.3,479.3 L511.9,478.7 L512.5,478.2 L513.1,477.6 L513.7,477.1 L514.2,476.5 L514.8,476.0 L515.4,475.5 L516.0,474.9 L516.6,474.4 L517.2,473.8 L517.8,473.3 L518.3,472.7 L518.9,472.2 L519.5,471.7 L520.1,471.1 L520.7,470.6 L521.3,470.0 L521.9,469.5 L522.5,469.0 L523.1,468.5 L523.7,467.9 L524.3,467.4 L524.9,466.9 L525.5,466.4 L526.2,465.9 L526.8,465.4 L527.4,464.8 L528.0,464.3 L528.6,463.8 L529.2,463.3 L529.8,462.8 L530.4,462.3 L531.1,461.7 L531.7,461.2 L532.3,460.7 L532.9,460.2 L533.5,459.7 L534.1,459.2 L534.7,458.7 L535.3,458.1 L536.0,457.6 L536.6,457.1 L537.2,456.6 L537.8,456.1 L538.5,455.7 L539.1,455.2 L539.7,454.7 L540.4,454.2 L541.0,453.7 L541.7,453.3 L542.3,452.8 L543.0,452.4 L543.7,451.9 L544.3,451.5 L545.0,451.1 L545.7,450.7 L546.4,450.3 L547.1,449.9 L547.8,449.5 L548.5,449.1 L549.2,448.8 L550.0,448.4 L550.7,448.1 L551.4,447.7 L552.1,447.4 L552.8,447.0 L553.6,446.7 L554.3,446.4 L555.0,446.0 L555.8,445.7 L556.5,445.4 L557.2,445.1 L558.0,444.8 L558.7,444.5 L559.5,444.2 L560.2,443.9 L561.0,443.7 L561.7,443.4 L562.5,443.2 L563.2,442.9 L564.0,442.7 L564.9,442.5 L565.7,442.2 L566.6,442.0 L567.5,441.8" fill="none" stroke="#3f90d2" stroke-width="1.5"/>
<text x="382.2" y="549.3" font-size="8.8" fill="#3a3a3a"><tspan font-style="italic">T</tspan><tspan font-size="6.3" dy="1.9">0</tspan></text><path d="M387.3,553.2 C387.8,556.5 390,558.6 393.2,559" fill="none" stroke="#444" stroke-width="0.6"/>
<text x="437" y="609.6" font-size="8.8" fill="#3a3a3a"><tspan font-style="italic">T</tspan><tspan font-size="6.3" dy="1.9">d</tspan></text><path d="M442.2,604.5 C444.5,604.3 447.5,603.5 448.3,601.3" fill="none" stroke="#444" stroke-width="0.6"/>
<text x="479.1" y="549.3" font-size="8.8" fill="#3a3a3a"><tspan font-style="italic">T</tspan><tspan font-size="6.3" dy="1.9">0</tspan></text><path d="M484.20000000000005,553.2 C484.70000000000005,556.5 486.9,558.6 490.1,559" fill="none" stroke="#444" stroke-width="0.6"/>
<text x="533.9" y="609.6" font-size="8.8" fill="#3a3a3a"><tspan font-style="italic">T</tspan><tspan font-size="6.3" dy="1.9">d</tspan></text><path d="M539.1,604.5 C541.4,604.3 544.4,603.5 545.2,601.3" fill="none" stroke="#444" stroke-width="0.6"/>
<text x="576.0" y="549.3" font-size="8.8" fill="#3a3a3a"><tspan font-style="italic">T</tspan><tspan font-size="6.3" dy="1.9">0</tspan></text><path d="M581.1,553.2 C581.6,556.5 583.8,558.6 587.0,559" fill="none" stroke="#444" stroke-width="0.6"/>
<text x="630.8" y="609.6" font-size="8.8" fill="#3a3a3a"><tspan font-style="italic">T</tspan><tspan font-size="6.3" dy="1.9">d</tspan></text><path d="M636.0,604.5 C638.3,604.3 641.3,603.5 642.1,601.3" fill="none" stroke="#444" stroke-width="0.6"/>
<text x="515.4" y="457.2" font-size="8.8" fill="#3a3a3a"><tspan font-style="italic">T</tspan><tspan font-size="6.3" dy="1.9">0</tspan></text><path d="M520.2,461.6 C520.8,464.5 523,466.2 525.6,466.7" fill="none" stroke="#444" stroke-width="0.6"/>
<text x="572.6" y="486.9" font-size="8.8" fill="#3a3a3a"><tspan font-style="italic">T</tspan><tspan font-size="6.3" dy="1.9">d</tspan></text><path d="M578.3,481.8 C581,481.6 583.6,479.5 584.6,475.9" fill="none" stroke="#444" stroke-width="0.6"/>
<path d="M478.9,489.9 L437.3,489.9 L437.3,473.3 L494.7,473.3 L494.7,489.9 L489.6,489.9 L489.3,500.1 L478.9,489.9" fill="#fff" stroke="#aebdd2" stroke-width="0.8"/>
<text x="442" y="484.6" font-size="8.6" fill="#3a3a3a" text-anchor="start" font-weight="normal" textLength="47.1" lengthAdjust="spacingAndGlyphs">High uptake</text>
<path d="M422.4,533.5 L397.4,533.5 L397.4,506.5 L437.4,506.5 L437.4,533.5 L432.5,533.5 L432.1,544.6 L422.4,533.5" fill="#fff" stroke="#aebdd2" stroke-width="0.8"/>
<text x="401.9" y="518.3" font-size="8.6" fill="#3a3a3a" text-anchor="start" font-weight="normal">Fast</text>
<text x="401.9" y="527.8" font-size="8.6" fill="#3a3a3a" text-anchor="start" font-weight="normal">kinetics</text>
</svg></body></html>
